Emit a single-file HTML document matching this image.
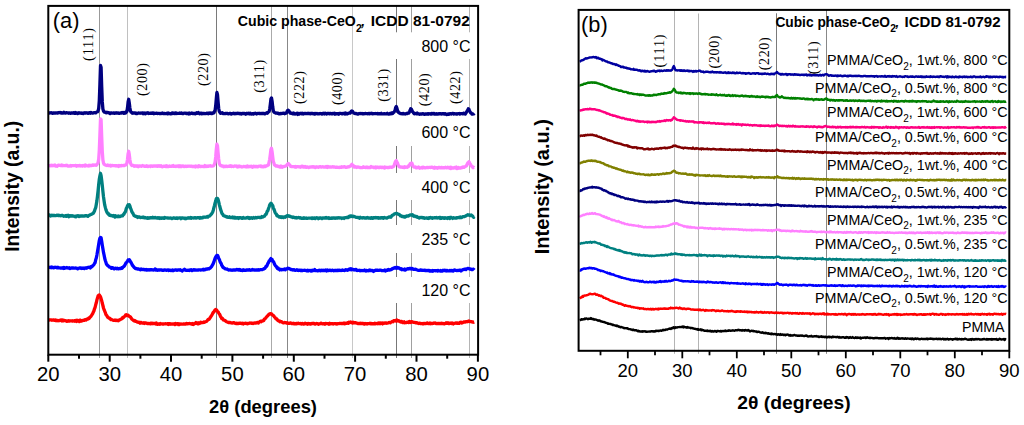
<!DOCTYPE html><html><head><meta charset="utf-8"><style>html,body{margin:0;padding:0;background:#fff;width:1024px;height:425px;overflow:hidden}svg{display:block}text{font-family:"Liberation Sans",sans-serif}.sr{font-family:"Liberation Serif",serif}</style></head><body>
<svg width="1024" height="425" viewBox="0 0 1024 425">
<rect width="1024" height="425" fill="#fff"/>
<line x1="99.5" y1="5.5" x2="99.5" y2="358" stroke="#999" stroke-width="1"/>
<line x1="127.5" y1="5.5" x2="127.5" y2="358" stroke="#c0c0c0" stroke-width="1"/>
<line x1="216.5" y1="5.5" x2="216.5" y2="358" stroke="#7a7a7a" stroke-width="1"/>
<line x1="271.5" y1="5.5" x2="271.5" y2="358" stroke="#aaa" stroke-width="1"/>
<line x1="287.5" y1="5.5" x2="287.5" y2="358" stroke="#888" stroke-width="1"/>
<line x1="352.5" y1="5.5" x2="352.5" y2="358" stroke="#c8c8c8" stroke-width="1"/>
<line x1="396.5" y1="6" x2="396.5" y2="32.3" stroke="#777" stroke-width="1"/>
<line x1="396.5" y1="59" x2="396.5" y2="113" stroke="#777" stroke-width="1"/>
<line x1="396.5" y1="146" x2="396.5" y2="173" stroke="#777" stroke-width="1"/>
<line x1="396.5" y1="200" x2="396.5" y2="225" stroke="#777" stroke-width="1"/>
<line x1="396.5" y1="253" x2="396.5" y2="277" stroke="#777" stroke-width="1"/>
<line x1="396.5" y1="303" x2="396.5" y2="358" stroke="#777" stroke-width="1"/>
<line x1="411.5" y1="6" x2="411.5" y2="32.3" stroke="#a0a0a0" stroke-width="1"/>
<line x1="411.5" y1="59" x2="411.5" y2="113" stroke="#a0a0a0" stroke-width="1"/>
<line x1="411.5" y1="146" x2="411.5" y2="173" stroke="#a0a0a0" stroke-width="1"/>
<line x1="411.5" y1="200" x2="411.5" y2="225" stroke="#a0a0a0" stroke-width="1"/>
<line x1="411.5" y1="253" x2="411.5" y2="277" stroke="#a0a0a0" stroke-width="1"/>
<line x1="411.5" y1="303" x2="411.5" y2="358" stroke="#a0a0a0" stroke-width="1"/>
<line x1="469.5" y1="6" x2="469.5" y2="32.3" stroke="#b4b4b4" stroke-width="1"/>
<line x1="469.5" y1="59" x2="469.5" y2="113" stroke="#b4b4b4" stroke-width="1"/>
<line x1="469.5" y1="146" x2="469.5" y2="173" stroke="#b4b4b4" stroke-width="1"/>
<line x1="469.5" y1="200" x2="469.5" y2="225" stroke="#b4b4b4" stroke-width="1"/>
<line x1="469.5" y1="253" x2="469.5" y2="277" stroke="#b4b4b4" stroke-width="1"/>
<line x1="469.5" y1="303" x2="469.5" y2="358" stroke="#b4b4b4" stroke-width="1"/>
<path d="M48.3 113.0L48.9 113.1L49.5 112.9L50.1 112.7L50.7 112.9L51.3 112.7L51.9 113.0L52.5 113.4L53.1 112.9L53.7 112.8L54.3 113.1L54.9 113.1L55.5 113.0L56.1 112.8L56.7 113.0L57.3 113.2L57.9 112.6L58.5 112.9L59.1 112.5L59.7 112.7L60.3 112.5L60.9 113.0L61.5 112.7L62.1 113.1L62.7 113.1L63.3 113.0L63.9 112.3L64.5 112.9L65.1 113.0L65.7 113.1L66.3 112.6L66.9 112.9L67.5 112.8L68.1 112.8L68.7 113.3L69.3 112.8L69.9 113.0L70.5 113.3L71.1 112.9L71.7 113.0L72.3 113.1L72.9 113.1L73.5 112.7L74.1 113.1L74.7 113.4L75.3 112.6L75.9 113.3L76.5 113.1L77.1 112.9L77.7 113.6L78.3 113.3L78.9 112.7L79.5 113.1L80.1 113.2L80.7 113.0L81.3 113.3L81.9 113.0L82.5 113.2L83.1 113.5L83.7 112.9L84.3 113.1L84.9 112.9L85.5 113.1L86.1 112.7L86.7 112.9L87.3 113.0L87.9 113.3L88.5 113.3L89.1 112.6L89.7 112.8L90.3 113.2L90.9 112.4L91.5 112.8L92.1 112.9L92.7 113.2L93.3 113.0L93.9 112.7L94.5 112.6L95.1 112.6L95.7 112.9L96.3 112.2L96.9 112.0L97.5 111.8L98.1 110.8L98.7 108.4L99.3 100.5L99.9 84.3L100.5 65.5L101.1 67.2L101.7 86.4L102.3 101.9L102.9 109.0L103.5 110.9L104.1 112.0L104.7 112.1L105.3 112.5L105.9 112.2L106.5 112.8L107.1 112.3L107.7 112.3L108.3 112.8L108.9 112.7L109.5 113.0L110.1 113.6L110.7 112.8L111.3 112.9L111.9 113.1L112.5 113.2L113.1 113.0L113.7 113.0L114.3 113.3L114.9 113.3L115.5 112.8L116.1 113.1L116.7 113.1L117.3 112.8L117.9 113.2L118.5 112.9L119.1 113.4L119.7 113.2L120.3 113.1L120.9 112.9L121.5 113.1L122.1 112.5L122.7 112.8L123.3 113.2L123.9 112.4L124.5 113.2L125.1 112.4L125.7 112.9L126.3 112.1L126.9 111.4L127.5 107.9L128.1 101.9L128.7 99.3L129.3 102.9L129.9 108.0L130.5 111.1L131.1 112.3L131.7 112.5L132.3 113.2L132.9 112.8L133.5 113.0L134.1 112.9L134.7 113.0L135.3 112.8L135.9 113.5L136.5 113.2L137.1 113.5L137.7 113.2L138.3 113.0L138.9 113.1L139.5 113.1L140.1 113.3L140.7 113.1L141.3 113.2L141.9 112.9L142.5 113.0L143.1 113.7L143.7 113.1L144.3 113.0L144.9 113.4L145.5 113.7L146.1 112.9L146.7 113.2L147.3 113.1L147.9 112.8L148.5 113.5L149.1 113.3L149.7 113.3L150.3 113.1L150.9 113.4L151.5 113.2L152.1 113.3L152.7 113.0L153.3 113.0L153.9 113.7L154.5 113.2L155.1 113.4L155.7 113.3L156.3 113.2L156.9 113.2L157.5 113.5L158.1 113.3L158.7 113.3L159.3 113.4L159.9 113.7L160.5 113.5L161.1 113.5L161.7 113.2L162.3 113.0L162.9 113.6L163.5 113.6L164.1 113.3L164.7 113.5L165.3 113.6L165.9 113.6L166.5 113.6L167.1 113.2L167.7 113.8L168.3 113.0L168.9 113.6L169.5 113.5L170.1 113.6L170.7 113.9L171.3 113.8L171.9 113.1L172.5 112.9L173.1 113.6L173.7 113.1L174.3 113.4L174.9 113.6L175.5 112.9L176.1 112.8L176.7 113.5L177.3 113.4L177.9 113.3L178.5 113.4L179.1 113.2L179.7 113.0L180.3 113.4L180.9 113.1L181.5 113.0L182.1 113.6L182.7 113.4L183.3 113.5L183.9 113.2L184.5 113.2L185.1 113.2L185.7 113.2L186.3 113.5L186.9 113.2L187.5 113.5L188.1 113.5L188.7 114.0L189.3 113.1L189.9 113.7L190.5 113.4L191.1 113.4L191.7 113.0L192.3 113.3L192.9 113.7L193.5 113.4L194.1 113.5L194.7 113.4L195.3 113.8L195.9 113.4L196.5 112.8L197.1 113.3L197.7 112.9L198.3 112.5L198.9 113.3L199.5 113.8L200.1 113.5L200.7 113.1L201.3 113.2L201.9 113.8L202.5 113.5L203.1 113.5L203.7 113.4L204.3 113.5L204.9 113.7L205.5 113.6L206.1 113.5L206.7 113.1L207.3 113.6L207.9 113.2L208.5 113.7L209.1 113.0L209.7 113.3L210.3 113.3L210.9 112.9L211.5 113.7L212.1 113.6L212.7 113.0L213.3 113.2L213.9 112.8L214.5 111.3L215.1 110.3L215.7 105.8L216.3 98.7L216.9 92.4L217.5 94.6L218.1 102.0L218.7 108.5L219.3 111.4L219.9 112.4L220.5 113.3L221.1 112.9L221.7 113.1L222.3 112.7L222.9 113.7L223.5 113.6L224.1 113.6L224.7 113.6L225.3 113.5L225.9 113.5L226.5 113.4L227.1 113.4L227.7 113.5L228.3 113.9L228.9 113.7L229.5 113.5L230.1 113.4L230.7 113.4L231.3 114.0L231.9 113.7L232.5 113.6L233.1 113.5L233.7 113.2L234.3 113.5L234.9 113.8L235.5 113.5L236.1 113.5L236.7 113.5L237.3 113.6L237.9 113.1L238.5 113.5L239.1 113.3L239.7 113.8L240.3 113.4L240.9 113.7L241.5 114.0L242.1 113.5L242.7 113.4L243.3 113.6L243.9 113.6L244.5 113.3L245.1 113.7L245.7 114.2L246.3 113.5L246.9 113.5L247.5 113.3L248.1 113.7L248.7 113.2L249.3 113.3L249.9 113.9L250.5 113.3L251.1 113.9L251.7 114.0L252.3 113.7L252.9 113.7L253.5 114.1L254.1 113.5L254.7 113.4L255.3 113.2L255.9 113.6L256.5 114.0L257.1 113.8L257.7 113.3L258.3 113.3L258.9 113.4L259.5 113.6L260.1 113.5L260.7 113.6L261.3 113.6L261.9 113.4L262.5 113.5L263.1 113.6L263.7 113.4L264.3 113.6L264.9 113.9L265.5 113.5L266.1 113.3L266.7 112.8L267.3 113.2L267.9 112.4L268.5 112.1L269.1 111.6L269.7 109.0L270.3 104.5L270.9 99.1L271.5 97.9L272.1 101.3L272.7 106.6L273.3 110.7L273.9 112.0L274.5 112.5L275.1 112.7L275.7 113.1L276.3 113.2L276.9 113.0L277.5 113.4L278.1 113.1L278.7 113.8L279.3 113.8L279.9 113.8L280.5 113.4L281.1 113.7L281.7 113.5L282.3 113.4L282.9 113.4L283.5 113.1L284.1 113.1L284.7 113.7L285.3 113.3L285.9 113.2L286.5 112.9L287.1 111.3L287.7 110.4L288.3 110.2L288.9 110.9L289.5 111.8L290.1 113.1L290.7 113.3L291.3 113.1L291.9 113.2L292.5 113.8L293.1 113.7L293.7 113.1L294.3 114.0L294.9 113.8L295.5 114.0L296.1 113.5L296.7 113.5L297.3 113.3L297.9 114.4L298.5 113.6L299.1 114.1L299.7 113.5L300.3 113.7L300.9 113.2L301.5 113.6L302.1 113.9L302.7 113.3L303.3 114.0L303.9 113.8L304.5 113.4L305.1 113.5L305.7 113.5L306.3 113.7L306.9 113.5L307.5 113.4L308.1 113.6L308.7 113.4L309.3 113.3L309.9 113.7L310.5 113.9L311.1 113.3L311.7 113.7L312.3 113.5L312.9 113.4L313.5 113.9L314.1 113.5L314.7 114.1L315.3 113.5L315.9 113.8L316.5 113.6L317.1 113.5L317.7 113.9L318.3 113.7L318.9 113.9L319.5 113.7L320.1 113.4L320.7 113.7L321.3 113.7L321.9 114.0L322.5 113.4L323.1 113.7L323.7 113.2L324.3 113.9L324.9 113.4L325.5 113.2L326.1 113.7L326.7 114.0L327.3 113.3L327.9 113.4L328.5 113.5L329.1 113.4L329.7 113.8L330.3 113.5L330.9 113.5L331.5 113.9L332.1 113.5L332.7 113.8L333.3 113.4L333.9 113.4L334.5 113.2L335.1 114.2L335.7 113.6L336.3 113.8L336.9 113.7L337.5 113.8L338.1 113.7L338.7 114.2L339.3 113.4L339.9 113.3L340.5 113.4L341.1 113.3L341.7 113.9L342.3 113.9L342.9 113.4L343.5 113.3L344.1 113.6L344.7 114.1L345.3 112.9L345.9 113.8L346.5 113.4L347.1 113.9L347.7 113.3L348.3 113.5L348.9 113.1L349.5 113.0L350.1 113.2L350.7 112.4L351.3 111.3L351.9 111.0L352.5 111.2L353.1 112.3L353.7 113.0L354.3 113.3L354.9 113.5L355.5 113.3L356.1 113.6L356.7 113.7L357.3 114.0L357.9 114.2L358.5 113.7L359.1 113.5L359.7 113.7L360.3 113.6L360.9 113.5L361.5 113.7L362.1 113.4L362.7 113.9L363.3 113.7L363.9 113.8L364.5 113.7L365.1 113.5L365.7 113.5L366.3 113.7L366.9 113.6L367.5 113.8L368.1 113.7L368.7 113.4L369.3 113.8L369.9 113.4L370.5 113.6L371.1 113.7L371.7 113.2L372.3 113.8L372.9 113.8L373.5 113.7L374.1 113.6L374.7 113.7L375.3 113.5L375.9 113.7L376.5 113.6L377.1 113.8L377.7 113.4L378.3 113.8L378.9 113.8L379.5 113.7L380.1 113.6L380.7 113.9L381.3 113.3L381.9 113.9L382.5 113.8L383.1 113.8L383.7 113.9L384.3 113.6L384.9 113.7L385.5 113.9L386.1 113.9L386.7 113.8L387.3 113.3L387.9 113.9L388.5 114.0L389.1 114.0L389.7 113.7L390.3 113.2L390.9 113.9L391.5 113.5L392.1 112.8L392.7 113.5L393.3 112.8L393.9 112.3L394.5 111.4L395.1 110.1L395.7 107.4L396.3 106.6L396.9 108.2L397.5 110.4L398.1 111.7L398.7 112.7L399.3 112.9L399.9 113.2L400.5 113.6L401.1 113.7L401.7 113.6L402.3 113.9L402.9 113.4L403.5 113.6L404.1 113.9L404.7 113.8L405.3 114.0L405.9 113.8L406.5 113.5L407.1 113.7L407.7 113.2L408.3 112.8L408.9 113.0L409.5 111.8L410.1 110.5L410.7 108.7L411.3 109.1L411.9 110.3L412.5 111.6L413.1 112.2L413.7 113.2L414.3 113.8L414.9 113.7L415.5 113.5L416.1 113.7L416.7 113.9L417.3 113.0L417.9 113.7L418.5 113.9L419.1 114.0L419.7 114.3L420.3 114.1L420.9 113.9L421.5 113.9L422.1 114.0L422.7 113.6L423.3 113.8L423.9 114.1L424.5 114.4L425.1 113.8L425.7 113.8L426.3 113.9L426.9 114.2L427.5 113.8L428.1 114.2L428.7 113.6L429.3 113.8L429.9 113.8L430.5 114.0L431.1 114.1L431.7 113.4L432.3 113.6L432.9 113.9L433.5 113.6L434.1 113.4L434.7 114.1L435.3 114.0L435.9 114.0L436.5 113.7L437.1 114.1L437.7 113.8L438.3 114.1L438.9 113.6L439.5 113.6L440.1 113.9L440.7 113.6L441.3 114.0L441.9 113.9L442.5 113.6L443.1 113.9L443.7 113.7L444.3 114.1L444.9 113.7L445.5 113.7L446.1 114.2L446.7 114.5L447.3 114.4L447.9 113.9L448.5 113.9L449.1 114.3L449.7 113.8L450.3 113.6L450.9 113.9L451.5 114.0L452.1 113.6L452.7 113.4L453.3 113.4L453.9 114.0L454.5 113.6L455.1 113.8L455.7 113.9L456.3 114.0L456.9 113.7L457.5 114.0L458.1 113.6L458.7 113.7L459.3 113.5L459.9 114.1L460.5 113.8L461.1 113.6L461.7 113.7L462.3 113.7L462.9 113.9L463.5 113.2L464.1 113.3L464.7 113.4L465.3 114.0L465.9 113.1L466.5 112.0L467.1 111.0L467.7 110.2L468.3 108.8L468.9 109.2L469.5 110.9L470.1 111.9L470.7 112.9L471.3 113.1L471.9 114.0L472.5 114.1L473.1 113.9L473.7 113.9L474.3 113.2" fill="none" stroke="#000080" stroke-width="3.3" stroke-linejoin="round"/>
<path d="M48.3 165.8L48.9 165.5L49.5 165.7L50.1 165.8L50.7 165.5L51.3 165.1L51.9 165.7L52.5 165.4L53.1 165.5L53.7 165.4L54.3 165.5L54.9 165.0L55.5 166.0L56.1 165.7L56.7 165.9L57.3 166.2L57.9 165.6L58.5 165.1L59.1 165.4L59.7 165.3L60.3 165.5L60.9 165.7L61.5 165.1L62.1 165.7L62.7 165.2L63.3 165.7L63.9 165.6L64.5 165.6L65.1 165.6L65.7 165.5L66.3 165.5L66.9 165.2L67.5 165.7L68.1 166.2L68.7 166.2L69.3 166.0L69.9 165.9L70.5 165.5L71.1 166.1L71.7 165.7L72.3 165.7L72.9 165.6L73.5 165.7L74.1 165.6L74.7 165.7L75.3 165.4L75.9 165.6L76.5 166.3L77.1 165.7L77.7 165.6L78.3 165.9L78.9 165.9L79.5 165.4L80.1 165.6L80.7 166.0L81.3 165.8L81.9 165.7L82.5 166.1L83.1 165.5L83.7 165.7L84.3 165.5L84.9 166.1L85.5 165.1L86.1 165.5L86.7 165.5L87.3 165.9L87.9 165.8L88.5 166.0L89.1 165.2L89.7 165.8L90.3 165.5L90.9 165.4L91.5 165.7L92.1 165.3L92.7 164.9L93.3 165.3L93.9 165.0L94.5 165.1L95.1 165.3L95.7 165.1L96.3 165.3L96.9 164.5L97.5 163.6L98.1 162.6L98.7 159.0L99.3 150.0L99.9 134.7L100.5 118.9L101.1 119.6L101.7 136.5L102.3 151.5L102.9 159.9L103.5 163.0L104.1 164.3L104.7 164.6L105.3 165.2L105.9 165.2L106.5 165.4L107.1 165.5L107.7 165.0L108.3 165.5L108.9 165.5L109.5 165.7L110.1 165.3L110.7 166.1L111.3 165.7L111.9 165.4L112.5 165.3L113.1 165.7L113.7 165.7L114.3 165.6L114.9 165.8L115.5 165.6L116.1 166.0L116.7 165.6L117.3 165.8L117.9 166.1L118.5 166.5L119.1 165.5L119.7 165.7L120.3 165.6L120.9 166.0L121.5 165.5L122.1 165.6L122.7 165.7L123.3 165.4L123.9 165.4L124.5 165.5L125.1 164.9L125.7 164.9L126.3 164.6L126.9 163.1L127.5 159.4L128.1 153.8L128.7 151.3L129.3 154.6L129.9 159.7L130.5 163.1L131.1 164.5L131.7 165.5L132.3 165.4L132.9 165.3L133.5 165.5L134.1 166.2L134.7 165.9L135.3 166.2L135.9 165.8L136.5 166.2L137.1 165.8L137.7 165.9L138.3 166.7L138.9 166.2L139.5 165.8L140.1 166.0L140.7 166.1L141.3 166.3L141.9 165.9L142.5 165.5L143.1 165.9L143.7 166.0L144.3 166.1L144.9 166.4L145.5 166.1L146.1 166.3L146.7 165.7L147.3 166.3L147.9 166.6L148.5 166.3L149.1 166.1L149.7 166.1L150.3 166.6L150.9 165.8L151.5 166.0L152.1 166.2L152.7 166.3L153.3 166.0L153.9 166.2L154.5 166.0L155.1 166.1L155.7 166.1L156.3 165.8L156.9 166.1L157.5 166.4L158.1 165.8L158.7 166.1L159.3 166.3L159.9 165.8L160.5 166.2L161.1 165.8L161.7 166.5L162.3 166.8L162.9 166.7L163.5 166.1L164.1 166.4L164.7 166.2L165.3 166.2L165.9 166.6L166.5 165.8L167.1 166.5L167.7 166.2L168.3 166.6L168.9 166.2L169.5 166.0L170.1 166.3L170.7 166.4L171.3 166.2L171.9 166.3L172.5 166.0L173.1 165.6L173.7 166.4L174.3 166.4L174.9 166.2L175.5 166.2L176.1 166.5L176.7 166.1L177.3 166.0L177.9 166.2L178.5 166.6L179.1 165.8L179.7 166.6L180.3 166.0L180.9 165.9L181.5 166.6L182.1 166.2L182.7 165.9L183.3 166.1L183.9 166.5L184.5 166.6L185.1 166.1L185.7 166.4L186.3 166.5L186.9 166.1L187.5 166.4L188.1 166.3L188.7 166.1L189.3 166.1L189.9 166.3L190.5 166.3L191.1 166.1L191.7 166.2L192.3 166.6L192.9 166.3L193.5 166.5L194.1 166.6L194.7 166.4L195.3 166.9L195.9 166.1L196.5 166.5L197.1 166.2L197.7 166.8L198.3 166.8L198.9 165.7L199.5 166.0L200.1 166.5L200.7 166.5L201.3 166.5L201.9 166.3L202.5 166.4L203.1 166.5L203.7 166.3L204.3 166.6L204.9 165.6L205.5 166.4L206.1 166.0L206.7 166.5L207.3 166.2L207.9 166.0L208.5 166.3L209.1 165.9L209.7 165.9L210.3 165.7L210.9 166.1L211.5 166.2L212.1 166.2L212.7 165.8L213.3 165.9L213.9 165.2L214.5 164.2L215.1 161.9L215.7 157.0L216.3 149.5L216.9 144.2L217.5 145.9L218.1 152.9L218.7 159.0L219.3 163.4L219.9 164.7L220.5 165.6L221.1 165.5L221.7 166.0L222.3 166.1L222.9 166.0L223.5 166.7L224.1 166.3L224.7 166.7L225.3 166.6L225.9 166.1L226.5 166.2L227.1 166.5L227.7 166.4L228.3 166.4L228.9 166.3L229.5 165.9L230.1 166.3L230.7 165.8L231.3 166.5L231.9 166.2L232.5 166.2L233.1 166.4L233.7 166.5L234.3 166.1L234.9 166.0L235.5 166.2L236.1 165.9L236.7 166.2L237.3 166.9L237.9 166.2L238.5 166.7L239.1 166.1L239.7 166.6L240.3 166.4L240.9 166.5L241.5 166.7L242.1 167.0L242.7 166.6L243.3 166.6L243.9 166.3L244.5 166.7L245.1 166.5L245.7 166.8L246.3 166.5L246.9 167.0L247.5 166.0L248.1 166.5L248.7 166.8L249.3 166.5L249.9 166.3L250.5 166.5L251.1 166.2L251.7 166.6L252.3 167.2L252.9 166.9L253.5 166.2L254.1 166.3L254.7 166.4L255.3 166.8L255.9 166.3L256.5 166.4L257.1 166.8L257.7 166.8L258.3 166.4L258.9 166.2L259.5 166.1L260.1 166.3L260.7 165.9L261.3 166.7L261.9 166.3L262.5 166.6L263.1 166.9L263.7 166.7L264.3 166.0L264.9 166.5L265.5 166.5L266.1 165.9L266.7 165.7L267.3 165.7L267.9 164.9L268.5 164.9L269.1 162.1L269.7 159.3L270.3 154.7L270.9 149.7L271.5 148.2L272.1 151.7L272.7 156.8L273.3 161.4L273.9 163.0L274.5 164.9L275.1 165.3L275.7 165.9L276.3 166.1L276.9 165.9L277.5 166.1L278.1 166.6L278.7 166.5L279.3 166.3L279.9 167.1L280.5 167.2L281.1 166.1L281.7 166.6L282.3 167.3L282.9 166.8L283.5 166.6L284.1 166.5L284.7 166.3L285.3 166.2L285.9 165.8L286.5 165.7L287.1 164.7L287.7 163.9L288.3 163.4L288.9 164.2L289.5 164.7L290.1 165.6L290.7 166.4L291.3 166.5L291.9 166.7L292.5 166.7L293.1 166.7L293.7 166.7L294.3 166.7L294.9 167.0L295.5 166.5L296.1 167.2L296.7 166.8L297.3 166.6L297.9 166.7L298.5 166.7L299.1 166.9L299.7 166.7L300.3 167.2L300.9 166.7L301.5 166.2L302.1 166.7L302.7 166.3L303.3 166.9L303.9 167.2L304.5 167.1L305.1 166.5L305.7 166.7L306.3 167.4L306.9 167.0L307.5 166.9L308.1 167.2L308.7 167.6L309.3 167.3L309.9 167.0L310.5 167.1L311.1 167.1L311.7 166.8L312.3 166.7L312.9 167.0L313.5 166.7L314.1 167.0L314.7 167.0L315.3 167.6L315.9 166.8L316.5 167.0L317.1 167.0L317.7 167.1L318.3 167.3L318.9 166.9L319.5 166.8L320.1 166.6L320.7 166.8L321.3 167.2L321.9 167.0L322.5 166.7L323.1 166.9L323.7 167.0L324.3 167.2L324.9 166.9L325.5 167.0L326.1 166.5L326.7 166.7L327.3 167.5L327.9 166.5L328.5 167.0L329.1 167.1L329.7 167.0L330.3 166.9L330.9 167.1L331.5 167.1L332.1 167.1L332.7 166.6L333.3 167.1L333.9 166.9L334.5 166.9L335.1 167.2L335.7 167.3L336.3 167.4L336.9 167.0L337.5 167.4L338.1 167.4L338.7 167.4L339.3 167.5L339.9 167.1L340.5 167.1L341.1 167.4L341.7 166.7L342.3 167.2L342.9 167.0L343.5 167.0L344.1 166.6L344.7 166.9L345.3 167.1L345.9 167.4L346.5 167.4L347.1 167.0L347.7 167.0L348.3 166.7L348.9 166.9L349.5 166.5L350.1 166.3L350.7 166.0L351.3 164.9L351.9 164.3L352.5 164.9L353.1 165.4L353.7 166.0L354.3 167.1L354.9 167.0L355.5 166.6L356.1 167.3L356.7 167.5L357.3 167.1L357.9 167.0L358.5 167.1L359.1 167.3L359.7 167.4L360.3 167.6L360.9 167.6L361.5 167.6L362.1 167.6L362.7 167.4L363.3 166.8L363.9 167.2L364.5 167.4L365.1 167.2L365.7 167.5L366.3 167.2L366.9 167.0L367.5 167.7L368.1 167.5L368.7 167.4L369.3 167.6L369.9 167.6L370.5 167.4L371.1 166.6L371.7 167.1L372.3 167.2L372.9 167.1L373.5 167.4L374.1 167.7L374.7 167.2L375.3 167.0L375.9 167.9L376.5 167.2L377.1 167.0L377.7 167.4L378.3 167.5L378.9 167.2L379.5 167.6L380.1 167.2L380.7 167.1L381.3 167.4L381.9 167.6L382.5 167.2L383.1 167.4L383.7 167.3L384.3 168.1L384.9 167.1L385.5 167.7L386.1 167.3L386.7 167.3L387.3 167.5L387.9 167.6L388.5 167.6L389.1 167.4L389.7 167.1L390.3 167.1L390.9 167.3L391.5 167.2L392.1 167.3L392.7 166.8L393.3 166.6L393.9 166.0L394.5 164.4L395.1 162.5L395.7 161.2L396.3 160.6L396.9 162.1L397.5 162.9L398.1 164.9L398.7 165.8L399.3 166.8L399.9 167.0L400.5 166.9L401.1 167.0L401.7 167.2L402.3 167.3L402.9 167.1L403.5 167.3L404.1 167.7L404.7 166.8L405.3 167.3L405.9 167.0L406.5 167.2L407.1 167.3L407.7 166.9L408.3 166.7L408.9 165.4L409.5 165.3L410.1 163.8L410.7 163.3L411.3 163.2L411.9 163.2L412.5 164.8L413.1 166.0L413.7 167.0L414.3 167.0L414.9 167.2L415.5 166.9L416.1 167.8L416.7 167.9L417.3 167.5L417.9 167.4L418.5 167.0L419.1 167.8L419.7 168.3L420.3 167.8L420.9 167.9L421.5 167.7L422.1 167.3L422.7 168.0L423.3 167.3L423.9 167.6L424.5 167.7L425.1 167.9L425.7 167.7L426.3 167.7L426.9 167.4L427.5 167.3L428.1 167.7L428.7 167.5L429.3 167.3L429.9 167.3L430.5 167.5L431.1 167.2L431.7 167.3L432.3 167.2L432.9 167.7L433.5 167.8L434.1 168.3L434.7 167.3L435.3 167.5L435.9 168.0L436.5 167.7L437.1 167.6L437.7 168.2L438.3 167.6L438.9 167.4L439.5 167.4L440.1 167.8L440.7 167.8L441.3 167.4L441.9 167.5L442.5 167.9L443.1 167.9L443.7 167.6L444.3 167.9L444.9 167.9L445.5 167.3L446.1 167.7L446.7 167.9L447.3 167.6L447.9 167.2L448.5 167.7L449.1 168.0L449.7 168.2L450.3 167.2L450.9 168.5L451.5 167.5L452.1 168.1L452.7 168.1L453.3 168.1L453.9 167.8L454.5 167.5L455.1 168.0L455.7 167.6L456.3 167.1L456.9 168.6L457.5 168.0L458.1 168.3L458.7 167.5L459.3 168.2L459.9 168.2L460.5 168.2L461.1 167.7L461.7 167.3L462.3 167.6L462.9 167.0L463.5 167.0L464.1 167.4L464.7 166.8L465.3 166.7L465.9 166.1L466.5 165.8L467.1 164.5L467.7 163.0L468.3 162.5L468.9 161.8L469.5 162.6L470.1 164.1L470.7 164.6L471.3 165.9L471.9 166.3L472.5 167.1L473.1 167.8L473.7 167.3L474.3 167.7" fill="none" stroke="#ff80ff" stroke-width="3.3" stroke-linejoin="round"/>
<path d="M48.3 214.9L48.9 214.9L49.5 214.9L50.1 215.7L50.7 216.0L51.3 215.5L51.9 215.1L52.5 215.6L53.1 215.3L53.7 215.6L54.3 215.5L54.9 215.6L55.5 215.7L56.1 215.4L56.7 215.4L57.3 215.1L57.9 215.5L58.5 215.2L59.1 215.6L59.7 215.4L60.3 215.7L60.9 215.8L61.5 215.3L62.1 215.5L62.7 215.5L63.3 216.0L63.9 216.3L64.5 216.1L65.1 215.8L65.7 216.3L66.3 215.5L66.9 216.3L67.5 215.8L68.1 215.2L68.7 216.7L69.3 216.4L69.9 215.7L70.5 216.1L71.1 216.0L71.7 216.1L72.3 215.7L72.9 215.9L73.5 216.2L74.1 216.2L74.7 216.5L75.3 216.2L75.9 216.8L76.5 216.0L77.1 216.2L77.7 215.6L78.3 215.8L78.9 216.6L79.5 215.9L80.1 216.3L80.7 216.1L81.3 215.8L81.9 216.0L82.5 215.9L83.1 215.9L83.7 216.2L84.3 216.1L84.9 215.8L85.5 215.6L86.1 215.9L86.7 215.7L87.3 215.9L87.9 216.3L88.5 215.7L89.1 215.3L89.7 215.1L90.3 214.7L90.9 214.5L91.5 214.2L92.1 214.0L92.7 213.5L93.3 213.2L93.9 212.1L94.5 211.0L95.1 209.1L95.7 207.7L96.3 204.4L96.9 200.9L97.5 196.0L98.1 190.7L98.7 184.4L99.3 179.2L99.9 175.8L100.5 173.3L101.1 175.7L101.7 180.2L102.3 185.4L102.9 191.3L103.5 196.8L104.1 200.9L104.7 204.9L105.3 207.4L105.9 209.6L106.5 211.2L107.1 212.5L107.7 213.4L108.3 214.1L108.9 214.0L109.5 215.4L110.1 215.4L110.7 215.5L111.3 215.4L111.9 215.7L112.5 216.0L113.1 216.1L113.7 215.6L114.3 216.4L114.9 217.0L115.5 215.7L116.1 216.6L116.7 216.5L117.3 216.3L117.9 216.8L118.5 216.0L119.1 216.4L119.7 216.7L120.3 216.2L120.9 216.0L121.5 216.0L122.1 215.6L122.7 215.8L123.3 214.6L123.9 214.4L124.5 212.9L125.1 212.3L125.7 210.8L126.3 208.5L126.9 207.6L127.5 205.8L128.1 204.8L128.7 205.0L129.3 204.7L129.9 205.9L130.5 208.1L131.1 209.4L131.7 211.4L132.3 212.5L132.9 213.3L133.5 214.5L134.1 215.6L134.7 216.0L135.3 216.1L135.9 216.4L136.5 216.6L137.1 216.7L137.7 217.5L138.3 217.1L138.9 216.8L139.5 217.1L140.1 217.5L140.7 217.5L141.3 217.4L141.9 217.3L142.5 217.5L143.1 217.0L143.7 217.2L144.3 217.8L144.9 217.5L145.5 217.8L146.1 218.0L146.7 217.9L147.3 217.7L147.9 218.3L148.5 217.9L149.1 217.7L149.7 218.0L150.3 217.9L150.9 217.6L151.5 217.9L152.1 217.8L152.7 217.3L153.3 217.8L153.9 217.8L154.5 217.8L155.1 217.4L155.7 217.8L156.3 217.9L156.9 218.0L157.5 217.6L158.1 218.2L158.7 217.6L159.3 217.9L159.9 218.4L160.5 217.8L161.1 217.9L161.7 218.3L162.3 217.9L162.9 218.0L163.5 218.1L164.1 218.4L164.7 217.4L165.3 217.8L165.9 217.8L166.5 217.8L167.1 217.9L167.7 217.9L168.3 218.2L168.9 217.9L169.5 218.2L170.1 218.2L170.7 217.9L171.3 218.2L171.9 218.6L172.5 218.2L173.1 218.0L173.7 218.1L174.3 217.9L174.9 218.2L175.5 218.4L176.1 217.9L176.7 218.1L177.3 218.5L177.9 218.0L178.5 218.2L179.1 217.8L179.7 217.9L180.3 218.0L180.9 218.7L181.5 218.0L182.1 218.0L182.7 218.0L183.3 218.1L183.9 218.3L184.5 218.2L185.1 218.7L185.7 218.1L186.3 218.5L186.9 218.2L187.5 218.2L188.1 217.7L188.7 218.0L189.3 218.0L189.9 218.0L190.5 217.4L191.1 218.3L191.7 217.9L192.3 217.9L192.9 217.9L193.5 217.9L194.1 218.1L194.7 217.6L195.3 217.7L195.9 218.0L196.5 218.0L197.1 217.8L197.7 217.7L198.3 217.6L198.9 217.8L199.5 218.2L200.1 217.5L200.7 218.2L201.3 218.0L201.9 217.6L202.5 217.9L203.1 217.2L203.7 217.1L204.3 217.1L204.9 217.3L205.5 217.2L206.1 217.1L206.7 217.2L207.3 216.4L207.9 217.0L208.5 216.3L209.1 216.2L209.7 215.9L210.3 215.3L210.9 214.6L211.5 213.9L212.1 213.1L212.7 211.9L213.3 210.2L213.9 207.7L214.5 205.5L215.1 203.0L215.7 201.1L216.3 198.6L216.9 198.6L217.5 198.4L218.1 199.6L218.7 202.0L219.3 204.6L219.9 206.8L220.5 209.2L221.1 210.8L221.7 212.7L222.3 213.9L222.9 214.5L223.5 215.7L224.1 215.8L224.7 216.2L225.3 216.2L225.9 216.6L226.5 217.1L227.1 216.7L227.7 217.3L228.3 217.3L228.9 217.4L229.5 216.8L230.1 217.4L230.7 217.7L231.3 217.4L231.9 217.6L232.5 217.0L233.1 217.9L233.7 217.5L234.3 218.0L234.9 217.2L235.5 218.0L236.1 217.7L236.7 218.0L237.3 217.6L237.9 217.7L238.5 218.5L239.1 217.6L239.7 217.7L240.3 217.8L240.9 217.6L241.5 218.2L242.1 218.4L242.7 217.7L243.3 217.4L243.9 218.2L244.5 218.2L245.1 218.1L245.7 218.2L246.3 217.7L246.9 217.8L247.5 217.5L248.1 217.5L248.7 218.2L249.3 217.7L249.9 218.5L250.5 217.9L251.1 217.7L251.7 218.1L252.3 218.3L252.9 217.9L253.5 217.4L254.1 217.9L254.7 218.1L255.3 217.6L255.9 217.5L256.5 217.9L257.1 217.7L257.7 217.3L258.3 217.4L258.9 217.3L259.5 217.5L260.1 217.4L260.7 217.6L261.3 217.4L261.9 216.6L262.5 217.0L263.1 216.9L263.7 216.5L264.3 216.3L264.9 215.4L265.5 214.6L266.1 214.3L266.7 212.8L267.3 211.2L267.9 210.6L268.5 208.5L269.1 207.0L269.7 205.1L270.3 203.9L270.9 203.3L271.5 203.7L272.1 204.8L272.7 205.5L273.3 208.0L273.9 209.1L274.5 210.7L275.1 212.5L275.7 213.5L276.3 214.0L276.9 215.7L277.5 215.5L278.1 216.2L278.7 216.5L279.3 217.1L279.9 216.7L280.5 217.2L281.1 216.8L281.7 217.4L282.3 216.9L282.9 217.0L283.5 217.6L284.1 217.0L284.7 216.8L285.3 217.3L285.9 216.5L286.5 216.0L287.1 216.2L287.7 215.5L288.3 216.1L288.9 216.3L289.5 216.0L290.1 216.2L290.7 216.7L291.3 216.9L291.9 216.8L292.5 217.5L293.1 216.9L293.7 217.4L294.3 217.5L294.9 217.6L295.5 217.9L296.1 217.5L296.7 218.0L297.3 217.8L297.9 217.7L298.5 217.5L299.1 217.6L299.7 218.0L300.3 217.7L300.9 218.0L301.5 218.3L302.1 218.3L302.7 218.4L303.3 217.9L303.9 217.7L304.5 218.3L305.1 218.1L305.7 218.3L306.3 218.0L306.9 218.4L307.5 218.3L308.1 218.2L308.7 218.2L309.3 218.1L309.9 218.1L310.5 218.1L311.1 218.3L311.7 217.9L312.3 218.5L312.9 218.0L313.5 218.3L314.1 218.0L314.7 218.0L315.3 218.6L315.9 218.0L316.5 217.7L317.1 217.9L317.7 218.0L318.3 218.7L318.9 218.1L319.5 218.3L320.1 217.8L320.7 218.2L321.3 218.2L321.9 218.6L322.5 217.9L323.1 218.2L323.7 218.1L324.3 217.8L324.9 218.0L325.5 218.0L326.1 217.4L326.7 218.2L327.3 218.2L327.9 217.9L328.5 217.7L329.1 218.5L329.7 218.1L330.3 218.3L330.9 218.4L331.5 217.9L332.1 218.3L332.7 218.0L333.3 218.0L333.9 218.0L334.5 218.0L335.1 218.3L335.7 218.0L336.3 218.0L336.9 217.9L337.5 218.1L338.1 217.7L338.7 217.8L339.3 218.0L339.9 217.8L340.5 217.9L341.1 217.8L341.7 218.5L342.3 218.3L342.9 218.0L343.5 217.8L344.1 218.4L344.7 217.8L345.3 217.6L345.9 217.6L346.5 217.5L347.1 217.7L347.7 217.1L348.3 217.5L348.9 216.4L349.5 216.7L350.1 216.0L350.7 216.6L351.3 216.0L351.9 216.1L352.5 216.4L353.1 216.7L353.7 216.2L354.3 216.7L354.9 216.6L355.5 217.2L356.1 217.3L356.7 217.4L357.3 217.4L357.9 217.5L358.5 217.5L359.1 217.9L359.7 218.2L360.3 217.3L360.9 217.8L361.5 217.8L362.1 218.0L362.7 217.7L363.3 217.9L363.9 217.6L364.5 218.1L365.1 218.0L365.7 217.9L366.3 218.1L366.9 217.9L367.5 217.5L368.1 218.1L368.7 218.0L369.3 217.9L369.9 218.2L370.5 218.3L371.1 217.6L371.7 217.7L372.3 218.4L372.9 218.3L373.5 217.7L374.1 217.6L374.7 217.8L375.3 217.8L375.9 217.5L376.5 217.9L377.1 217.6L377.7 217.6L378.3 218.2L378.9 217.7L379.5 217.9L380.1 218.0L380.7 218.1L381.3 217.7L381.9 217.8L382.5 217.6L383.1 218.3L383.7 217.9L384.3 217.4L384.9 217.7L385.5 217.9L386.1 217.8L386.7 218.1L387.3 217.9L387.9 217.3L388.5 217.3L389.1 216.8L389.7 217.1L390.3 216.8L390.9 217.3L391.5 216.2L392.1 215.3L392.7 215.2L393.3 215.0L393.9 214.2L394.5 213.9L395.1 213.7L395.7 213.6L396.3 213.4L396.9 213.3L397.5 214.0L398.1 214.0L398.7 214.4L399.3 214.6L399.9 215.1L400.5 215.9L401.1 215.6L401.7 216.3L402.3 216.7L402.9 216.5L403.5 216.8L404.1 216.4L404.7 217.1L405.3 217.0L405.9 216.6L406.5 215.9L407.1 215.9L407.7 216.2L408.3 216.1L408.9 215.5L409.5 215.5L410.1 214.8L410.7 214.8L411.3 214.9L411.9 215.1L412.5 214.8L413.1 215.8L413.7 216.2L414.3 215.8L414.9 216.0L415.5 216.7L416.1 216.7L416.7 216.4L417.3 217.4L417.9 217.4L418.5 217.3L419.1 218.1L419.7 217.6L420.3 217.4L420.9 217.7L421.5 217.4L422.1 217.5L422.7 217.9L423.3 217.6L423.9 217.7L424.5 218.3L425.1 218.1L425.7 218.1L426.3 218.0L426.9 218.0L427.5 218.3L428.1 217.9L428.7 218.4L429.3 217.6L429.9 217.8L430.5 217.5L431.1 217.8L431.7 218.1L432.3 218.3L432.9 217.7L433.5 217.9L434.1 217.8L434.7 217.7L435.3 217.6L435.9 217.9L436.5 217.4L437.1 218.0L437.7 217.9L438.3 217.7L438.9 217.6L439.5 217.5L440.1 218.4L440.7 217.5L441.3 218.4L441.9 218.1L442.5 217.8L443.1 217.6L443.7 218.2L444.3 218.4L444.9 217.7L445.5 217.8L446.1 218.2L446.7 218.0L447.3 218.5L447.9 217.7L448.5 218.0L449.1 217.5L449.7 218.5L450.3 217.7L450.9 217.3L451.5 217.8L452.1 217.8L452.7 218.4L453.3 217.7L453.9 217.8L454.5 218.0L455.1 218.2L455.7 217.8L456.3 218.1L456.9 217.9L457.5 217.6L458.1 217.7L458.7 217.6L459.3 217.3L459.9 217.8L460.5 217.0L461.1 217.6L461.7 217.5L462.3 217.0L462.9 216.7L463.5 216.6L464.1 216.6L464.7 216.5L465.3 216.1L465.9 216.0L466.5 215.3L467.1 215.3L467.7 214.7L468.3 215.2L468.9 215.0L469.5 214.9L470.1 215.5L470.7 215.6L471.3 214.9L471.9 215.9L472.5 215.8L473.1 216.7L473.7 217.3L474.3 216.7" fill="none" stroke="#008080" stroke-width="3.3" stroke-linejoin="round"/>
<path d="M48.3 267.2L48.9 267.2L49.5 267.4L50.1 267.5L50.7 267.7L51.3 267.1L51.9 267.8L52.5 267.1L53.1 267.5L53.7 267.8L54.3 267.7L54.9 267.2L55.5 267.3L56.1 267.4L56.7 267.6L57.3 267.9L57.9 267.3L58.5 267.8L59.1 267.9L59.7 267.9L60.3 267.9L60.9 268.2L61.5 267.9L62.1 268.1L62.7 268.0L63.3 268.4L63.9 267.4L64.5 268.3L65.1 267.9L65.7 267.9L66.3 267.7L66.9 267.5L67.5 267.9L68.1 267.9L68.7 268.2L69.3 267.7L69.9 268.5L70.5 268.2L71.1 268.1L71.7 268.0L72.3 268.0L72.9 267.9L73.5 268.1L74.1 268.2L74.7 268.2L75.3 267.9L75.9 268.2L76.5 268.1L77.1 268.4L77.7 268.8L78.3 268.5L78.9 268.3L79.5 267.9L80.1 267.9L80.7 267.8L81.3 268.5L81.9 268.1L82.5 268.3L83.1 268.0L83.7 268.2L84.3 268.5L84.9 267.9L85.5 268.0L86.1 267.8L86.7 268.2L87.3 267.6L87.9 267.5L88.5 267.3L89.1 267.2L89.7 267.5L90.3 268.0L90.9 266.8L91.5 267.0L92.1 266.5L92.7 265.7L93.3 265.3L93.9 264.6L94.5 263.4L95.1 262.7L95.7 259.7L96.3 258.0L96.9 255.1L97.5 251.5L98.1 247.9L98.7 244.2L99.3 240.6L99.9 238.2L100.5 237.4L101.1 237.7L101.7 241.3L102.3 245.2L102.9 248.7L103.5 252.4L104.1 255.1L104.7 258.3L105.3 260.5L105.9 262.3L106.5 264.2L107.1 264.7L107.7 265.7L108.3 265.8L108.9 266.7L109.5 267.1L110.1 267.2L110.7 267.4L111.3 268.3L111.9 267.6L112.5 267.7L113.1 267.9L113.7 268.6L114.3 268.9L114.9 268.5L115.5 268.2L116.1 268.3L116.7 268.8L117.3 268.3L117.9 268.9L118.5 268.9L119.1 268.5L119.7 268.6L120.3 268.6L120.9 268.7L121.5 267.8L122.1 268.2L122.7 267.4L123.3 266.8L123.9 266.5L124.5 265.7L125.1 264.6L125.7 263.4L126.3 262.5L126.9 262.0L127.5 261.1L128.1 260.0L128.7 259.9L129.3 259.7L129.9 260.6L130.5 261.8L131.1 262.6L131.7 263.7L132.3 265.1L132.9 265.9L133.5 266.5L134.1 267.5L134.7 267.8L135.3 268.5L135.9 268.5L136.5 268.6L137.1 268.9L137.7 269.0L138.3 268.9L138.9 269.1L139.5 269.5L140.1 269.5L140.7 269.8L141.3 269.0L141.9 269.4L142.5 269.4L143.1 269.6L143.7 269.5L144.3 269.5L144.9 269.9L145.5 269.7L146.1 269.4L146.7 270.1L147.3 270.0L147.9 269.6L148.5 270.0L149.1 269.6L149.7 270.1L150.3 269.8L150.9 269.6L151.5 269.8L152.1 269.7L152.7 269.9L153.3 270.0L153.9 269.9L154.5 269.8L155.1 268.9L155.7 270.0L156.3 269.4L156.9 270.0L157.5 270.3L158.1 270.1L158.7 269.9L159.3 270.0L159.9 270.0L160.5 269.9L161.1 269.9L161.7 269.8L162.3 270.4L162.9 270.1L163.5 270.3L164.1 270.0L164.7 270.1L165.3 270.0L165.9 270.2L166.5 270.3L167.1 270.2L167.7 269.9L168.3 269.9L168.9 270.6L169.5 270.1L170.1 270.1L170.7 270.6L171.3 270.5L171.9 270.3L172.5 270.0L173.1 270.8L173.7 270.3L174.3 270.3L174.9 270.1L175.5 269.8L176.1 269.8L176.7 270.3L177.3 270.3L177.9 270.1L178.5 269.8L179.1 269.8L179.7 270.1L180.3 269.8L180.9 270.4L181.5 270.5L182.1 271.0L182.7 270.4L183.3 270.0L183.9 269.9L184.5 269.2L185.1 270.0L185.7 270.1L186.3 270.4L186.9 270.3L187.5 270.3L188.1 270.2L188.7 270.3L189.3 270.5L189.9 269.8L190.5 270.0L191.1 269.7L191.7 270.6L192.3 270.5L192.9 270.3L193.5 269.7L194.1 270.1L194.7 270.0L195.3 270.1L195.9 270.0L196.5 270.2L197.1 269.9L197.7 270.2L198.3 270.0L198.9 269.9L199.5 269.9L200.1 269.8L200.7 270.1L201.3 269.8L201.9 269.9L202.5 269.7L203.1 269.3L203.7 270.0L204.3 269.4L204.9 269.8L205.5 269.6L206.1 269.0L206.7 269.1L207.3 269.1L207.9 268.9L208.5 268.6L209.1 268.9L209.7 268.3L210.3 268.0L210.9 267.2L211.5 266.7L212.1 265.6L212.7 264.7L213.3 263.5L213.9 261.9L214.5 260.1L215.1 258.3L215.7 257.1L216.3 256.0L216.9 255.3L217.5 255.3L218.1 256.5L218.7 258.4L219.3 259.3L219.9 261.1L220.5 262.7L221.1 263.3L221.7 265.2L222.3 266.0L222.9 267.4L223.5 267.6L224.1 267.9L224.7 268.4L225.3 268.8L225.9 268.8L226.5 269.2L227.1 268.9L227.7 269.4L228.3 269.7L228.9 270.1L229.5 269.8L230.1 269.8L230.7 270.1L231.3 270.1L231.9 270.3L232.5 270.2L233.1 269.9L233.7 270.0L234.3 270.0L234.9 270.1L235.5 270.0L236.1 269.8L236.7 269.4L237.3 269.9L237.9 269.5L238.5 270.1L239.1 270.1L239.7 269.6L240.3 270.3L240.9 270.3L241.5 270.1L242.1 270.6L242.7 270.6L243.3 269.8L243.9 270.4L244.5 270.2L245.1 270.2L245.7 270.4L246.3 269.9L246.9 270.0L247.5 269.9L248.1 269.9L248.7 270.1L249.3 269.7L249.9 269.8L250.5 270.3L251.1 270.1L251.7 270.2L252.3 269.5L252.9 269.8L253.5 269.9L254.1 270.0L254.7 269.8L255.3 270.2L255.9 269.9L256.5 269.9L257.1 269.9L257.7 270.1L258.3 269.7L258.9 270.1L259.5 269.9L260.1 269.7L260.7 269.6L261.3 269.6L261.9 269.6L262.5 269.5L263.1 269.1L263.7 269.0L264.3 268.4L264.9 268.3L265.5 267.4L266.1 266.1L266.7 266.2L267.3 264.9L267.9 263.4L268.5 262.5L269.1 261.1L269.7 260.8L270.3 259.5L270.9 258.6L271.5 259.3L272.1 259.6L272.7 261.2L273.3 261.5L273.9 262.4L274.5 264.2L275.1 265.2L275.7 266.1L276.3 266.4L276.9 267.7L277.5 268.6L278.1 268.0L278.7 269.1L279.3 268.9L279.9 269.9L280.5 269.5L281.1 269.4L281.7 269.8L282.3 269.7L282.9 269.4L283.5 269.7L284.1 269.3L284.7 268.9L285.3 269.8L285.9 269.0L286.5 268.8L287.1 268.9L287.7 268.2L288.3 268.3L288.9 268.6L289.5 268.7L290.1 269.1L290.7 269.6L291.3 269.3L291.9 269.8L292.5 270.0L293.1 269.6L293.7 270.1L294.3 269.8L294.9 270.4L295.5 270.3L296.1 270.2L296.7 269.8L297.3 270.3L297.9 270.0L298.5 270.5L299.1 270.3L299.7 270.1L300.3 270.6L300.9 270.5L301.5 270.2L302.1 270.7L302.7 270.3L303.3 270.3L303.9 270.4L304.5 270.2L305.1 270.3L305.7 270.3L306.3 270.8L306.9 270.8L307.5 270.3L308.1 270.9L308.7 270.4L309.3 270.5L309.9 270.7L310.5 270.5L311.1 271.1L311.7 270.5L312.3 270.1L312.9 270.8L313.5 270.3L314.1 270.3L314.7 269.6L315.3 270.7L315.9 270.7L316.5 270.7L317.1 270.7L317.7 270.9L318.3 270.4L318.9 270.7L319.5 270.2L320.1 270.4L320.7 270.8L321.3 270.6L321.9 270.1L322.5 270.6L323.1 270.4L323.7 270.2L324.3 270.6L324.9 270.4L325.5 270.0L326.1 270.2L326.7 271.0L327.3 270.0L327.9 270.5L328.5 270.6L329.1 270.6L329.7 270.1L330.3 270.4L330.9 270.5L331.5 270.7L332.1 270.3L332.7 270.1L333.3 270.7L333.9 270.8L334.5 270.6L335.1 270.3L335.7 270.6L336.3 270.5L336.9 270.7L337.5 270.1L338.1 270.5L338.7 270.4L339.3 270.1L339.9 270.5L340.5 270.4L341.1 270.3L341.7 270.5L342.3 270.0L342.9 270.3L343.5 270.4L344.1 270.4L344.7 270.5L345.3 269.8L345.9 269.7L346.5 270.0L347.1 270.0L347.7 270.3L348.3 269.8L348.9 269.2L349.5 269.5L350.1 268.9L350.7 268.7L351.3 269.8L351.9 269.1L352.5 269.3L353.1 269.4L353.7 269.9L354.3 269.6L354.9 270.0L355.5 269.5L356.1 269.5L356.7 270.4L357.3 270.5L357.9 270.3L358.5 270.3L359.1 270.4L359.7 270.2L360.3 270.8L360.9 270.6L361.5 270.6L362.1 270.5L362.7 270.7L363.3 270.6L363.9 270.7L364.5 270.1L365.1 270.6L365.7 271.1L366.3 270.3L366.9 270.5L367.5 270.7L368.1 270.8L368.7 270.7L369.3 270.0L369.9 270.6L370.5 270.2L371.1 270.3L371.7 270.7L372.3 270.4L372.9 270.7L373.5 271.4L374.1 270.7L374.7 270.7L375.3 270.2L375.9 270.3L376.5 270.2L377.1 270.3L377.7 270.2L378.3 270.3L378.9 270.4L379.5 270.2L380.1 270.1L380.7 270.1L381.3 270.6L381.9 270.5L382.5 270.7L383.1 270.7L383.7 270.3L384.3 270.6L384.9 269.9L385.5 271.0L386.1 270.6L386.7 270.2L387.3 269.9L387.9 270.2L388.5 269.5L389.1 269.7L389.7 270.0L390.3 269.7L390.9 269.3L391.5 269.5L392.1 268.7L392.7 268.8L393.3 268.3L393.9 268.0L394.5 268.1L395.1 267.5L395.7 268.1L396.3 267.4L396.9 268.2L397.5 267.4L398.1 268.1L398.7 267.9L399.3 268.1L399.9 268.7L400.5 269.1L401.1 268.8L401.7 269.7L402.3 269.2L402.9 269.6L403.5 269.7L404.1 269.8L404.7 269.1L405.3 270.1L405.9 269.7L406.5 269.3L407.1 269.0L407.7 268.7L408.3 268.6L408.9 269.0L409.5 268.6L410.1 268.3L410.7 268.4L411.3 269.0L411.9 268.5L412.5 268.6L413.1 269.3L413.7 269.2L414.3 269.3L414.9 269.3L415.5 269.2L416.1 269.5L416.7 269.8L417.3 270.0L417.9 270.2L418.5 270.4L419.1 270.3L419.7 270.4L420.3 270.1L420.9 269.8L421.5 270.3L422.1 270.2L422.7 270.3L423.3 270.4L423.9 270.2L424.5 270.2L425.1 270.5L425.7 270.6L426.3 270.4L426.9 270.7L427.5 270.5L428.1 270.3L428.7 270.6L429.3 271.1L429.9 270.4L430.5 270.9L431.1 271.0L431.7 271.0L432.3 270.4L432.9 271.2L433.5 270.7L434.1 270.6L434.7 270.6L435.3 270.8L435.9 270.7L436.5 270.6L437.1 271.0L437.7 270.4L438.3 270.4L438.9 270.9L439.5 270.8L440.1 271.0L440.7 270.4L441.3 271.0L441.9 270.8L442.5 271.1L443.1 270.3L443.7 270.7L444.3 270.6L444.9 270.2L445.5 270.5L446.1 271.0L446.7 270.5L447.3 270.4L447.9 270.9L448.5 270.9L449.1 270.9L449.7 270.4L450.3 270.6L450.9 270.9L451.5 270.4L452.1 270.4L452.7 270.9L453.3 271.1L453.9 270.3L454.5 269.9L455.1 270.2L455.7 270.3L456.3 270.5L456.9 270.7L457.5 270.5L458.1 270.3L458.7 270.5L459.3 270.2L459.9 270.4L460.5 270.1L461.1 271.0L461.7 270.4L462.3 269.8L462.9 269.7L463.5 269.7L464.1 269.2L464.7 269.3L465.3 269.2L465.9 269.5L466.5 268.9L467.1 268.7L467.7 268.5L468.3 268.4L468.9 268.7L469.5 268.8L470.1 269.2L470.7 268.9L471.3 269.5L471.9 269.4L472.5 269.5L473.1 269.1L473.7 269.4L474.3 270.1" fill="none" stroke="#0000ff" stroke-width="3.3" stroke-linejoin="round"/>
<path d="M48.3 320.1L48.9 319.9L49.5 320.0L50.1 319.8L50.7 319.8L51.3 319.8L51.9 320.3L52.5 320.1L53.1 320.0L53.7 320.0L54.3 320.3L54.9 320.3L55.5 320.0L56.1 320.7L56.7 320.3L57.3 320.3L57.9 320.8L58.5 320.7L59.1 320.4L59.7 320.6L60.3 320.2L60.9 320.3L61.5 319.9L62.1 320.9L62.7 320.1L63.3 320.8L63.9 320.4L64.5 320.4L65.1 320.7L65.7 320.8L66.3 320.9L66.9 321.3L67.5 320.9L68.1 321.1L68.7 320.7L69.3 321.1L69.9 320.9L70.5 320.8L71.1 320.9L71.7 320.9L72.3 321.0L72.9 321.1L73.5 320.8L74.1 320.8L74.7 321.2L75.3 320.5L75.9 320.8L76.5 321.4L77.1 320.2L77.7 320.8L78.3 321.1L78.9 320.5L79.5 321.6L80.1 320.1L80.7 321.2L81.3 321.1L81.9 320.9L82.5 320.5L83.1 320.5L83.7 320.1L84.3 320.4L84.9 319.7L85.5 319.8L86.1 320.0L86.7 319.2L87.3 319.1L87.9 319.0L88.5 318.2L89.1 318.5L89.7 317.8L90.3 316.7L90.9 316.5L91.5 315.5L92.1 314.5L92.7 313.6L93.3 312.1L93.9 311.0L94.5 308.8L95.1 307.3L95.7 304.8L96.3 302.8L96.9 300.0L97.5 297.9L98.1 295.9L98.7 295.2L99.3 294.9L99.9 295.8L100.5 296.9L101.1 298.6L101.7 300.7L102.3 303.3L102.9 305.5L103.5 308.0L104.1 309.8L104.7 311.1L105.3 312.6L105.9 314.5L106.5 315.3L107.1 316.1L107.7 317.2L108.3 317.5L108.9 318.1L109.5 318.5L110.1 318.4L110.7 319.6L111.3 319.3L111.9 319.7L112.5 319.8L113.1 320.4L113.7 320.3L114.3 320.4L114.9 320.0L115.5 320.5L116.1 320.1L116.7 320.6L117.3 320.5L117.9 320.3L118.5 320.7L119.1 320.1L119.7 319.9L120.3 319.5L120.9 319.1L121.5 319.0L122.1 318.6L122.7 317.5L123.3 317.6L123.9 316.9L124.5 316.4L125.1 315.8L125.7 314.9L126.3 314.7L126.9 315.5L127.5 315.2L128.1 315.1L128.7 316.0L129.3 316.4L129.9 316.6L130.5 317.1L131.1 317.9L131.7 319.0L132.3 319.5L132.9 319.9L133.5 320.5L134.1 320.9L134.7 320.5L135.3 321.3L135.9 321.4L136.5 321.5L137.1 321.9L137.7 322.2L138.3 322.3L138.9 322.1L139.5 322.5L140.1 323.3L140.7 322.5L141.3 322.4L141.9 323.0L142.5 323.2L143.1 323.2L143.7 322.8L144.3 323.5L144.9 323.0L145.5 322.9L146.1 323.1L146.7 323.3L147.3 323.6L147.9 323.6L148.5 323.4L149.1 323.7L149.7 323.5L150.3 323.8L150.9 323.2L151.5 323.1L152.1 323.8L152.7 323.2L153.3 323.6L153.9 323.6L154.5 323.5L155.1 323.6L155.7 324.1L156.3 323.0L156.9 324.0L157.5 324.4L158.1 323.8L158.7 323.8L159.3 324.0L159.9 324.3L160.5 323.5L161.1 323.9L161.7 323.8L162.3 324.0L162.9 323.9L163.5 324.1L164.1 323.8L164.7 323.9L165.3 323.7L165.9 323.8L166.5 323.9L167.1 323.9L167.7 323.6L168.3 324.4L168.9 323.9L169.5 323.6L170.1 324.3L170.7 323.8L171.3 324.2L171.9 324.0L172.5 324.1L173.1 324.1L173.7 323.8L174.3 324.0L174.9 324.6L175.5 323.4L176.1 324.0L176.7 324.1L177.3 323.7L177.9 323.6L178.5 324.6L179.1 323.8L179.7 324.5L180.3 324.1L180.9 324.0L181.5 324.1L182.1 324.1L182.7 324.2L183.3 324.0L183.9 323.9L184.5 323.9L185.1 324.2L185.7 324.1L186.3 323.5L186.9 323.6L187.5 323.9L188.1 323.6L188.7 323.7L189.3 323.5L189.9 323.6L190.5 323.8L191.1 324.0L191.7 323.6L192.3 324.2L192.9 323.6L193.5 324.5L194.1 323.8L194.7 323.6L195.3 323.3L195.9 322.6L196.5 323.3L197.1 323.4L197.7 323.8L198.3 322.8L198.9 323.7L199.5 323.0L200.1 323.2L200.7 322.2L201.3 322.8L201.9 322.6L202.5 322.7L203.1 322.4L203.7 321.9L204.3 322.3L204.9 322.0L205.5 321.7L206.1 321.5L206.7 321.2L207.3 320.5L207.9 319.7L208.5 319.1L209.1 319.3L209.7 318.4L210.3 317.5L210.9 316.5L211.5 315.6L212.1 314.6L212.7 313.4L213.3 312.3L213.9 312.1L214.5 310.7L215.1 309.9L215.7 309.5L216.3 309.7L216.9 310.6L217.5 311.3L218.1 311.9L218.7 313.0L219.3 314.0L219.9 314.8L220.5 316.5L221.1 317.1L221.7 318.5L222.3 318.3L222.9 319.1L223.5 320.0L224.1 320.2L224.7 320.3L225.3 320.7L225.9 321.3L226.5 321.7L227.1 321.8L227.7 322.3L228.3 322.5L228.9 322.4L229.5 322.5L230.1 322.5L230.7 322.8L231.3 323.0L231.9 322.8L232.5 323.0L233.1 322.9L233.7 322.6L234.3 322.8L234.9 323.3L235.5 323.3L236.1 323.6L236.7 323.2L237.3 323.5L237.9 323.6L238.5 323.6L239.1 323.1L239.7 323.3L240.3 323.4L240.9 323.1L241.5 323.5L242.1 323.6L242.7 323.2L243.3 323.9L243.9 323.3L244.5 323.3L245.1 323.3L245.7 323.2L246.3 323.5L246.9 323.3L247.5 323.8L248.1 323.5L248.7 323.4L249.3 323.2L249.9 322.9L250.5 323.2L251.1 323.0L251.7 323.4L252.3 323.1L252.9 323.5L253.5 323.2L254.1 323.2L254.7 323.0L255.3 322.9L255.9 323.0L256.5 322.9L257.1 322.4L257.7 322.6L258.3 323.1L258.9 322.2L259.5 321.9L260.1 321.6L260.7 321.2L261.3 321.7L261.9 321.0L262.5 320.8L263.1 320.8L263.7 320.5L264.3 319.1L264.9 319.0L265.5 318.3L266.1 317.5L266.7 316.8L267.3 316.0L267.9 315.7L268.5 314.8L269.1 314.1L269.7 314.0L270.3 313.7L270.9 313.7L271.5 313.9L272.1 314.8L272.7 315.0L273.3 315.6L273.9 316.1L274.5 317.0L275.1 317.5L275.7 318.5L276.3 319.1L276.9 319.0L277.5 320.1L278.1 320.7L278.7 320.9L279.3 320.9L279.9 321.8L280.5 321.5L281.1 321.6L281.7 321.8L282.3 322.3L282.9 322.7L283.5 322.9L284.1 322.7L284.7 322.4L285.3 322.7L285.9 322.7L286.5 323.0L287.1 322.6L287.7 323.2L288.3 323.4L288.9 323.2L289.5 323.4L290.1 323.0L290.7 322.9L291.3 323.2L291.9 323.7L292.5 323.7L293.1 323.3L293.7 323.8L294.3 323.4L294.9 323.9L295.5 323.7L296.1 323.4L296.7 323.8L297.3 323.4L297.9 323.3L298.5 323.2L299.1 323.7L299.7 323.6L300.3 323.6L300.9 323.5L301.5 324.1L302.1 323.6L302.7 323.5L303.3 324.0L303.9 324.1L304.5 323.8L305.1 323.2L305.7 323.5L306.3 323.9L306.9 323.7L307.5 324.2L308.1 323.4L308.7 323.9L309.3 323.6L309.9 324.1L310.5 323.7L311.1 324.0L311.7 323.6L312.3 323.4L312.9 323.4L313.5 323.6L314.1 323.5L314.7 324.1L315.3 324.1L315.9 323.8L316.5 323.5L317.1 323.7L317.7 323.6L318.3 324.2L318.9 323.9L319.5 323.9L320.1 323.7L320.7 323.2L321.3 323.6L321.9 323.5L322.5 323.9L323.1 323.8L323.7 323.6L324.3 323.7L324.9 324.2L325.5 323.5L326.1 323.5L326.7 323.7L327.3 323.6L327.9 323.6L328.5 323.9L329.1 324.2L329.7 323.3L330.3 323.8L330.9 323.8L331.5 323.7L332.1 323.7L332.7 323.7L333.3 324.0L333.9 323.6L334.5 323.7L335.1 323.7L335.7 323.8L336.3 323.7L336.9 324.0L337.5 323.7L338.1 323.7L338.7 323.7L339.3 323.4L339.9 323.4L340.5 323.3L341.1 323.7L341.7 323.4L342.3 323.3L342.9 323.6L343.5 323.6L344.1 322.9L344.7 323.8L345.3 323.3L345.9 323.2L346.5 323.4L347.1 323.0L347.7 322.7L348.3 323.3L348.9 322.3L349.5 322.5L350.1 322.6L350.7 322.0L351.3 322.2L351.9 322.4L352.5 323.0L353.1 322.2L353.7 322.5L354.3 322.8L354.9 322.8L355.5 322.6L356.1 323.1L356.7 323.1L357.3 323.3L357.9 323.6L358.5 323.6L359.1 323.5L359.7 323.5L360.3 323.2L360.9 323.5L361.5 323.6L362.1 323.5L362.7 323.6L363.3 323.4L363.9 324.0L364.5 324.2L365.1 323.5L365.7 323.7L366.3 323.6L366.9 324.0L367.5 323.7L368.1 323.6L368.7 323.6L369.3 323.7L369.9 323.3L370.5 323.8L371.1 323.4L371.7 323.8L372.3 323.6L372.9 323.9L373.5 323.6L374.1 323.9L374.7 323.3L375.3 323.8L375.9 323.5L376.5 323.6L377.1 323.6L377.7 323.8L378.3 323.0L378.9 323.6L379.5 323.1L380.1 323.8L380.7 322.9L381.3 323.2L381.9 323.0L382.5 323.9L383.1 323.0L383.7 323.4L384.3 323.2L384.9 322.8L385.5 323.1L386.1 323.3L386.7 323.0L387.3 323.2L387.9 322.8L388.5 322.8L389.1 322.5L389.7 322.6L390.3 322.8L390.9 322.2L391.5 322.0L392.1 321.5L392.7 321.3L393.3 321.7L393.9 320.7L394.5 320.6L395.1 320.7L395.7 320.5L396.3 321.2L396.9 320.0L397.5 320.8L398.1 321.0L398.7 320.7L399.3 321.0L399.9 321.5L400.5 322.0L401.1 321.5L401.7 321.5L402.3 322.4L402.9 322.6L403.5 322.2L404.1 321.7L404.7 322.8L405.3 322.4L405.9 322.7L406.5 322.4L407.1 322.2L407.7 322.1L408.3 322.6L408.9 322.5L409.5 321.4L410.1 321.7L410.7 322.4L411.3 321.8L411.9 321.6L412.5 322.1L413.1 322.2L413.7 322.3L414.3 322.3L414.9 322.5L415.5 322.6L416.1 322.9L416.7 322.7L417.3 323.0L417.9 323.1L418.5 323.5L419.1 323.3L419.7 323.2L420.3 323.5L420.9 323.5L421.5 323.7L422.1 323.5L422.7 323.9L423.3 323.8L423.9 323.4L424.5 323.3L425.1 323.7L425.7 323.6L426.3 323.4L426.9 323.1L427.5 323.0L428.1 323.6L428.7 323.7L429.3 323.7L429.9 323.1L430.5 323.8L431.1 323.3L431.7 323.6L432.3 323.6L432.9 323.3L433.5 323.3L434.1 322.9L434.7 323.2L435.3 323.0L435.9 323.6L436.5 323.5L437.1 323.7L437.7 323.6L438.3 323.3L438.9 323.6L439.5 323.4L440.1 323.7L440.7 323.6L441.3 323.2L441.9 323.5L442.5 323.5L443.1 323.4L443.7 323.7L444.3 323.9L444.9 323.4L445.5 323.4L446.1 322.8L446.7 323.4L447.3 323.3L447.9 322.8L448.5 323.5L449.1 323.6L449.7 323.2L450.3 323.3L450.9 323.1L451.5 323.6L452.1 323.0L452.7 323.3L453.3 323.9L453.9 323.3L454.5 323.4L455.1 323.2L455.7 322.9L456.3 323.2L456.9 323.3L457.5 322.9L458.1 323.2L458.7 323.4L459.3 323.3L459.9 322.5L460.5 322.6L461.1 322.3L461.7 323.0L462.3 322.7L462.9 322.6L463.5 322.1L464.1 321.9L464.7 322.1L465.3 322.0L465.9 321.6L466.5 321.7L467.1 321.8L467.7 321.6L468.3 321.2L468.9 320.9L469.5 321.4L470.1 321.6L470.7 321.6L471.3 321.6L471.9 321.7L472.5 322.2L473.1 322.1L473.7 322.3L474.3 322.1" fill="none" stroke="#ff0000" stroke-width="3.3" stroke-linejoin="round"/>
<rect x="48.3" y="5.9" width="429.8" height="348.8" fill="none" stroke="#000" stroke-width="2"/>
<line x1="48.3" y1="354.7" x2="48.3" y2="361.7" stroke="#000" stroke-width="2"/>
<line x1="79.0" y1="354.7" x2="79.0" y2="358.7" stroke="#000" stroke-width="2"/>
<line x1="109.7" y1="354.7" x2="109.7" y2="361.7" stroke="#000" stroke-width="2"/>
<line x1="140.4" y1="354.7" x2="140.4" y2="358.7" stroke="#000" stroke-width="2"/>
<line x1="171.0" y1="354.7" x2="171.0" y2="361.7" stroke="#000" stroke-width="2"/>
<line x1="201.7" y1="354.7" x2="201.7" y2="358.7" stroke="#000" stroke-width="2"/>
<line x1="232.4" y1="354.7" x2="232.4" y2="361.7" stroke="#000" stroke-width="2"/>
<line x1="263.1" y1="354.7" x2="263.1" y2="358.7" stroke="#000" stroke-width="2"/>
<line x1="293.8" y1="354.7" x2="293.8" y2="361.7" stroke="#000" stroke-width="2"/>
<line x1="324.5" y1="354.7" x2="324.5" y2="358.7" stroke="#000" stroke-width="2"/>
<line x1="355.1" y1="354.7" x2="355.1" y2="361.7" stroke="#000" stroke-width="2"/>
<line x1="385.8" y1="354.7" x2="385.8" y2="358.7" stroke="#000" stroke-width="2"/>
<line x1="416.5" y1="354.7" x2="416.5" y2="361.7" stroke="#000" stroke-width="2"/>
<line x1="447.2" y1="354.7" x2="447.2" y2="358.7" stroke="#000" stroke-width="2"/>
<line x1="477.9" y1="354.7" x2="477.9" y2="361.7" stroke="#000" stroke-width="2"/>
<text x="48.3" y="381.2" font-size="20.3" text-anchor="middle">20</text>
<text x="109.7" y="381.2" font-size="20.3" text-anchor="middle">30</text>
<text x="171.0" y="381.2" font-size="20.3" text-anchor="middle">40</text>
<text x="232.4" y="381.2" font-size="20.3" text-anchor="middle">50</text>
<text x="293.8" y="381.2" font-size="20.3" text-anchor="middle">60</text>
<text x="355.1" y="381.2" font-size="20.3" text-anchor="middle">70</text>
<text x="416.5" y="381.2" font-size="20.3" text-anchor="middle">80</text>
<text x="477.9" y="381.2" font-size="20.3" text-anchor="middle">90</text>
<text x="52.8" y="27.8" font-size="21.8">(a)</text>
<text x="237.8" y="26.2" font-size="15.00" font-weight="bold" textLength="118.0" lengthAdjust="spacingAndGlyphs">Cubic phase-CeO</text>
<text x="356.1" y="31.5" font-size="10.50" font-weight="bold">2</text>
<text x="361.6" y="26.5" font-size="14.00" font-weight="bold" transform="skewX(-12)" style="transform-box:fill-box;transform-origin:center">,</text>
<text x="370.8" y="26.2" font-size="15.00" font-weight="bold" textLength="99.0" lengthAdjust="spacingAndGlyphs">ICDD 81-0792</text>
<text x="470.5" y="51.8" font-size="16" text-anchor="end">800 °C</text>
<text x="470.5" y="138.2" font-size="16" text-anchor="end">600 °C</text>
<text x="470.5" y="192.5" font-size="16" text-anchor="end">400 °C</text>
<text x="470.5" y="245.4" font-size="16" text-anchor="end">235 °C</text>
<text x="470.5" y="296.4" font-size="16" text-anchor="end">120 °C</text>
<text class="sr" transform="translate(93.1,60.9) rotate(-90)" font-size="14.2" textLength="33" lengthAdjust="spacing">(111)</text>
<text class="sr" transform="translate(146.7,96.0) rotate(-90)" font-size="14.2" textLength="33" lengthAdjust="spacing">(200)</text>
<text class="sr" transform="translate(208.0,86.0) rotate(-90)" font-size="14.2" textLength="33" lengthAdjust="spacing">(220)</text>
<text class="sr" transform="translate(263.7,92.8) rotate(-90)" font-size="14.2" textLength="33" lengthAdjust="spacing">(311)</text>
<text class="sr" transform="translate(304.2,104.0) rotate(-90)" font-size="14.2" textLength="33" lengthAdjust="spacing">(222)</text>
<text class="sr" transform="translate(342.3,105.1) rotate(-90)" font-size="14.2" textLength="33" lengthAdjust="spacing">(400)</text>
<text class="sr" transform="translate(388.4,101.8) rotate(-90)" font-size="14.2" textLength="33" lengthAdjust="spacing">(331)</text>
<text class="sr" transform="translate(428.8,106.2) rotate(-90)" font-size="14.2" textLength="33" lengthAdjust="spacing">(420)</text>
<text class="sr" transform="translate(460.3,104.0) rotate(-90)" font-size="14.2" textLength="33" lengthAdjust="spacing">(422)</text>
<text transform="translate(19.2,251.8) rotate(-90)" font-size="19.6" font-weight="bold" textLength="131" lengthAdjust="spacingAndGlyphs">Intensity (a.u.)</text>
<text x="209" y="413.4" font-size="17.5" font-weight="bold" textLength="108" lengthAdjust="spacingAndGlyphs">2θ (degrees)</text>
<line x1="674.5" y1="9.9" x2="674.5" y2="353.8" stroke="#b4b4b4" stroke-width="1"/>
<line x1="698.5" y1="13.5" x2="698.5" y2="353.8" stroke="#b4b4b4" stroke-width="1"/>
<line x1="776.5" y1="13.3" x2="776.5" y2="353.8" stroke="#7a7a7a" stroke-width="1"/>
<line x1="826.5" y1="9.9" x2="826.5" y2="353.8" stroke="#888" stroke-width="1"/>
<path d="M579.6 61.6L580.2 61.4L580.8 60.8L581.4 60.4L582.0 60.3L582.6 60.3L583.2 59.8L583.8 59.8L584.4 59.1L585.0 58.8L585.6 58.3L586.2 58.3L586.8 58.6L587.4 58.1L588.0 58.1L588.6 57.9L589.2 57.6L589.8 57.4L590.4 57.4L591.0 57.5L591.6 57.4L592.2 57.3L592.8 57.2L593.4 57.0L594.0 57.2L594.6 57.1L595.2 57.6L595.8 57.0L596.4 57.5L597.0 58.3L597.6 57.8L598.2 57.8L598.8 58.2L599.4 58.8L600.0 58.6L600.6 59.0L601.2 59.2L601.8 59.3L602.4 60.4L603.0 59.9L603.6 60.0L604.2 60.3L604.8 60.8L605.4 61.1L606.0 61.4L606.6 61.5L607.2 61.4L607.8 62.2L608.4 62.2L609.0 62.5L609.6 62.4L610.2 62.9L610.8 63.1L611.4 63.4L612.0 63.3L612.6 63.9L613.2 64.1L613.8 63.9L614.4 64.2L615.0 64.4L615.6 65.0L616.2 64.3L616.8 65.1L617.4 64.9L618.0 65.4L618.6 65.9L619.2 65.8L619.8 66.1L620.4 66.1L621.0 67.0L621.6 66.9L622.2 67.1L622.8 66.7L623.4 66.9L624.0 67.6L624.6 67.5L625.2 67.6L625.8 67.9L626.4 67.7L627.0 68.3L627.6 68.3L628.2 68.6L628.8 68.4L629.4 68.8L630.0 68.6L630.6 69.2L631.2 69.3L631.8 69.4L632.4 69.4L633.0 69.5L633.6 68.8L634.2 69.8L634.8 69.6L635.4 69.8L636.0 69.8L636.6 69.6L637.2 69.9L637.8 70.3L638.4 70.6L639.0 70.2L639.6 70.2L640.2 70.9L640.8 70.4L641.4 71.2L642.0 70.8L642.6 70.6L643.2 71.2L643.8 71.4L644.4 70.7L645.0 71.5L645.6 71.1L646.2 71.6L646.8 71.1L647.4 70.9L648.0 71.4L648.6 71.5L649.2 71.8L649.8 71.7L650.4 71.5L651.0 71.2L651.6 71.1L652.2 71.2L652.8 71.0L653.4 71.2L654.0 70.6L654.6 71.2L655.2 71.2L655.8 71.8L656.4 71.3L657.0 71.0L657.6 71.2L658.2 70.7L658.8 70.8L659.4 70.5L660.0 71.3L660.6 71.0L661.2 70.5L661.8 70.8L662.4 71.0L663.0 70.9L663.6 70.8L664.2 70.5L664.8 70.5L665.4 70.6L666.0 70.8L666.6 70.3L667.2 70.2L667.8 70.7L668.4 70.2L669.0 70.7L669.6 70.4L670.2 70.5L670.8 70.7L671.4 70.3L672.0 70.0L672.6 68.7L673.2 67.1L673.8 66.1L674.4 67.3L675.0 69.0L675.6 70.3L676.2 70.2L676.8 70.3L677.4 70.6L678.0 70.4L678.6 70.4L679.2 70.2L679.8 70.7L680.4 70.3L681.0 70.7L681.6 70.2L682.2 70.9L682.8 70.4L683.4 70.9L684.0 70.3L684.6 70.7L685.2 71.1L685.8 70.7L686.4 70.9L687.0 70.8L687.6 70.4L688.2 71.1L688.8 71.2L689.4 70.8L690.0 71.3L690.6 71.0L691.2 70.9L691.8 71.2L692.4 71.1L693.0 71.9L693.6 71.0L694.2 71.6L694.8 71.6L695.4 70.9L696.0 71.0L696.6 71.5L697.2 71.1L697.8 71.1L698.4 71.0L699.0 70.6L699.6 70.8L700.2 70.7L700.8 71.6L701.4 71.4L702.0 71.8L702.6 71.8L703.2 71.4L703.8 72.3L704.4 72.1L705.0 72.1L705.6 71.6L706.2 71.8L706.8 71.8L707.4 71.9L708.0 71.7L708.6 72.1L709.2 72.1L709.8 72.2L710.4 72.0L711.0 72.4L711.6 72.2L712.2 71.5L712.8 72.0L713.4 72.2L714.0 72.5L714.6 72.2L715.2 72.2L715.8 72.1L716.4 72.5L717.0 72.2L717.6 72.2L718.2 72.2L718.8 72.5L719.4 72.3L720.0 72.0L720.6 72.6L721.2 72.3L721.8 72.6L722.4 72.6L723.0 72.8L723.6 72.8L724.2 72.4L724.8 72.5L725.4 72.3L726.0 73.0L726.6 72.8L727.2 73.0L727.8 72.6L728.4 72.2L729.0 73.1L729.6 72.8L730.2 72.8L730.8 72.8L731.4 73.0L732.0 72.9L732.6 72.4L733.2 73.1L733.8 72.7L734.4 72.8L735.0 73.3L735.6 73.2L736.2 72.9L736.8 72.5L737.4 73.0L738.0 73.1L738.6 73.0L739.2 72.7L739.8 72.9L740.4 72.8L741.0 73.1L741.6 73.3L742.2 73.4L742.8 73.0L743.4 73.2L744.0 73.3L744.6 73.1L745.2 73.2L745.8 73.8L746.4 73.3L747.0 73.5L747.6 73.2L748.2 73.3L748.8 72.9L749.4 73.3L750.0 73.6L750.6 73.9L751.2 73.7L751.8 73.6L752.4 73.4L753.0 73.3L753.6 73.4L754.2 73.6L754.8 73.3L755.4 73.7L756.0 73.3L756.6 73.1L757.2 73.3L757.8 73.1L758.4 73.2L759.0 73.9L759.6 73.6L760.2 73.7L760.8 73.9L761.4 74.0L762.0 73.6L762.6 74.0L763.2 73.8L763.8 73.7L764.4 73.9L765.0 73.4L765.6 73.6L766.2 73.8L766.8 74.0L767.4 73.7L768.0 73.8L768.6 74.1L769.2 74.2L769.8 74.1L770.4 74.2L771.0 73.8L771.6 73.8L772.2 74.0L772.8 73.8L773.4 73.8L774.0 74.3L774.6 73.7L775.2 73.3L775.8 73.0L776.4 72.6L777.0 71.9L777.6 72.9L778.2 73.2L778.8 73.6L779.4 73.8L780.0 74.0L780.6 74.6L781.2 73.9L781.8 74.6L782.4 74.0L783.0 74.2L783.6 74.5L784.2 74.4L784.8 74.4L785.4 73.9L786.0 74.4L786.6 74.1L787.2 75.0L787.8 74.3L788.4 74.5L789.0 74.1L789.6 74.3L790.2 74.1L790.8 74.7L791.4 74.4L792.0 74.7L792.6 74.4L793.2 74.4L793.8 74.9L794.4 74.3L795.0 74.2L795.6 74.7L796.2 74.4L796.8 74.5L797.4 74.9L798.0 74.5L798.6 74.9L799.2 74.6L799.8 75.1L800.4 75.1L801.0 74.7L801.6 74.7L802.2 74.6L802.8 74.9L803.4 75.1L804.0 74.5L804.6 75.1L805.2 74.6L805.8 74.7L806.4 74.5L807.0 75.5L807.6 75.0L808.2 75.0L808.8 74.8L809.4 75.3L810.0 74.5L810.6 75.1L811.2 75.6L811.8 75.0L812.4 75.1L813.0 75.3L813.6 74.9L814.2 75.2L814.8 75.4L815.4 75.2L816.0 75.3L816.6 75.1L817.2 75.3L817.8 75.2L818.4 75.6L819.0 75.4L819.6 75.2L820.2 74.7L820.8 75.5L821.4 75.5L822.0 75.1L822.6 74.8L823.2 75.0L823.8 75.4L824.4 74.7L825.0 74.5L825.6 74.2L826.2 74.3L826.8 74.2L827.4 74.6L828.0 74.9L828.6 75.7L829.2 75.7L829.8 75.4L830.4 75.2L831.0 75.3L831.6 75.7L832.2 75.4L832.8 75.8L833.4 75.7L834.0 75.7L834.6 75.8L835.2 75.8L835.8 75.5L836.4 75.6L837.0 76.3L837.6 75.4L838.2 75.6L838.8 76.0L839.4 75.7L840.0 75.6L840.6 75.5L841.2 75.9L841.8 76.1L842.4 76.2L843.0 75.9L843.6 76.1L844.2 75.6L844.8 75.9L845.4 75.7L846.0 75.9L846.6 76.1L847.2 76.2L847.8 75.7L848.4 76.3L849.0 75.8L849.6 75.7L850.2 75.9L850.8 75.6L851.4 76.0L852.0 76.1L852.6 76.0L853.2 76.1L853.8 75.9L854.4 76.0L855.0 75.7L855.6 76.1L856.2 75.8L856.8 76.0L857.4 76.0L858.0 76.1L858.6 75.7L859.2 75.7L859.8 76.0L860.4 76.2L861.0 76.2L861.6 76.3L862.2 76.4L862.8 76.3L863.4 76.1L864.0 75.9L864.6 75.9L865.2 76.0L865.8 76.2L866.4 76.2L867.0 76.2L867.6 76.1L868.2 76.3L868.8 76.2L869.4 76.3L870.0 76.3L870.6 76.1L871.2 76.0L871.8 76.3L872.4 76.3L873.0 76.2L873.6 76.1L874.2 76.8L874.8 76.1L875.4 76.2L876.0 76.3L876.6 76.0L877.2 76.3L877.8 76.7L878.4 76.5L879.0 76.4L879.6 76.4L880.2 76.3L880.8 76.5L881.4 76.3L882.0 76.2L882.6 76.4L883.2 76.6L883.8 76.4L884.4 76.5L885.0 75.8L885.6 76.7L886.2 76.9L886.8 76.7L887.4 76.3L888.0 76.2L888.6 76.5L889.2 76.1L889.8 76.6L890.4 76.3L891.0 76.6L891.6 76.7L892.2 75.9L892.8 76.5L893.4 76.3L894.0 76.1L894.6 76.3L895.2 76.4L895.8 76.7L896.4 76.1L897.0 76.7L897.6 77.0L898.2 76.6L898.8 76.6L899.4 76.5L900.0 76.2L900.6 76.6L901.2 76.6L901.8 76.7L902.4 77.1L903.0 76.7L903.6 76.6L904.2 76.9L904.8 76.2L905.4 76.2L906.0 76.4L906.6 76.4L907.2 76.7L907.8 76.5L908.4 77.0L909.0 76.9L909.6 76.8L910.2 76.5L910.8 76.7L911.4 76.8L912.0 76.3L912.6 76.7L913.2 76.8L913.8 76.7L914.4 77.0L915.0 76.9L915.6 76.4L916.2 76.6L916.8 76.4L917.4 76.8L918.0 76.4L918.6 76.9L919.2 76.7L919.8 76.9L920.4 76.6L921.0 76.3L921.6 77.1L922.2 76.6L922.8 77.0L923.4 76.8L924.0 76.8L924.6 77.1L925.2 76.8L925.8 77.0L926.4 76.3L927.0 76.9L927.6 76.6L928.2 76.7L928.8 76.7L929.4 76.8L930.0 77.1L930.6 76.3L931.2 76.7L931.8 76.6L932.4 77.0L933.0 76.6L933.6 76.9L934.2 76.6L934.8 76.9L935.4 77.0L936.0 76.7L936.6 76.8L937.2 76.4L937.8 76.8L938.4 77.0L939.0 76.6L939.6 77.1L940.2 76.3L940.8 76.3L941.4 76.4L942.0 76.7L942.6 76.8L943.2 76.8L943.8 76.8L944.4 77.0L945.0 76.7L945.6 76.5L946.2 76.5L946.8 77.4L947.4 76.2L948.0 76.8L948.6 77.2L949.2 77.0L949.8 76.6L950.4 76.8L951.0 77.1L951.6 77.2L952.2 76.6L952.8 77.0L953.4 76.9L954.0 77.1L954.6 77.2L955.2 76.8L955.8 76.5L956.4 77.0L957.0 77.3L957.6 77.0L958.2 76.9L958.8 77.5L959.4 76.6L960.0 77.1L960.6 76.7L961.2 76.9L961.8 76.9L962.4 77.3L963.0 76.7L963.6 76.8L964.2 76.5L964.8 77.0L965.4 76.8L966.0 77.0L966.6 76.6L967.2 76.8L967.8 77.2L968.4 76.9L969.0 77.1L969.6 77.1L970.2 76.8L970.8 76.5L971.4 77.2L972.0 77.0L972.6 77.2L973.2 76.4L973.8 76.5L974.4 76.4L975.0 76.7L975.6 77.2L976.2 77.1L976.8 76.9L977.4 77.0L978.0 77.1L978.6 76.9L979.2 77.1L979.8 77.0L980.4 76.4L981.0 76.9L981.6 77.3L982.2 76.9L982.8 76.9L983.4 76.8L984.0 76.9L984.6 77.3L985.2 76.9L985.8 76.7L986.4 76.2L987.0 76.8L987.6 76.5L988.2 76.5L988.8 77.2L989.4 77.2L990.0 76.5L990.6 77.2L991.2 77.1L991.8 76.8L992.4 77.2L993.0 76.6L993.6 76.7L994.2 76.6L994.8 76.7L995.4 77.2L996.0 76.7L996.6 76.7L997.2 76.8L997.8 77.0L998.4 76.9L999.0 77.2L999.6 76.8L1000.2 76.7L1000.8 76.9L1001.4 77.0L1002.0 76.8L1002.6 77.1L1003.2 77.5L1003.8 76.9L1004.4 77.0L1005.0 77.3L1005.6 76.8L1006.2 76.8" fill="none" stroke="#0000a0" stroke-width="2.4" stroke-linejoin="round"/>
<path d="M579.6 85.3L580.2 85.4L580.8 85.2L581.4 84.8L582.0 84.6L582.6 84.7L583.2 84.4L583.8 83.7L584.4 83.8L585.0 83.7L585.6 83.7L586.2 83.3L586.8 83.1L587.4 83.0L588.0 82.6L588.6 82.9L589.2 82.7L589.8 82.9L590.4 82.4L591.0 82.5L591.6 82.4L592.2 82.3L592.8 82.8L593.4 82.5L594.0 82.7L594.6 82.4L595.2 82.8L595.8 82.4L596.4 82.8L597.0 83.0L597.6 83.4L598.2 83.4L598.8 83.5L599.4 83.9L600.0 84.0L600.6 84.3L601.2 84.5L601.8 84.5L602.4 84.7L603.0 85.1L603.6 85.2L604.2 85.6L604.8 86.0L605.4 86.2L606.0 86.1L606.6 86.2L607.2 86.7L607.8 86.9L608.4 87.5L609.0 87.3L609.6 87.6L610.2 88.0L610.8 88.0L611.4 88.2L612.0 88.9L612.6 89.0L613.2 88.9L613.8 89.0L614.4 88.9L615.0 89.4L615.6 89.5L616.2 89.7L616.8 89.7L617.4 90.0L618.0 90.1L618.6 90.4L619.2 90.9L619.8 90.8L620.4 90.4L621.0 90.8L621.6 90.8L622.2 91.1L622.8 91.6L623.4 91.7L624.0 91.7L624.6 92.0L625.2 91.9L625.8 91.9L626.4 92.0L627.0 92.3L627.6 93.0L628.2 92.4L628.8 93.2L629.4 93.4L630.0 93.1L630.6 93.2L631.2 93.2L631.8 93.4L632.4 93.7L633.0 93.6L633.6 94.0L634.2 94.1L634.8 94.0L635.4 94.1L636.0 94.1L636.6 94.3L637.2 94.0L637.8 94.5L638.4 94.5L639.0 94.3L639.6 95.1L640.2 94.4L640.8 94.5L641.4 94.9L642.0 94.4L642.6 94.8L643.2 94.7L643.8 94.9L644.4 95.1L645.0 95.3L645.6 95.5L646.2 95.5L646.8 95.6L647.4 95.5L648.0 95.2L648.6 95.7L649.2 95.3L649.8 95.2L650.4 95.8L651.0 95.5L651.6 95.4L652.2 95.5L652.8 95.5L653.4 94.8L654.0 95.1L654.6 94.8L655.2 95.0L655.8 94.7L656.4 95.1L657.0 94.8L657.6 94.4L658.2 94.5L658.8 94.1L659.4 94.3L660.0 94.3L660.6 94.2L661.2 93.5L661.8 93.8L662.4 93.9L663.0 93.7L663.6 93.8L664.2 93.1L664.8 93.5L665.4 93.1L666.0 93.2L666.6 93.2L667.2 93.1L667.8 92.7L668.4 92.8L669.0 92.4L669.6 92.3L670.2 92.7L670.8 92.4L671.4 91.8L672.0 91.6L672.6 90.8L673.2 89.8L673.8 88.7L674.4 89.4L675.0 90.2L675.6 91.6L676.2 92.3L676.8 92.5L677.4 92.6L678.0 92.5L678.6 93.0L679.2 93.0L679.8 92.7L680.4 92.5L681.0 93.3L681.6 92.7L682.2 93.1L682.8 93.4L683.4 92.7L684.0 93.0L684.6 92.9L685.2 93.2L685.8 93.2L686.4 93.6L687.0 93.3L687.6 93.2L688.2 93.6L688.8 93.2L689.4 93.3L690.0 94.0L690.6 93.2L691.2 93.4L691.8 93.5L692.4 93.3L693.0 93.1L693.6 93.9L694.2 93.5L694.8 93.6L695.4 93.7L696.0 93.5L696.6 93.5L697.2 93.7L697.8 94.0L698.4 93.4L699.0 93.5L699.6 93.2L700.2 93.9L700.8 93.7L701.4 94.3L702.0 94.1L702.6 94.2L703.2 94.2L703.8 94.1L704.4 93.9L705.0 94.5L705.6 94.0L706.2 94.1L706.8 94.3L707.4 94.3L708.0 94.5L708.6 94.8L709.2 94.6L709.8 94.6L710.4 94.6L711.0 94.8L711.6 94.2L712.2 94.8L712.8 94.5L713.4 94.4L714.0 94.8L714.6 94.7L715.2 95.0L715.8 95.1L716.4 94.3L717.0 94.9L717.6 95.4L718.2 95.2L718.8 95.3L719.4 95.0L720.0 94.7L720.6 94.8L721.2 95.3L721.8 95.4L722.4 95.0L723.0 95.1L723.6 95.3L724.2 94.8L724.8 95.2L725.4 95.7L726.0 95.9L726.6 95.3L727.2 95.8L727.8 95.3L728.4 95.2L729.0 94.9L729.6 95.7L730.2 95.4L730.8 96.1L731.4 95.6L732.0 95.6L732.6 95.1L733.2 96.0L733.8 95.6L734.4 95.6L735.0 95.2L735.6 96.0L736.2 96.0L736.8 95.6L737.4 95.8L738.0 95.9L738.6 96.1L739.2 95.9L739.8 96.3L740.4 95.9L741.0 95.8L741.6 95.9L742.2 95.4L742.8 95.8L743.4 96.3L744.0 96.2L744.6 95.9L745.2 96.2L745.8 95.7L746.4 96.1L747.0 96.3L747.6 96.4L748.2 96.1L748.8 96.5L749.4 96.8L750.0 96.2L750.6 96.6L751.2 96.0L751.8 95.9L752.4 96.6L753.0 96.5L753.6 96.5L754.2 96.4L754.8 96.5L755.4 96.8L756.0 97.0L756.6 96.6L757.2 96.2L757.8 97.0L758.4 96.8L759.0 96.9L759.6 96.8L760.2 97.3L760.8 96.8L761.4 96.9L762.0 96.4L762.6 96.7L763.2 96.7L763.8 96.9L764.4 97.0L765.0 96.8L765.6 97.4L766.2 96.7L766.8 96.9L767.4 97.1L768.0 96.8L768.6 97.2L769.2 97.3L769.8 97.1L770.4 97.6L771.0 97.2L771.6 97.3L772.2 97.0L772.8 96.8L773.4 97.1L774.0 97.1L774.6 97.0L775.2 97.1L775.8 95.8L776.4 95.4L777.0 95.0L777.6 96.4L778.2 96.6L778.8 97.0L779.4 97.0L780.0 97.6L780.6 97.1L781.2 97.0L781.8 96.2L782.4 97.1L783.0 97.2L783.6 97.6L784.2 98.0L784.8 97.7L785.4 97.8L786.0 98.0L786.6 98.0L787.2 97.9L787.8 98.0L788.4 97.9L789.0 98.2L789.6 98.3L790.2 98.1L790.8 98.6L791.4 97.8L792.0 98.1L792.6 98.6L793.2 98.1L793.8 97.9L794.4 98.6L795.0 98.5L795.6 98.1L796.2 98.6L796.8 98.2L797.4 98.1L798.0 98.4L798.6 98.4L799.2 98.3L799.8 98.5L800.4 98.4L801.0 98.7L801.6 98.7L802.2 98.9L802.8 98.6L803.4 98.4L804.0 98.5L804.6 98.8L805.2 99.2L805.8 99.1L806.4 98.8L807.0 99.2L807.6 98.7L808.2 99.3L808.8 98.9L809.4 99.3L810.0 99.3L810.6 99.1L811.2 99.2L811.8 98.9L812.4 99.2L813.0 99.5L813.6 100.3L814.2 99.5L814.8 99.4L815.4 99.1L816.0 99.7L816.6 99.0L817.2 99.3L817.8 99.6L818.4 99.2L819.0 99.9L819.6 99.8L820.2 99.4L820.8 99.5L821.4 99.3L822.0 99.3L822.6 99.8L823.2 99.8L823.8 99.6L824.4 99.5L825.0 99.0L825.6 98.9L826.2 98.3L826.8 98.9L827.4 99.6L828.0 99.9L828.6 99.7L829.2 99.8L829.8 100.3L830.4 100.5L831.0 99.7L831.6 100.0L832.2 100.2L832.8 100.5L833.4 100.0L834.0 100.4L834.6 100.2L835.2 100.8L835.8 100.4L836.4 100.3L837.0 100.2L837.6 100.6L838.2 100.5L838.8 100.1L839.4 100.5L840.0 100.1L840.6 100.3L841.2 100.1L841.8 100.2L842.4 100.3L843.0 100.3L843.6 100.7L844.2 100.8L844.8 100.5L845.4 100.3L846.0 100.8L846.6 100.1L847.2 100.2L847.8 100.9L848.4 100.9L849.0 100.9L849.6 100.7L850.2 100.4L850.8 100.6L851.4 100.9L852.0 100.6L852.6 100.6L853.2 100.4L853.8 100.5L854.4 101.0L855.0 100.9L855.6 100.5L856.2 100.6L856.8 100.7L857.4 101.0L858.0 100.6L858.6 100.8L859.2 100.3L859.8 100.6L860.4 101.0L861.0 101.1L861.6 100.6L862.2 100.7L862.8 101.1L863.4 100.8L864.0 100.8L864.6 101.1L865.2 101.0L865.8 101.2L866.4 101.1L867.0 100.8L867.6 100.9L868.2 100.9L868.8 100.6L869.4 100.7L870.0 101.2L870.6 100.6L871.2 101.2L871.8 101.1L872.4 101.0L873.0 101.1L873.6 101.1L874.2 101.3L874.8 100.9L875.4 101.0L876.0 101.0L876.6 101.5L877.2 101.3L877.8 100.8L878.4 101.0L879.0 100.9L879.6 101.1L880.2 101.1L880.8 101.6L881.4 100.6L882.0 101.3L882.6 101.2L883.2 100.9L883.8 101.1L884.4 101.0L885.0 101.1L885.6 101.4L886.2 100.7L886.8 101.4L887.4 101.0L888.0 101.5L888.6 101.2L889.2 101.4L889.8 101.3L890.4 101.4L891.0 101.2L891.6 100.9L892.2 101.3L892.8 101.3L893.4 101.7L894.0 100.7L894.6 101.1L895.2 101.4L895.8 100.9L896.4 101.1L897.0 101.7L897.6 101.6L898.2 101.0L898.8 101.6L899.4 101.5L900.0 101.4L900.6 101.3L901.2 101.3L901.8 101.0L902.4 101.1L903.0 101.4L903.6 101.3L904.2 101.7L904.8 101.2L905.4 100.7L906.0 101.2L906.6 101.3L907.2 101.4L907.8 101.3L908.4 101.1L909.0 101.6L909.6 101.1L910.2 101.5L910.8 101.2L911.4 101.0L912.0 101.6L912.6 100.7L913.2 101.1L913.8 101.4L914.4 101.2L915.0 101.5L915.6 101.3L916.2 101.2L916.8 101.9L917.4 101.3L918.0 101.3L918.6 101.1L919.2 101.2L919.8 101.5L920.4 101.5L921.0 101.3L921.6 101.2L922.2 101.5L922.8 100.9L923.4 101.3L924.0 101.3L924.6 101.2L925.2 101.4L925.8 101.2L926.4 101.2L927.0 101.8L927.6 101.6L928.2 101.7L928.8 101.4L929.4 101.6L930.0 101.6L930.6 101.7L931.2 102.0L931.8 101.4L932.4 101.5L933.0 101.4L933.6 100.5L934.2 101.1L934.8 101.4L935.4 101.6L936.0 101.3L936.6 101.7L937.2 101.8L937.8 101.3L938.4 101.8L939.0 101.9L939.6 101.6L940.2 101.2L940.8 101.8L941.4 101.4L942.0 101.4L942.6 101.5L943.2 101.3L943.8 101.7L944.4 101.7L945.0 101.8L945.6 101.6L946.2 101.3L946.8 101.4L947.4 101.7L948.0 101.4L948.6 102.2L949.2 101.4L949.8 101.3L950.4 101.8L951.0 101.7L951.6 101.5L952.2 101.4L952.8 101.6L953.4 101.7L954.0 101.7L954.6 101.4L955.2 101.6L955.8 101.7L956.4 101.7L957.0 100.7L957.6 101.3L958.2 101.3L958.8 101.5L959.4 101.6L960.0 101.8L960.6 101.7L961.2 101.5L961.8 101.5L962.4 102.0L963.0 101.4L963.6 101.6L964.2 101.9L964.8 101.6L965.4 101.0L966.0 101.6L966.6 101.4L967.2 101.5L967.8 101.8L968.4 101.7L969.0 101.5L969.6 101.8L970.2 101.7L970.8 101.6L971.4 101.6L972.0 101.6L972.6 101.5L973.2 101.4L973.8 101.6L974.4 101.3L975.0 101.3L975.6 101.9L976.2 101.5L976.8 101.6L977.4 101.5L978.0 101.6L978.6 101.6L979.2 101.6L979.8 101.4L980.4 101.8L981.0 101.4L981.6 101.8L982.2 101.1L982.8 101.3L983.4 101.8L984.0 101.5L984.6 101.4L985.2 101.7L985.8 101.3L986.4 101.6L987.0 101.0L987.6 101.5L988.2 101.4L988.8 101.7L989.4 101.8L990.0 101.4L990.6 102.0L991.2 101.4L991.8 101.1L992.4 101.0L993.0 102.0L993.6 101.6L994.2 101.4L994.8 101.4L995.4 101.3L996.0 101.9L996.6 101.6L997.2 102.0L997.8 101.5L998.4 101.0L999.0 101.8L999.6 101.5L1000.2 101.5L1000.8 102.0L1001.4 101.5L1002.0 101.9L1002.6 101.6L1003.2 101.4L1003.8 101.7L1004.4 101.4L1005.0 101.9L1005.6 101.8L1006.2 101.6" fill="none" stroke="#008000" stroke-width="2.4" stroke-linejoin="round"/>
<path d="M579.6 110.8L580.2 110.6L580.8 110.2L581.4 110.4L582.0 110.0L582.6 110.0L583.2 109.5L583.8 109.7L584.4 109.6L585.0 109.2L585.6 109.2L586.2 109.1L586.8 109.4L587.4 109.0L588.0 109.2L588.6 109.4L589.2 109.1L589.8 108.6L590.4 109.0L591.0 109.3L591.6 108.9L592.2 109.3L592.8 109.3L593.4 109.3L594.0 109.2L594.6 109.2L595.2 109.4L595.8 109.6L596.4 109.9L597.0 110.0L597.6 110.0L598.2 110.2L598.8 110.5L599.4 110.2L600.0 110.6L600.6 110.8L601.2 111.1L601.8 111.3L602.4 111.6L603.0 111.6L603.6 112.2L604.2 112.4L604.8 112.1L605.4 112.7L606.0 112.7L606.6 113.6L607.2 113.3L607.8 113.5L608.4 113.9L609.0 114.0L609.6 114.2L610.2 114.8L610.8 114.7L611.4 115.0L612.0 115.3L612.6 114.9L613.2 115.8L613.8 115.7L614.4 115.9L615.0 115.6L615.6 116.2L616.2 116.3L616.8 116.2L617.4 117.1L618.0 116.9L618.6 116.8L619.2 117.1L619.8 117.5L620.4 117.7L621.0 117.7L621.6 118.1L622.2 118.3L622.8 117.8L623.4 118.1L624.0 118.2L624.6 118.6L625.2 119.1L625.8 119.0L626.4 118.8L627.0 119.1L627.6 119.6L628.2 119.3L628.8 119.5L629.4 119.8L630.0 119.3L630.6 120.1L631.2 120.1L631.8 120.2L632.4 120.0L633.0 120.1L633.6 120.2L634.2 120.5L634.8 120.6L635.4 120.7L636.0 121.2L636.6 121.2L637.2 120.8L637.8 120.9L638.4 121.6L639.0 121.1L639.6 121.6L640.2 121.8L640.8 121.3L641.4 121.5L642.0 121.6L642.6 121.5L643.2 121.5L643.8 121.7L644.4 122.1L645.0 121.8L645.6 121.9L646.2 121.9L646.8 121.7L647.4 122.4L648.0 121.5L648.6 121.9L649.2 122.2L649.8 121.8L650.4 122.2L651.0 122.4L651.6 121.8L652.2 122.1L652.8 121.7L653.4 122.1L654.0 122.0L654.6 121.9L655.2 122.2L655.8 121.9L656.4 122.1L657.0 121.8L657.6 121.3L658.2 121.6L658.8 121.6L659.4 121.0L660.0 121.7L660.6 121.3L661.2 121.3L661.8 120.9L662.4 121.1L663.0 121.1L663.6 120.8L664.2 120.9L664.8 120.3L665.4 121.1L666.0 120.4L666.6 120.0L667.2 120.3L667.8 120.3L668.4 120.5L669.0 120.1L669.6 120.4L670.2 120.0L670.8 120.7L671.4 120.1L672.0 120.1L672.6 118.8L673.2 118.4L673.8 117.2L674.4 117.6L675.0 118.3L675.6 118.6L676.2 119.3L676.8 119.7L677.4 119.8L678.0 120.1L678.6 120.1L679.2 120.1L679.8 120.5L680.4 120.7L681.0 120.3L681.6 120.5L682.2 120.7L682.8 120.7L683.4 120.6L684.0 121.1L684.6 121.1L685.2 121.2L685.8 121.0L686.4 121.6L687.0 121.6L687.6 121.1L688.2 121.3L688.8 121.7L689.4 121.2L690.0 121.6L690.6 121.6L691.2 121.4L691.8 121.6L692.4 121.4L693.0 121.7L693.6 121.4L694.2 122.5L694.8 122.4L695.4 122.3L696.0 122.2L696.6 122.4L697.2 122.5L697.8 122.5L698.4 122.5L699.0 122.1L699.6 122.5L700.2 122.3L700.8 122.2L701.4 122.2L702.0 122.6L702.6 122.8L703.2 122.2L703.8 123.1L704.4 123.0L705.0 122.6L705.6 122.6L706.2 122.8L706.8 123.1L707.4 122.7L708.0 122.6L708.6 123.0L709.2 122.4L709.8 123.0L710.4 123.3L711.0 123.1L711.6 123.3L712.2 123.2L712.8 123.3L713.4 123.2L714.0 123.0L714.6 123.2L715.2 123.3L715.8 123.7L716.4 123.8L717.0 123.5L717.6 123.3L718.2 123.3L718.8 123.5L719.4 123.9L720.0 123.7L720.6 123.6L721.2 123.5L721.8 123.9L722.4 123.8L723.0 123.7L723.6 123.8L724.2 124.2L724.8 123.8L725.4 124.3L726.0 124.2L726.6 124.0L727.2 124.2L727.8 124.0L728.4 123.8L729.0 124.0L729.6 123.9L730.2 124.3L730.8 124.2L731.4 124.3L732.0 124.4L732.6 123.5L733.2 124.4L733.8 123.9L734.4 124.4L735.0 124.2L735.6 124.4L736.2 124.8L736.8 124.0L737.4 124.5L738.0 124.5L738.6 124.1L739.2 124.7L739.8 124.6L740.4 124.5L741.0 124.5L741.6 125.5L742.2 124.6L742.8 124.3L743.4 124.6L744.0 124.7L744.6 124.7L745.2 124.9L745.8 124.6L746.4 125.1L747.0 124.8L747.6 124.6L748.2 124.8L748.8 124.9L749.4 125.3L750.0 125.2L750.6 125.0L751.2 125.1L751.8 125.2L752.4 125.7L753.0 125.1L753.6 125.3L754.2 125.4L754.8 125.0L755.4 125.4L756.0 125.4L756.6 125.2L757.2 125.5L757.8 125.7L758.4 125.7L759.0 125.4L759.6 125.5L760.2 126.1L760.8 125.2L761.4 125.6L762.0 125.8L762.6 125.6L763.2 125.8L763.8 125.7L764.4 125.8L765.0 126.0L765.6 125.6L766.2 125.7L766.8 125.7L767.4 125.6L768.0 125.7L768.6 125.5L769.2 126.0L769.8 126.2L770.4 126.2L771.0 126.1L771.6 125.6L772.2 126.2L772.8 125.7L773.4 125.8L774.0 126.3L774.6 125.5L775.2 125.8L775.8 125.4L776.4 125.0L777.0 124.6L777.6 125.0L778.2 125.1L778.8 125.8L779.4 126.1L780.0 125.6L780.6 125.9L781.2 126.0L781.8 125.8L782.4 125.8L783.0 126.1L783.6 126.1L784.2 125.7L784.8 126.0L785.4 126.3L786.0 125.9L786.6 126.0L787.2 126.6L787.8 126.6L788.4 125.8L789.0 125.9L789.6 126.4L790.2 126.0L790.8 126.2L791.4 126.2L792.0 126.5L792.6 125.7L793.2 125.8L793.8 126.1L794.4 126.6L795.0 126.4L795.6 126.0L796.2 126.6L796.8 126.6L797.4 126.4L798.0 126.4L798.6 126.6L799.2 126.8L799.8 126.5L800.4 126.7L801.0 126.5L801.6 126.4L802.2 126.3L802.8 126.6L803.4 126.5L804.0 126.5L804.6 126.8L805.2 126.7L805.8 126.8L806.4 126.2L807.0 126.8L807.6 126.5L808.2 126.5L808.8 126.5L809.4 127.0L810.0 126.9L810.6 126.5L811.2 126.4L811.8 126.7L812.4 126.6L813.0 127.2L813.6 126.4L814.2 126.3L814.8 126.7L815.4 126.8L816.0 126.8L816.6 127.0L817.2 127.4L817.8 126.8L818.4 126.7L819.0 126.4L819.6 126.9L820.2 127.1L820.8 126.8L821.4 127.2L822.0 126.9L822.6 127.3L823.2 126.9L823.8 126.5L824.4 126.5L825.0 126.1L825.6 125.9L826.2 126.3L826.8 126.5L827.4 127.0L828.0 126.7L828.6 126.8L829.2 126.7L829.8 127.2L830.4 127.1L831.0 126.9L831.6 127.2L832.2 127.2L832.8 126.6L833.4 127.3L834.0 127.1L834.6 127.0L835.2 127.0L835.8 127.5L836.4 127.5L837.0 127.6L837.6 126.8L838.2 127.0L838.8 127.4L839.4 126.9L840.0 127.0L840.6 126.7L841.2 127.6L841.8 127.4L842.4 127.3L843.0 127.2L843.6 127.1L844.2 127.1L844.8 127.4L845.4 127.0L846.0 127.5L846.6 127.1L847.2 127.0L847.8 127.6L848.4 127.2L849.0 127.4L849.6 127.1L850.2 126.7L850.8 127.4L851.4 126.9L852.0 127.5L852.6 126.9L853.2 126.8L853.8 127.4L854.4 127.4L855.0 127.3L855.6 127.0L856.2 127.5L856.8 126.9L857.4 127.2L858.0 127.1L858.6 127.2L859.2 127.5L859.8 127.1L860.4 127.4L861.0 127.5L861.6 126.9L862.2 127.0L862.8 127.2L863.4 127.2L864.0 127.4L864.6 126.8L865.2 127.5L865.8 127.5L866.4 127.3L867.0 127.0L867.6 127.3L868.2 127.2L868.8 127.5L869.4 127.3L870.0 127.5L870.6 127.2L871.2 127.7L871.8 126.8L872.4 127.1L873.0 127.5L873.6 127.0L874.2 127.5L874.8 127.0L875.4 127.4L876.0 127.1L876.6 127.2L877.2 127.4L877.8 127.3L878.4 127.3L879.0 127.9L879.6 127.4L880.2 127.1L880.8 127.6L881.4 127.6L882.0 127.7L882.6 127.8L883.2 127.1L883.8 127.6L884.4 127.6L885.0 127.4L885.6 127.4L886.2 126.6L886.8 127.2L887.4 127.8L888.0 126.9L888.6 127.2L889.2 127.4L889.8 127.5L890.4 127.8L891.0 126.9L891.6 127.4L892.2 127.6L892.8 127.1L893.4 127.4L894.0 127.9L894.6 127.7L895.2 127.5L895.8 126.7L896.4 127.4L897.0 127.5L897.6 127.3L898.2 127.4L898.8 128.2L899.4 127.3L900.0 127.2L900.6 127.5L901.2 127.3L901.8 127.3L902.4 127.4L903.0 127.6L903.6 127.5L904.2 127.1L904.8 127.4L905.4 127.5L906.0 127.3L906.6 127.7L907.2 127.6L907.8 127.2L908.4 127.5L909.0 127.9L909.6 127.8L910.2 127.4L910.8 127.6L911.4 127.2L912.0 127.1L912.6 127.6L913.2 127.5L913.8 127.5L914.4 127.4L915.0 127.5L915.6 127.3L916.2 127.5L916.8 127.6L917.4 127.4L918.0 127.6L918.6 127.0L919.2 127.2L919.8 127.8L920.4 127.9L921.0 127.5L921.6 127.4L922.2 127.1L922.8 127.5L923.4 127.6L924.0 127.1L924.6 127.6L925.2 127.6L925.8 127.5L926.4 127.2L927.0 127.6L927.6 127.1L928.2 127.8L928.8 127.5L929.4 127.2L930.0 127.8L930.6 127.7L931.2 127.3L931.8 128.0L932.4 127.2L933.0 127.5L933.6 127.7L934.2 126.9L934.8 127.7L935.4 127.4L936.0 127.4L936.6 127.2L937.2 127.5L937.8 127.2L938.4 127.2L939.0 127.3L939.6 127.2L940.2 127.9L940.8 127.1L941.4 127.3L942.0 127.4L942.6 127.5L943.2 127.7L943.8 127.7L944.4 127.4L945.0 127.4L945.6 127.5L946.2 127.7L946.8 127.6L947.4 127.3L948.0 127.0L948.6 128.0L949.2 127.7L949.8 127.5L950.4 127.6L951.0 127.3L951.6 127.2L952.2 127.4L952.8 127.4L953.4 127.3L954.0 127.1L954.6 127.4L955.2 127.6L955.8 127.4L956.4 127.5L957.0 127.0L957.6 127.4L958.2 127.4L958.8 127.2L959.4 127.0L960.0 127.6L960.6 127.3L961.2 127.6L961.8 127.4L962.4 127.6L963.0 127.4L963.6 127.1L964.2 127.5L964.8 127.4L965.4 127.6L966.0 127.4L966.6 127.4L967.2 127.7L967.8 127.8L968.4 127.7L969.0 127.7L969.6 127.6L970.2 127.7L970.8 127.7L971.4 127.6L972.0 127.5L972.6 127.5L973.2 128.1L973.8 127.5L974.4 127.4L975.0 127.4L975.6 127.5L976.2 127.6L976.8 127.2L977.4 127.0L978.0 127.6L978.6 127.1L979.2 127.6L979.8 127.5L980.4 127.8L981.0 127.9L981.6 127.6L982.2 127.4L982.8 127.2L983.4 127.3L984.0 127.5L984.6 127.0L985.2 127.5L985.8 127.5L986.4 127.7L987.0 127.4L987.6 127.5L988.2 127.3L988.8 127.4L989.4 127.1L990.0 127.5L990.6 127.9L991.2 127.5L991.8 127.6L992.4 127.3L993.0 127.9L993.6 127.3L994.2 127.7L994.8 127.5L995.4 127.3L996.0 127.8L996.6 127.5L997.2 127.5L997.8 127.6L998.4 127.5L999.0 127.4L999.6 127.6L1000.2 127.4L1000.8 127.5L1001.4 127.3L1002.0 127.1L1002.6 127.3L1003.2 127.4L1003.8 127.5L1004.4 127.8L1005.0 127.1L1005.6 127.5L1006.2 126.9" fill="none" stroke="#ff0080" stroke-width="2.4" stroke-linejoin="round"/>
<path d="M579.6 136.2L580.2 136.1L580.8 135.5L581.4 135.5L582.0 135.8L582.6 135.7L583.2 135.5L583.8 135.2L584.4 135.8L585.0 135.1L585.6 134.9L586.2 135.4L586.8 135.1L587.4 134.8L588.0 135.1L588.6 134.9L589.2 135.0L589.8 134.9L590.4 134.6L591.0 135.1L591.6 134.9L592.2 134.7L592.8 134.8L593.4 135.4L594.0 135.2L594.6 135.4L595.2 135.7L595.8 135.7L596.4 135.4L597.0 136.1L597.6 136.4L598.2 136.6L598.8 136.9L599.4 136.8L600.0 137.1L600.6 137.6L601.2 137.3L601.8 138.0L602.4 138.3L603.0 138.3L603.6 138.8L604.2 138.7L604.8 138.5L605.4 139.3L606.0 139.3L606.6 139.6L607.2 139.7L607.8 140.3L608.4 140.3L609.0 140.2L609.6 140.7L610.2 141.0L610.8 140.8L611.4 141.1L612.0 141.3L612.6 141.4L613.2 141.8L613.8 142.1L614.4 142.5L615.0 142.6L615.6 142.7L616.2 142.9L616.8 143.1L617.4 142.9L618.0 143.4L618.6 143.5L619.2 143.5L619.8 143.7L620.4 143.8L621.0 144.1L621.6 144.0L622.2 144.6L622.8 144.7L623.4 144.9L624.0 145.1L624.6 145.4L625.2 145.2L625.8 145.5L626.4 145.3L627.0 145.3L627.6 145.5L628.2 146.6L628.8 145.9L629.4 146.6L630.0 146.9L630.6 146.6L631.2 147.2L631.8 147.4L632.4 147.3L633.0 147.7L633.6 147.4L634.2 147.1L634.8 147.6L635.4 147.4L636.0 147.3L636.6 147.4L637.2 148.4L637.8 147.8L638.4 148.0L639.0 148.0L639.6 148.3L640.2 148.3L640.8 148.3L641.4 148.2L642.0 148.2L642.6 148.4L643.2 148.8L643.8 149.3L644.4 149.1L645.0 149.3L645.6 149.1L646.2 149.0L646.8 148.7L647.4 149.0L648.0 148.5L648.6 149.0L649.2 149.5L649.8 149.2L650.4 149.4L651.0 149.0L651.6 148.7L652.2 148.9L652.8 148.9L653.4 149.3L654.0 149.4L654.6 148.7L655.2 148.8L655.8 148.8L656.4 148.7L657.0 148.4L657.6 148.7L658.2 148.7L658.8 148.7L659.4 148.2L660.0 148.4L660.6 148.0L661.2 148.6L661.8 148.0L662.4 148.1L663.0 148.0L663.6 147.9L664.2 147.8L664.8 147.5L665.4 148.3L666.0 147.9L666.6 147.9L667.2 148.3L667.8 147.6L668.4 147.7L669.0 147.5L669.6 147.7L670.2 147.4L670.8 147.2L671.4 146.9L672.0 146.8L672.6 146.7L673.2 145.7L673.8 145.9L674.4 145.7L675.0 145.8L675.6 145.5L676.2 146.4L676.8 146.3L677.4 146.7L678.0 146.9L678.6 146.8L679.2 147.2L679.8 147.0L680.4 147.3L681.0 147.6L681.6 147.7L682.2 147.8L682.8 147.7L683.4 148.4L684.0 148.0L684.6 147.6L685.2 147.8L685.8 147.8L686.4 148.0L687.0 147.9L687.6 147.9L688.2 148.5L688.8 148.2L689.4 148.1L690.0 148.2L690.6 148.2L691.2 148.7L691.8 148.5L692.4 148.7L693.0 147.6L693.6 148.5L694.2 148.7L694.8 149.0L695.4 148.6L696.0 148.1L696.6 148.8L697.2 148.5L697.8 148.2L698.4 148.5L699.0 149.0L699.6 149.0L700.2 148.9L700.8 148.5L701.4 149.4L702.0 148.5L702.6 148.8L703.2 148.5L703.8 149.2L704.4 149.0L705.0 149.1L705.6 149.0L706.2 148.9L706.8 149.0L707.4 148.5L708.0 149.3L708.6 149.3L709.2 149.0L709.8 149.1L710.4 149.2L711.0 149.5L711.6 149.2L712.2 149.2L712.8 149.0L713.4 148.8L714.0 149.0L714.6 149.2L715.2 149.2L715.8 149.3L716.4 149.5L717.0 149.4L717.6 149.4L718.2 149.5L718.8 149.4L719.4 149.3L720.0 149.5L720.6 149.0L721.2 149.7L721.8 149.1L722.4 149.6L723.0 149.5L723.6 149.7L724.2 149.5L724.8 149.3L725.4 149.8L726.0 149.6L726.6 149.6L727.2 149.6L727.8 149.8L728.4 149.8L729.0 149.7L729.6 149.2L730.2 149.5L730.8 149.7L731.4 150.1L732.0 149.8L732.6 149.7L733.2 150.0L733.8 149.7L734.4 149.7L735.0 149.8L735.6 149.4L736.2 150.0L736.8 149.9L737.4 149.8L738.0 149.6L738.6 149.9L739.2 150.2L739.8 149.7L740.4 149.6L741.0 150.0L741.6 149.5L742.2 149.4L742.8 149.8L743.4 149.8L744.0 149.9L744.6 149.9L745.2 150.1L745.8 150.0L746.4 149.9L747.0 149.9L747.6 150.2L748.2 150.3L748.8 150.3L749.4 150.3L750.0 149.3L750.6 149.9L751.2 150.1L751.8 150.2L752.4 149.8L753.0 150.6L753.6 150.3L754.2 150.1L754.8 150.3L755.4 150.2L756.0 150.1L756.6 150.4L757.2 150.2L757.8 150.0L758.4 150.2L759.0 150.3L759.6 150.1L760.2 150.7L760.8 150.1L761.4 150.8L762.0 150.6L762.6 150.2L763.2 150.5L763.8 150.8L764.4 150.4L765.0 150.2L765.6 150.5L766.2 151.0L766.8 150.2L767.4 150.7L768.0 150.6L768.6 150.5L769.2 150.5L769.8 150.5L770.4 150.9L771.0 150.8L771.6 150.4L772.2 151.0L772.8 150.3L773.4 150.8L774.0 150.7L774.6 150.9L775.2 150.5L775.8 150.4L776.4 149.8L777.0 149.9L777.6 149.8L778.2 150.6L778.8 150.2L779.4 150.9L780.0 150.9L780.6 150.9L781.2 150.7L781.8 151.0L782.4 150.6L783.0 150.6L783.6 151.2L784.2 150.6L784.8 151.4L785.4 151.0L786.0 151.1L786.6 151.1L787.2 151.2L787.8 151.1L788.4 151.1L789.0 151.1L789.6 151.4L790.2 151.5L790.8 151.5L791.4 151.3L792.0 151.2L792.6 150.9L793.2 151.5L793.8 151.5L794.4 151.3L795.0 151.6L795.6 151.7L796.2 151.4L796.8 151.7L797.4 151.5L798.0 151.0L798.6 151.4L799.2 151.4L799.8 151.7L800.4 151.3L801.0 151.5L801.6 151.4L802.2 151.6L802.8 151.7L803.4 151.9L804.0 151.9L804.6 151.7L805.2 151.8L805.8 151.8L806.4 151.8L807.0 152.2L807.6 151.2L808.2 151.8L808.8 151.9L809.4 152.2L810.0 151.6L810.6 152.0L811.2 152.2L811.8 151.9L812.4 151.5L813.0 151.9L813.6 151.7L814.2 152.2L814.8 151.9L815.4 152.5L816.0 152.1L816.6 151.9L817.2 152.0L817.8 151.9L818.4 152.3L819.0 152.6L819.6 152.2L820.2 152.5L820.8 152.0L821.4 152.4L822.0 152.9L822.6 152.0L823.2 152.7L823.8 152.7L824.4 151.9L825.0 152.0L825.6 152.2L826.2 152.7L826.8 152.4L827.4 152.4L828.0 152.7L828.6 152.5L829.2 152.6L829.8 152.5L830.4 152.8L831.0 152.4L831.6 153.0L832.2 152.5L832.8 152.4L833.4 152.8L834.0 152.8L834.6 152.2L835.2 152.8L835.8 152.4L836.4 152.5L837.0 152.9L837.6 152.5L838.2 152.9L838.8 152.7L839.4 153.3L840.0 152.8L840.6 152.5L841.2 152.6L841.8 152.6L842.4 152.9L843.0 152.9L843.6 153.1L844.2 153.0L844.8 153.0L845.4 153.0L846.0 152.9L846.6 153.0L847.2 153.2L847.8 153.2L848.4 152.8L849.0 152.6L849.6 152.8L850.2 153.1L850.8 152.4L851.4 152.9L852.0 153.2L852.6 152.9L853.2 152.8L853.8 153.5L854.4 153.4L855.0 153.0L855.6 153.4L856.2 153.4L856.8 152.8L857.4 153.8L858.0 152.9L858.6 153.0L859.2 152.8L859.8 153.1L860.4 152.8L861.0 153.1L861.6 153.4L862.2 153.2L862.8 153.1L863.4 153.5L864.0 152.9L864.6 153.4L865.2 153.1L865.8 153.2L866.4 153.2L867.0 153.2L867.6 153.1L868.2 153.0L868.8 153.0L869.4 153.3L870.0 153.1L870.6 152.9L871.2 153.0L871.8 153.0L872.4 153.2L873.0 153.2L873.6 153.2L874.2 153.0L874.8 153.2L875.4 152.8L876.0 152.5L876.6 153.2L877.2 152.8L877.8 153.0L878.4 152.9L879.0 153.4L879.6 152.9L880.2 153.3L880.8 153.1L881.4 152.9L882.0 152.8L882.6 153.3L883.2 153.3L883.8 153.4L884.4 153.7L885.0 153.3L885.6 153.3L886.2 153.2L886.8 153.3L887.4 153.2L888.0 153.0L888.6 153.7L889.2 152.8L889.8 153.3L890.4 153.4L891.0 153.3L891.6 153.0L892.2 153.2L892.8 153.1L893.4 153.0L894.0 153.3L894.6 153.2L895.2 153.1L895.8 153.4L896.4 153.0L897.0 153.4L897.6 153.1L898.2 153.4L898.8 153.3L899.4 153.3L900.0 153.0L900.6 153.1L901.2 153.1L901.8 153.3L902.4 153.5L903.0 153.6L903.6 153.2L904.2 153.3L904.8 152.9L905.4 152.8L906.0 153.1L906.6 153.1L907.2 152.9L907.8 152.9L908.4 153.4L909.0 153.1L909.6 152.9L910.2 153.9L910.8 153.4L911.4 153.2L912.0 153.5L912.6 153.1L913.2 153.7L913.8 152.9L914.4 153.0L915.0 153.3L915.6 153.1L916.2 153.7L916.8 152.9L917.4 153.2L918.0 153.4L918.6 153.5L919.2 153.6L919.8 153.4L920.4 153.9L921.0 153.2L921.6 153.4L922.2 153.6L922.8 153.3L923.4 153.3L924.0 153.2L924.6 153.2L925.2 153.1L925.8 153.2L926.4 153.0L927.0 153.5L927.6 153.0L928.2 153.9L928.8 153.8L929.4 153.7L930.0 153.3L930.6 153.2L931.2 153.7L931.8 153.4L932.4 153.5L933.0 153.2L933.6 153.7L934.2 153.2L934.8 153.4L935.4 153.0L936.0 153.2L936.6 153.5L937.2 153.3L937.8 153.3L938.4 153.6L939.0 153.4L939.6 153.7L940.2 152.8L940.8 153.5L941.4 153.5L942.0 153.0L942.6 153.1L943.2 153.6L943.8 153.1L944.4 153.3L945.0 153.6L945.6 153.3L946.2 153.5L946.8 153.2L947.4 153.5L948.0 153.7L948.6 153.5L949.2 152.9L949.8 153.6L950.4 153.4L951.0 153.2L951.6 153.8L952.2 153.0L952.8 153.9L953.4 153.3L954.0 153.8L954.6 153.4L955.2 153.1L955.8 153.5L956.4 153.5L957.0 153.6L957.6 153.7L958.2 153.2L958.8 153.6L959.4 153.6L960.0 153.4L960.6 153.2L961.2 153.2L961.8 153.6L962.4 153.6L963.0 153.2L963.6 153.1L964.2 153.8L964.8 153.1L965.4 153.5L966.0 153.3L966.6 153.0L967.2 153.5L967.8 153.4L968.4 153.8L969.0 154.0L969.6 153.4L970.2 153.7L970.8 153.7L971.4 153.3L972.0 153.2L972.6 153.9L973.2 153.4L973.8 153.5L974.4 153.4L975.0 153.4L975.6 153.3L976.2 153.7L976.8 153.8L977.4 153.4L978.0 153.1L978.6 153.5L979.2 153.1L979.8 153.3L980.4 153.8L981.0 154.1L981.6 153.6L982.2 153.2L982.8 153.7L983.4 152.9L984.0 153.3L984.6 153.9L985.2 153.7L985.8 153.1L986.4 153.1L987.0 153.7L987.6 153.5L988.2 153.3L988.8 153.6L989.4 153.3L990.0 153.0L990.6 153.7L991.2 153.3L991.8 153.2L992.4 153.2L993.0 153.5L993.6 153.3L994.2 153.6L994.8 153.4L995.4 153.8L996.0 153.4L996.6 153.3L997.2 153.0L997.8 153.2L998.4 153.7L999.0 154.2L999.6 153.2L1000.2 153.2L1000.8 153.6L1001.4 153.6L1002.0 153.3L1002.6 153.5L1003.2 153.1L1003.8 153.4L1004.4 153.7L1005.0 153.9L1005.6 153.4L1006.2 153.4" fill="none" stroke="#800000" stroke-width="2.4" stroke-linejoin="round"/>
<path d="M579.6 163.3L580.2 163.3L580.8 162.9L581.4 162.4L582.0 162.5L582.6 162.4L583.2 161.8L583.8 161.5L584.4 161.8L585.0 161.6L585.6 161.7L586.2 161.3L586.8 161.0L587.4 161.0L588.0 160.8L588.6 160.7L589.2 160.7L589.8 160.7L590.4 161.0L591.0 160.4L591.6 160.7L592.2 160.5L592.8 161.1L593.4 160.8L594.0 160.6L594.6 161.0L595.2 160.9L595.8 160.8L596.4 161.5L597.0 161.4L597.6 161.8L598.2 161.8L598.8 161.9L599.4 162.0L600.0 161.9L600.6 162.6L601.2 162.6L601.8 163.0L602.4 163.1L603.0 163.2L603.6 163.4L604.2 164.1L604.8 164.5L605.4 164.4L606.0 164.9L606.6 165.4L607.2 165.1L607.8 165.5L608.4 165.5L609.0 166.4L609.6 166.4L610.2 166.4L610.8 166.4L611.4 166.9L612.0 167.4L612.6 167.3L613.2 167.5L613.8 167.9L614.4 167.6L615.0 168.1L615.6 168.5L616.2 168.3L616.8 168.5L617.4 169.0L618.0 169.1L618.6 169.2L619.2 169.5L619.8 169.7L620.4 169.6L621.0 169.9L621.6 170.3L622.2 170.7L622.8 170.9L623.4 170.5L624.0 171.2L624.6 171.3L625.2 171.2L625.8 171.5L626.4 171.8L627.0 172.2L627.6 171.6L628.2 172.2L628.8 172.1L629.4 172.2L630.0 172.7L630.6 172.7L631.2 172.4L631.8 172.6L632.4 172.9L633.0 172.6L633.6 173.2L634.2 173.1L634.8 173.3L635.4 173.4L636.0 173.9L636.6 173.6L637.2 173.6L637.8 174.2L638.4 173.7L639.0 173.8L639.6 173.7L640.2 174.4L640.8 174.3L641.4 174.4L642.0 174.4L642.6 174.4L643.2 174.3L643.8 174.4L644.4 174.7L645.0 174.7L645.6 175.1L646.2 174.6L646.8 174.7L647.4 174.6L648.0 175.2L648.6 174.6L649.2 175.1L649.8 175.2L650.4 174.8L651.0 175.0L651.6 174.3L652.2 174.7L652.8 174.4L653.4 174.8L654.0 174.7L654.6 174.5L655.2 174.9L655.8 174.7L656.4 174.4L657.0 174.4L657.6 174.1L658.2 174.3L658.8 174.8L659.4 174.1L660.0 174.3L660.6 174.0L661.2 174.2L661.8 174.1L662.4 173.8L663.0 173.4L663.6 173.6L664.2 174.0L664.8 173.6L665.4 173.7L666.0 173.4L666.6 173.0L667.2 173.5L667.8 173.4L668.4 173.1L669.0 173.1L669.6 173.2L670.2 172.9L670.8 173.0L671.4 172.7L672.0 171.8L672.6 171.8L673.2 171.1L673.8 170.6L674.4 170.9L675.0 171.1L675.6 172.0L676.2 172.6L676.8 172.8L677.4 172.6L678.0 172.9L678.6 173.5L679.2 173.2L679.8 173.2L680.4 173.4L681.0 173.6L681.6 173.6L682.2 173.8L682.8 173.5L683.4 173.7L684.0 173.7L684.6 173.8L685.2 173.4L685.8 173.9L686.4 173.7L687.0 174.5L687.6 174.6L688.2 174.7L688.8 174.5L689.4 174.3L690.0 174.7L690.6 174.4L691.2 174.7L691.8 174.4L692.4 174.5L693.0 174.9L693.6 175.2L694.2 174.9L694.8 175.5L695.4 175.7L696.0 174.7L696.6 175.1L697.2 174.9L697.8 175.1L698.4 175.1L699.0 175.2L699.6 175.5L700.2 175.5L700.8 175.4L701.4 175.4L702.0 175.4L702.6 175.4L703.2 175.6L703.8 175.5L704.4 175.6L705.0 175.2L705.6 175.8L706.2 176.0L706.8 175.7L707.4 175.3L708.0 176.0L708.6 175.6L709.2 175.0L709.8 175.7L710.4 175.9L711.0 175.9L711.6 176.1L712.2 176.0L712.8 175.9L713.4 175.4L714.0 175.6L714.6 176.0L715.2 176.1L715.8 175.7L716.4 175.9L717.0 176.1L717.6 175.6L718.2 175.6L718.8 176.0L719.4 176.2L720.0 176.0L720.6 175.6L721.2 176.2L721.8 175.9L722.4 176.4L723.0 176.2L723.6 176.3L724.2 176.4L724.8 176.2L725.4 176.5L726.0 176.7L726.6 176.5L727.2 176.7L727.8 176.3L728.4 176.7L729.0 176.5L729.6 176.2L730.2 176.5L730.8 176.4L731.4 176.4L732.0 176.6L732.6 176.8L733.2 176.5L733.8 176.6L734.4 176.2L735.0 176.7L735.6 176.9L736.2 176.9L736.8 176.8L737.4 176.6L738.0 176.5L738.6 176.7L739.2 176.4L739.8 176.5L740.4 177.0L741.0 176.6L741.6 177.3L742.2 176.5L742.8 177.0L743.4 176.6L744.0 176.9L744.6 176.6L745.2 176.9L745.8 176.9L746.4 176.8L747.0 177.1L747.6 177.4L748.2 176.9L748.8 177.2L749.4 177.1L750.0 177.0L750.6 177.6L751.2 176.5L751.8 176.9L752.4 176.7L753.0 177.1L753.6 177.1L754.2 178.1L754.8 177.3L755.4 177.6L756.0 177.5L756.6 177.1L757.2 177.4L757.8 177.7L758.4 177.3L759.0 177.3L759.6 177.4L760.2 177.0L760.8 177.1L761.4 177.4L762.0 177.5L762.6 177.2L763.2 177.3L763.8 177.4L764.4 177.4L765.0 177.6L765.6 177.5L766.2 177.5L766.8 177.1L767.4 177.3L768.0 177.6L768.6 177.1L769.2 177.6L769.8 177.4L770.4 177.4L771.0 177.8L771.6 177.4L772.2 177.4L772.8 177.5L773.4 177.6L774.0 178.3L774.6 177.0L775.2 177.4L775.8 177.2L776.4 177.2L777.0 176.7L777.6 176.3L778.2 177.5L778.8 177.2L779.4 177.6L780.0 177.4L780.6 177.6L781.2 177.7L781.8 178.1L782.4 178.1L783.0 177.8L783.6 178.1L784.2 177.9L784.8 178.0L785.4 178.1L786.0 178.2L786.6 177.9L787.2 178.1L787.8 178.2L788.4 178.2L789.0 178.0L789.6 178.6L790.2 178.1L790.8 178.4L791.4 178.3L792.0 178.6L792.6 177.7L793.2 178.8L793.8 178.3L794.4 178.0L795.0 178.4L795.6 179.0L796.2 178.5L796.8 178.1L797.4 178.3L798.0 178.8L798.6 178.1L799.2 178.5L799.8 178.5L800.4 179.1L801.0 178.5L801.6 178.9L802.2 178.5L802.8 178.4L803.4 178.9L804.0 178.8L804.6 178.3L805.2 178.9L805.8 178.9L806.4 178.6L807.0 178.8L807.6 178.9L808.2 178.7L808.8 178.7L809.4 178.7L810.0 178.8L810.6 178.6L811.2 178.9L811.8 178.6L812.4 179.0L813.0 179.0L813.6 178.8L814.2 179.2L814.8 179.5L815.4 179.4L816.0 178.8L816.6 179.4L817.2 179.2L817.8 179.1L818.4 179.0L819.0 179.2L819.6 179.6L820.2 179.4L820.8 179.1L821.4 179.1L822.0 179.2L822.6 179.5L823.2 179.8L823.8 179.1L824.4 179.4L825.0 179.3L825.6 179.2L826.2 179.5L826.8 179.6L827.4 179.1L828.0 179.2L828.6 179.8L829.2 179.6L829.8 179.6L830.4 179.4L831.0 179.5L831.6 179.7L832.2 179.5L832.8 179.3L833.4 179.6L834.0 179.8L834.6 179.4L835.2 179.9L835.8 179.8L836.4 179.5L837.0 179.7L837.6 179.7L838.2 179.9L838.8 179.9L839.4 179.4L840.0 179.4L840.6 180.0L841.2 179.8L841.8 179.9L842.4 179.9L843.0 180.2L843.6 179.5L844.2 180.1L844.8 179.6L845.4 180.0L846.0 180.2L846.6 179.5L847.2 180.0L847.8 179.8L848.4 179.8L849.0 179.9L849.6 179.7L850.2 179.7L850.8 180.1L851.4 180.1L852.0 179.8L852.6 179.6L853.2 180.5L853.8 180.2L854.4 180.1L855.0 179.7L855.6 179.8L856.2 180.0L856.8 179.7L857.4 180.4L858.0 180.0L858.6 180.1L859.2 179.7L859.8 179.8L860.4 179.8L861.0 180.1L861.6 179.9L862.2 179.9L862.8 180.1L863.4 180.1L864.0 180.4L864.6 179.9L865.2 179.7L865.8 180.0L866.4 180.4L867.0 179.9L867.6 180.0L868.2 179.9L868.8 180.1L869.4 180.1L870.0 179.8L870.6 180.0L871.2 180.2L871.8 180.3L872.4 180.2L873.0 180.2L873.6 179.9L874.2 179.9L874.8 180.2L875.4 179.7L876.0 180.0L876.6 179.6L877.2 179.9L877.8 179.8L878.4 179.7L879.0 180.2L879.6 179.8L880.2 179.9L880.8 180.0L881.4 179.8L882.0 180.4L882.6 179.9L883.2 180.1L883.8 179.7L884.4 179.9L885.0 179.9L885.6 179.9L886.2 179.9L886.8 180.1L887.4 180.4L888.0 180.0L888.6 180.0L889.2 179.9L889.8 180.7L890.4 180.4L891.0 180.2L891.6 180.2L892.2 179.9L892.8 180.0L893.4 180.1L894.0 180.1L894.6 179.8L895.2 179.8L895.8 180.2L896.4 180.1L897.0 179.5L897.6 180.1L898.2 180.4L898.8 179.9L899.4 180.1L900.0 179.7L900.6 180.2L901.2 179.8L901.8 179.7L902.4 180.0L903.0 180.6L903.6 179.9L904.2 179.7L904.8 180.2L905.4 180.1L906.0 180.5L906.6 179.7L907.2 179.7L907.8 180.0L908.4 180.1L909.0 180.1L909.6 180.3L910.2 179.7L910.8 179.8L911.4 180.0L912.0 180.3L912.6 180.2L913.2 180.0L913.8 179.8L914.4 180.3L915.0 180.3L915.6 180.7L916.2 180.0L916.8 180.5L917.4 179.8L918.0 179.9L918.6 179.9L919.2 179.9L919.8 179.8L920.4 179.9L921.0 180.0L921.6 180.0L922.2 180.2L922.8 180.0L923.4 180.1L924.0 180.4L924.6 180.1L925.2 180.1L925.8 180.1L926.4 180.1L927.0 180.2L927.6 179.9L928.2 180.3L928.8 180.5L929.4 180.3L930.0 179.9L930.6 179.7L931.2 180.0L931.8 180.1L932.4 180.3L933.0 180.0L933.6 180.0L934.2 180.4L934.8 179.9L935.4 180.3L936.0 180.3L936.6 179.7L937.2 180.1L937.8 179.9L938.4 179.8L939.0 179.6L939.6 179.7L940.2 180.2L940.8 180.0L941.4 180.1L942.0 179.8L942.6 180.0L943.2 180.0L943.8 179.7L944.4 179.7L945.0 180.2L945.6 180.1L946.2 179.8L946.8 180.1L947.4 180.2L948.0 180.5L948.6 179.9L949.2 180.2L949.8 180.6L950.4 180.1L951.0 180.4L951.6 179.4L952.2 180.4L952.8 180.1L953.4 179.6L954.0 180.3L954.6 180.3L955.2 180.4L955.8 180.4L956.4 180.1L957.0 179.9L957.6 180.0L958.2 180.1L958.8 180.2L959.4 180.0L960.0 180.1L960.6 180.3L961.2 180.2L961.8 180.6L962.4 180.6L963.0 179.8L963.6 179.9L964.2 179.8L964.8 179.8L965.4 180.2L966.0 179.8L966.6 179.8L967.2 180.0L967.8 180.3L968.4 180.0L969.0 180.0L969.6 180.3L970.2 180.2L970.8 180.2L971.4 180.3L972.0 179.8L972.6 180.1L973.2 179.9L973.8 180.3L974.4 180.3L975.0 179.8L975.6 180.4L976.2 179.8L976.8 180.4L977.4 180.1L978.0 179.9L978.6 179.8L979.2 180.0L979.8 180.1L980.4 179.9L981.0 180.2L981.6 179.7L982.2 180.1L982.8 180.1L983.4 179.6L984.0 180.2L984.6 179.8L985.2 179.5L985.8 179.9L986.4 180.0L987.0 180.3L987.6 180.0L988.2 180.5L988.8 180.4L989.4 180.4L990.0 180.4L990.6 180.2L991.2 180.0L991.8 180.3L992.4 180.3L993.0 180.2L993.6 180.0L994.2 179.7L994.8 180.3L995.4 180.2L996.0 179.8L996.6 180.1L997.2 180.3L997.8 180.1L998.4 180.3L999.0 180.3L999.6 179.7L1000.2 180.0L1000.8 180.2L1001.4 180.3L1002.0 180.4L1002.6 179.6L1003.2 180.1L1003.8 180.3L1004.4 180.4L1005.0 180.5L1005.6 179.9L1006.2 180.0" fill="none" stroke="#808000" stroke-width="2.4" stroke-linejoin="round"/>
<path d="M579.6 191.0L580.2 191.1L580.8 190.3L581.4 190.6L582.0 190.2L582.6 189.8L583.2 188.9L583.8 189.0L584.4 189.1L585.0 188.4L585.6 188.5L586.2 188.3L586.8 188.4L587.4 188.0L588.0 187.9L588.6 187.6L589.2 187.6L589.8 187.4L590.4 187.5L591.0 187.2L591.6 187.5L592.2 186.7L592.8 187.4L593.4 187.1L594.0 187.4L594.6 187.1L595.2 187.4L595.8 187.6L596.4 187.2L597.0 187.5L597.6 187.6L598.2 187.8L598.8 187.6L599.4 188.1L600.0 188.3L600.6 188.4L601.2 188.8L601.8 188.8L602.4 189.8L603.0 189.8L603.6 190.5L604.2 190.1L604.8 190.3L605.4 191.0L606.0 190.8L606.6 191.6L607.2 191.6L607.8 192.0L608.4 192.5L609.0 192.7L609.6 193.4L610.2 193.4L610.8 193.2L611.4 194.0L612.0 193.6L612.6 194.2L613.2 194.1L613.8 194.4L614.4 195.1L615.0 194.8L615.6 195.0L616.2 195.2L616.8 195.5L617.4 196.1L618.0 195.7L618.6 195.9L619.2 196.5L619.8 196.2L620.4 196.7L621.0 197.3L621.6 197.2L622.2 197.2L622.8 197.4L623.4 197.5L624.0 197.8L624.6 198.1L625.2 198.6L625.8 198.7L626.4 198.4L627.0 198.6L627.6 199.1L628.2 198.6L628.8 199.1L629.4 199.2L630.0 199.2L630.6 199.3L631.2 199.8L631.8 199.4L632.4 199.7L633.0 199.8L633.6 200.1L634.2 199.9L634.8 200.6L635.4 200.4L636.0 200.5L636.6 200.6L637.2 200.6L637.8 200.6L638.4 201.3L639.0 201.1L639.6 201.1L640.2 201.5L640.8 201.2L641.4 201.6L642.0 201.5L642.6 201.4L643.2 201.9L643.8 201.4L644.4 202.0L645.0 201.6L645.6 202.0L646.2 202.3L646.8 202.1L647.4 201.9L648.0 202.0L648.6 202.0L649.2 201.8L649.8 201.8L650.4 202.1L651.0 202.2L651.6 201.6L652.2 202.0L652.8 202.2L653.4 202.1L654.0 201.8L654.6 202.3L655.2 201.7L655.8 202.1L656.4 202.3L657.0 201.4L657.6 202.0L658.2 202.0L658.8 201.9L659.4 201.7L660.0 201.8L660.6 201.5L661.2 201.8L661.8 201.9L662.4 201.6L663.0 201.5L663.6 201.6L664.2 201.7L664.8 201.7L665.4 201.6L666.0 201.6L666.6 201.2L667.2 200.9L667.8 201.6L668.4 201.8L669.0 201.0L669.6 201.2L670.2 201.3L670.8 201.3L671.4 201.1L672.0 201.1L672.6 200.6L673.2 200.6L673.8 200.4L674.4 200.1L675.0 200.4L675.6 200.3L676.2 200.5L676.8 200.3L677.4 200.9L678.0 200.6L678.6 201.1L679.2 200.5L679.8 201.1L680.4 201.7L681.0 201.5L681.6 201.7L682.2 201.4L682.8 202.2L683.4 202.1L684.0 202.0L684.6 202.2L685.2 202.2L685.8 202.5L686.4 202.3L687.0 201.9L687.6 202.3L688.2 202.7L688.8 202.6L689.4 202.4L690.0 202.7L690.6 202.6L691.2 202.8L691.8 202.3L692.4 202.5L693.0 203.0L693.6 202.8L694.2 203.0L694.8 203.4L695.4 202.9L696.0 203.1L696.6 202.9L697.2 203.0L697.8 203.1L698.4 202.8L699.0 202.7L699.6 203.6L700.2 203.2L700.8 203.6L701.4 203.3L702.0 203.4L702.6 203.5L703.2 203.6L703.8 203.1L704.4 203.7L705.0 203.2L705.6 203.5L706.2 204.1L706.8 203.5L707.4 203.9L708.0 203.5L708.6 203.7L709.2 203.6L709.8 203.7L710.4 203.4L711.0 203.4L711.6 203.8L712.2 203.3L712.8 203.5L713.4 203.9L714.0 203.6L714.6 203.6L715.2 203.5L715.8 203.9L716.4 203.8L717.0 203.9L717.6 203.8L718.2 204.3L718.8 203.8L719.4 203.5L720.0 204.0L720.6 204.0L721.2 204.0L721.8 203.6L722.4 204.3L723.0 204.0L723.6 204.0L724.2 203.7L724.8 204.2L725.4 204.1L726.0 204.5L726.6 204.0L727.2 203.9L727.8 204.2L728.4 204.0L729.0 204.3L729.6 204.0L730.2 204.2L730.8 204.2L731.4 204.3L732.0 204.2L732.6 204.1L733.2 204.3L733.8 204.2L734.4 204.4L735.0 204.3L735.6 203.8L736.2 204.4L736.8 204.7L737.4 204.5L738.0 204.6L738.6 204.5L739.2 204.3L739.8 204.1L740.4 204.7L741.0 204.8L741.6 204.6L742.2 204.6L742.8 204.6L743.4 204.5L744.0 204.6L744.6 204.6L745.2 204.7L745.8 204.4L746.4 204.5L747.0 204.8L747.6 204.6L748.2 204.1L748.8 204.7L749.4 204.1L750.0 205.2L750.6 204.9L751.2 204.9L751.8 204.6L752.4 204.5L753.0 204.7L753.6 204.8L754.2 204.6L754.8 204.8L755.4 205.0L756.0 205.0L756.6 204.6L757.2 204.3L757.8 204.9L758.4 204.7L759.0 205.0L759.6 205.3L760.2 205.3L760.8 205.0L761.4 205.2L762.0 205.3L762.6 205.0L763.2 205.0L763.8 205.2L764.4 205.0L765.0 204.9L765.6 204.8L766.2 205.0L766.8 204.9L767.4 205.2L768.0 205.0L768.6 205.4L769.2 205.4L769.8 204.8L770.4 205.4L771.0 205.0L771.6 205.5L772.2 205.3L772.8 205.1L773.4 205.3L774.0 205.0L774.6 205.1L775.2 205.0L775.8 204.7L776.4 204.7L777.0 204.2L777.6 204.7L778.2 204.4L778.8 205.1L779.4 205.2L780.0 205.4L780.6 205.1L781.2 206.0L781.8 205.3L782.4 205.4L783.0 205.2L783.6 205.7L784.2 205.3L784.8 205.7L785.4 205.2L786.0 205.5L786.6 205.4L787.2 205.7L787.8 205.5L788.4 205.3L789.0 205.7L789.6 205.3L790.2 205.4L790.8 205.8L791.4 205.2L792.0 205.8L792.6 205.6L793.2 205.4L793.8 205.7L794.4 205.8L795.0 205.6L795.6 205.7L796.2 205.9L796.8 205.9L797.4 205.8L798.0 205.6L798.6 205.6L799.2 205.7L799.8 206.0L800.4 206.0L801.0 205.9L801.6 206.2L802.2 205.8L802.8 205.8L803.4 205.8L804.0 206.4L804.6 205.5L805.2 206.0L805.8 206.1L806.4 206.0L807.0 206.6L807.6 206.3L808.2 206.2L808.8 205.8L809.4 206.2L810.0 206.0L810.6 206.1L811.2 206.2L811.8 206.0L812.4 206.3L813.0 206.5L813.6 206.4L814.2 206.2L814.8 205.7L815.4 206.5L816.0 206.5L816.6 206.2L817.2 206.1L817.8 206.4L818.4 206.1L819.0 206.5L819.6 206.1L820.2 206.1L820.8 206.3L821.4 206.0L822.0 206.4L822.6 206.5L823.2 206.1L823.8 206.6L824.4 206.3L825.0 206.6L825.6 206.5L826.2 206.3L826.8 206.3L827.4 206.1L828.0 206.3L828.6 206.3L829.2 206.9L829.8 206.8L830.4 206.2L831.0 206.7L831.6 206.6L832.2 206.5L832.8 206.7L833.4 206.8L834.0 206.5L834.6 206.5L835.2 206.7L835.8 206.4L836.4 206.7L837.0 206.6L837.6 206.5L838.2 206.5L838.8 206.8L839.4 206.9L840.0 206.8L840.6 206.5L841.2 206.9L841.8 206.8L842.4 206.9L843.0 207.0L843.6 206.5L844.2 206.7L844.8 206.6L845.4 206.6L846.0 207.3L846.6 207.0L847.2 206.4L847.8 206.9L848.4 206.7L849.0 207.1L849.6 206.8L850.2 206.8L850.8 206.9L851.4 206.9L852.0 206.9L852.6 206.8L853.2 206.8L853.8 207.0L854.4 206.6L855.0 206.9L855.6 206.8L856.2 206.8L856.8 207.1L857.4 206.6L858.0 206.8L858.6 206.7L859.2 207.0L859.8 206.8L860.4 206.9L861.0 207.0L861.6 206.5L862.2 207.0L862.8 206.7L863.4 206.9L864.0 206.9L864.6 207.1L865.2 207.1L865.8 207.3L866.4 207.0L867.0 206.8L867.6 206.8L868.2 207.1L868.8 207.3L869.4 207.0L870.0 206.8L870.6 207.0L871.2 207.0L871.8 207.0L872.4 206.8L873.0 206.4L873.6 206.8L874.2 207.2L874.8 207.0L875.4 206.4L876.0 207.0L876.6 206.5L877.2 207.4L877.8 207.0L878.4 206.7L879.0 207.2L879.6 206.8L880.2 207.1L880.8 207.0L881.4 206.7L882.0 207.1L882.6 206.7L883.2 207.3L883.8 207.0L884.4 206.7L885.0 206.6L885.6 207.4L886.2 207.3L886.8 206.7L887.4 207.4L888.0 207.0L888.6 207.0L889.2 207.0L889.8 206.9L890.4 207.3L891.0 207.0L891.6 206.6L892.2 207.5L892.8 207.2L893.4 206.8L894.0 206.9L894.6 206.8L895.2 207.0L895.8 207.1L896.4 207.1L897.0 206.9L897.6 206.8L898.2 207.2L898.8 207.0L899.4 207.6L900.0 206.9L900.6 207.2L901.2 207.1L901.8 206.9L902.4 207.4L903.0 207.1L903.6 206.8L904.2 207.0L904.8 207.3L905.4 206.8L906.0 207.4L906.6 207.2L907.2 207.0L907.8 207.4L908.4 207.5L909.0 207.2L909.6 207.1L910.2 207.5L910.8 207.4L911.4 206.9L912.0 207.0L912.6 207.0L913.2 207.0L913.8 206.7L914.4 207.3L915.0 207.1L915.6 207.1L916.2 207.4L916.8 207.0L917.4 207.1L918.0 207.2L918.6 207.0L919.2 207.1L919.8 207.3L920.4 207.1L921.0 207.4L921.6 206.9L922.2 207.1L922.8 206.8L923.4 207.1L924.0 206.9L924.6 207.4L925.2 207.3L925.8 207.2L926.4 207.5L927.0 207.4L927.6 207.3L928.2 207.0L928.8 206.8L929.4 207.1L930.0 207.0L930.6 207.0L931.2 207.1L931.8 206.7L932.4 207.5L933.0 206.9L933.6 207.0L934.2 207.3L934.8 206.7L935.4 207.3L936.0 207.3L936.6 207.1L937.2 206.9L937.8 207.0L938.4 206.7L939.0 207.5L939.6 207.1L940.2 207.0L940.8 206.9L941.4 207.3L942.0 207.5L942.6 206.8L943.2 207.0L943.8 206.7L944.4 207.3L945.0 207.2L945.6 207.7L946.2 207.1L946.8 207.0L947.4 207.0L948.0 207.4L948.6 206.8L949.2 207.3L949.8 207.2L950.4 207.0L951.0 206.9L951.6 207.4L952.2 207.6L952.8 207.1L953.4 207.3L954.0 207.6L954.6 207.0L955.2 207.1L955.8 206.9L956.4 207.1L957.0 207.1L957.6 207.1L958.2 207.0L958.8 206.8L959.4 206.8L960.0 206.9L960.6 207.3L961.2 207.0L961.8 207.0L962.4 207.3L963.0 207.3L963.6 207.0L964.2 207.0L964.8 207.3L965.4 207.3L966.0 207.0L966.6 207.2L967.2 207.2L967.8 207.4L968.4 207.0L969.0 207.4L969.6 207.3L970.2 206.9L970.8 207.4L971.4 207.4L972.0 206.9L972.6 207.7L973.2 206.9L973.8 207.0L974.4 207.1L975.0 207.4L975.6 207.3L976.2 207.2L976.8 207.5L977.4 207.3L978.0 207.5L978.6 207.9L979.2 207.2L979.8 206.6L980.4 207.1L981.0 206.9L981.6 207.2L982.2 207.2L982.8 206.9L983.4 206.9L984.0 207.1L984.6 207.1L985.2 206.6L985.8 207.4L986.4 207.2L987.0 207.2L987.6 207.3L988.2 206.9L988.8 207.2L989.4 207.4L990.0 207.5L990.6 207.3L991.2 207.1L991.8 207.0L992.4 207.5L993.0 207.3L993.6 207.1L994.2 206.7L994.8 207.0L995.4 206.7L996.0 207.5L996.6 207.2L997.2 207.0L997.8 207.1L998.4 207.8L999.0 207.5L999.6 206.9L1000.2 207.2L1000.8 206.9L1001.4 206.8L1002.0 207.2L1002.6 207.8L1003.2 207.6L1003.8 207.2L1004.4 207.1L1005.0 207.2L1005.6 207.5L1006.2 206.8" fill="none" stroke="#000080" stroke-width="2.4" stroke-linejoin="round"/>
<path d="M579.6 215.9L580.2 216.5L580.8 215.9L581.4 216.0L582.0 215.4L582.6 215.5L583.2 214.8L583.8 214.9L584.4 215.0L585.0 214.7L585.6 214.2L586.2 214.4L586.8 213.9L587.4 213.6L588.0 214.0L588.6 214.1L589.2 213.9L589.8 213.3L590.4 213.8L591.0 213.7L591.6 213.4L592.2 212.9L592.8 213.7L593.4 213.7L594.0 213.7L594.6 213.2L595.2 213.3L595.8 214.0L596.4 214.1L597.0 214.1L597.6 214.1L598.2 214.4L598.8 214.4L599.4 214.6L600.0 214.7L600.6 215.2L601.2 215.3L601.8 215.8L602.4 216.0L603.0 215.9L603.6 216.8L604.2 216.3L604.8 217.0L605.4 217.4L606.0 217.7L606.6 217.1L607.2 218.2L607.8 218.5L608.4 218.8L609.0 218.1L609.6 218.7L610.2 219.1L610.8 219.2L611.4 219.9L612.0 219.6L612.6 220.3L613.2 220.3L613.8 219.9L614.4 220.2L615.0 220.5L615.6 220.9L616.2 221.3L616.8 221.2L617.4 221.6L618.0 221.2L618.6 221.0L619.2 221.9L619.8 222.2L620.4 222.2L621.0 222.2L621.6 222.8L622.2 223.3L622.8 223.0L623.4 223.0L624.0 223.1L624.6 224.0L625.2 223.7L625.8 224.0L626.4 224.3L627.0 224.4L627.6 224.0L628.2 224.6L628.8 224.7L629.4 224.8L630.0 225.0L630.6 224.7L631.2 225.0L631.8 225.0L632.4 225.4L633.0 225.1L633.6 225.5L634.2 225.2L634.8 225.5L635.4 225.6L636.0 225.7L636.6 225.9L637.2 225.9L637.8 226.0L638.4 225.6L639.0 226.5L639.6 226.2L640.2 226.4L640.8 226.3L641.4 226.8L642.0 226.4L642.6 226.8L643.2 227.1L643.8 227.3L644.4 227.2L645.0 227.1L645.6 226.7L646.2 227.4L646.8 227.4L647.4 227.3L648.0 227.3L648.6 227.1L649.2 227.0L649.8 227.4L650.4 227.4L651.0 226.9L651.6 227.3L652.2 227.2L652.8 227.3L653.4 227.1L654.0 227.3L654.6 227.3L655.2 227.2L655.8 226.6L656.4 227.1L657.0 226.9L657.6 226.6L658.2 227.0L658.8 226.5L659.4 227.0L660.0 227.1L660.6 226.6L661.2 226.9L661.8 226.7L662.4 226.7L663.0 226.1L663.6 226.5L664.2 226.4L664.8 226.4L665.4 226.1L666.0 226.3L666.6 226.0L667.2 225.9L667.8 225.9L668.4 225.5L669.0 225.5L669.6 225.1L670.2 224.9L670.8 224.4L671.4 224.5L672.0 224.4L672.6 223.8L673.2 223.8L673.8 223.6L674.4 223.1L675.0 223.4L675.6 223.7L676.2 223.3L676.8 223.1L677.4 223.8L678.0 223.8L678.6 224.7L679.2 224.5L679.8 224.8L680.4 224.9L681.0 225.3L681.6 225.4L682.2 225.5L682.8 225.9L683.4 225.9L684.0 226.6L684.6 226.1L685.2 226.5L685.8 226.4L686.4 226.4L687.0 227.2L687.6 226.4L688.2 227.3L688.8 226.7L689.4 227.1L690.0 227.7L690.6 226.7L691.2 227.0L691.8 227.7L692.4 227.4L693.0 227.3L693.6 227.5L694.2 227.3L694.8 227.6L695.4 228.0L696.0 227.6L696.6 227.8L697.2 228.1L697.8 228.3L698.4 227.7L699.0 228.0L699.6 227.8L700.2 227.8L700.8 227.9L701.4 227.8L702.0 227.6L702.6 227.6L703.2 227.9L703.8 228.1L704.4 228.4L705.0 228.0L705.6 228.2L706.2 228.4L706.8 228.4L707.4 228.2L708.0 228.3L708.6 228.8L709.2 228.3L709.8 228.3L710.4 228.0L711.0 228.5L711.6 228.4L712.2 228.9L712.8 228.4L713.4 228.7L714.0 228.8L714.6 229.0L715.2 228.3L715.8 229.0L716.4 228.7L717.0 228.7L717.6 228.6L718.2 228.6L718.8 228.7L719.4 228.2L720.0 228.9L720.6 228.8L721.2 228.6L721.8 228.8L722.4 229.4L723.0 229.0L723.6 228.8L724.2 229.4L724.8 228.8L725.4 229.0L726.0 228.9L726.6 229.0L727.2 229.2L727.8 229.2L728.4 228.9L729.0 229.1L729.6 229.2L730.2 229.1L730.8 229.2L731.4 229.0L732.0 229.1L732.6 229.3L733.2 229.0L733.8 229.4L734.4 229.3L735.0 229.1L735.6 229.2L736.2 229.3L736.8 229.4L737.4 229.4L738.0 229.4L738.6 229.2L739.2 229.8L739.8 229.7L740.4 229.5L741.0 229.8L741.6 229.6L742.2 229.5L742.8 229.6L743.4 230.3L744.0 229.9L744.6 229.9L745.2 229.6L745.8 229.8L746.4 230.3L747.0 229.8L747.6 230.0L748.2 230.1L748.8 229.9L749.4 230.2L750.0 229.9L750.6 230.0L751.2 229.7L751.8 230.5L752.4 230.0L753.0 229.9L753.6 230.3L754.2 229.8L754.8 230.0L755.4 229.8L756.0 230.0L756.6 229.9L757.2 230.2L757.8 230.0L758.4 229.9L759.0 230.0L759.6 230.1L760.2 230.0L760.8 230.4L761.4 230.3L762.0 230.2L762.6 229.9L763.2 230.3L763.8 229.9L764.4 230.3L765.0 230.3L765.6 230.1L766.2 230.1L766.8 230.1L767.4 230.8L768.0 230.3L768.6 230.3L769.2 230.6L769.8 230.5L770.4 230.6L771.0 230.1L771.6 230.1L772.2 231.2L772.8 230.4L773.4 230.3L774.0 230.4L774.6 230.5L775.2 229.9L775.8 230.0L776.4 229.7L777.0 229.8L777.6 229.7L778.2 229.8L778.8 230.0L779.4 229.8L780.0 230.7L780.6 230.2L781.2 230.5L781.8 231.1L782.4 230.6L783.0 230.9L783.6 230.7L784.2 230.9L784.8 230.8L785.4 230.7L786.0 231.2L786.6 230.8L787.2 230.6L787.8 230.8L788.4 231.0L789.0 230.7L789.6 231.1L790.2 231.2L790.8 231.5L791.4 230.8L792.0 231.2L792.6 230.6L793.2 231.0L793.8 231.1L794.4 231.2L795.0 231.1L795.6 231.1L796.2 231.0L796.8 231.1L797.4 231.3L798.0 231.3L798.6 231.4L799.2 231.5L799.8 231.5L800.4 230.8L801.0 231.2L801.6 231.3L802.2 231.2L802.8 231.6L803.4 231.5L804.0 231.4L804.6 231.4L805.2 231.7L805.8 231.3L806.4 231.4L807.0 231.7L807.6 231.6L808.2 231.8L808.8 231.6L809.4 231.7L810.0 231.4L810.6 231.3L811.2 231.6L811.8 231.0L812.4 231.7L813.0 231.9L813.6 231.7L814.2 231.6L814.8 231.9L815.4 231.7L816.0 231.9L816.6 232.3L817.2 231.9L817.8 232.0L818.4 231.9L819.0 231.9L819.6 231.9L820.2 231.8L820.8 232.1L821.4 231.5L822.0 231.8L822.6 232.0L823.2 231.7L823.8 231.9L824.4 231.8L825.0 232.1L825.6 232.2L826.2 232.3L826.8 232.1L827.4 231.8L828.0 232.1L828.6 232.2L829.2 232.4L829.8 231.5L830.4 232.2L831.0 231.6L831.6 232.3L832.2 232.2L832.8 232.2L833.4 232.3L834.0 232.2L834.6 232.0L835.2 232.3L835.8 232.5L836.4 232.2L837.0 232.2L837.6 231.9L838.2 232.5L838.8 232.1L839.4 232.1L840.0 232.2L840.6 232.1L841.2 232.2L841.8 232.6L842.4 232.5L843.0 232.7L843.6 232.7L844.2 232.1L844.8 232.5L845.4 232.7L846.0 232.9L846.6 232.0L847.2 232.0L847.8 232.5L848.4 232.3L849.0 232.2L849.6 232.5L850.2 232.2L850.8 231.9L851.4 232.4L852.0 232.5L852.6 232.6L853.2 232.7L853.8 232.5L854.4 232.4L855.0 232.3L855.6 232.1L856.2 232.4L856.8 232.7L857.4 232.6L858.0 233.0L858.6 232.5L859.2 232.1L859.8 232.7L860.4 232.8L861.0 232.2L861.6 232.1L862.2 232.6L862.8 232.7L863.4 232.3L864.0 232.4L864.6 232.3L865.2 232.2L865.8 232.2L866.4 232.6L867.0 232.5L867.6 232.4L868.2 231.9L868.8 233.0L869.4 232.3L870.0 232.5L870.6 232.3L871.2 232.7L871.8 232.2L872.4 232.6L873.0 232.5L873.6 232.8L874.2 232.3L874.8 232.4L875.4 232.5L876.0 233.1L876.6 232.2L877.2 232.7L877.8 232.4L878.4 232.7L879.0 232.8L879.6 232.6L880.2 232.7L880.8 232.7L881.4 232.5L882.0 232.6L882.6 232.2L883.2 232.5L883.8 232.4L884.4 232.6L885.0 232.8L885.6 232.7L886.2 232.7L886.8 232.9L887.4 232.1L888.0 232.7L888.6 232.6L889.2 232.6L889.8 232.3L890.4 232.8L891.0 232.9L891.6 232.9L892.2 232.6L892.8 232.8L893.4 232.9L894.0 233.1L894.6 233.0L895.2 232.7L895.8 232.7L896.4 232.7L897.0 232.7L897.6 232.6L898.2 232.9L898.8 232.5L899.4 232.5L900.0 232.8L900.6 232.6L901.2 232.6L901.8 232.2L902.4 232.9L903.0 232.7L903.6 232.7L904.2 232.8L904.8 232.8L905.4 232.5L906.0 233.2L906.6 232.6L907.2 232.9L907.8 233.2L908.4 232.6L909.0 232.7L909.6 232.5L910.2 233.0L910.8 232.6L911.4 232.5L912.0 233.0L912.6 233.0L913.2 232.5L913.8 233.0L914.4 232.8L915.0 233.4L915.6 233.2L916.2 232.6L916.8 232.7L917.4 232.5L918.0 232.8L918.6 232.8L919.2 232.9L919.8 232.8L920.4 232.4L921.0 232.6L921.6 233.1L922.2 233.0L922.8 232.7L923.4 232.7L924.0 232.7L924.6 232.8L925.2 232.4L925.8 233.0L926.4 232.6L927.0 232.8L927.6 232.2L928.2 232.8L928.8 233.1L929.4 232.3L930.0 233.1L930.6 232.9L931.2 232.6L931.8 232.4L932.4 233.1L933.0 232.9L933.6 232.9L934.2 232.7L934.8 232.6L935.4 233.0L936.0 232.6L936.6 233.0L937.2 232.4L937.8 232.6L938.4 232.5L939.0 233.1L939.6 232.4L940.2 232.5L940.8 233.0L941.4 232.9L942.0 233.3L942.6 233.3L943.2 233.0L943.8 233.0L944.4 232.4L945.0 232.6L945.6 232.7L946.2 232.8L946.8 232.5L947.4 232.6L948.0 232.6L948.6 233.1L949.2 232.9L949.8 232.8L950.4 232.8L951.0 232.9L951.6 232.7L952.2 232.8L952.8 232.4L953.4 233.0L954.0 233.1L954.6 232.9L955.2 233.0L955.8 232.9L956.4 233.3L957.0 232.9L957.6 232.5L958.2 232.6L958.8 233.0L959.4 233.1L960.0 233.0L960.6 233.1L961.2 232.9L961.8 232.5L962.4 232.7L963.0 232.4L963.6 232.8L964.2 232.5L964.8 232.9L965.4 232.8L966.0 232.4L966.6 233.0L967.2 233.1L967.8 232.5L968.4 232.9L969.0 233.0L969.6 232.8L970.2 233.1L970.8 232.9L971.4 233.1L972.0 232.9L972.6 232.8L973.2 233.0L973.8 233.1L974.4 232.9L975.0 232.8L975.6 232.7L976.2 232.8L976.8 232.7L977.4 232.9L978.0 232.9L978.6 232.9L979.2 232.9L979.8 232.9L980.4 233.3L981.0 233.2L981.6 232.7L982.2 233.0L982.8 232.8L983.4 232.9L984.0 232.8L984.6 232.7L985.2 232.6L985.8 232.3L986.4 232.9L987.0 233.2L987.6 232.7L988.2 233.0L988.8 232.8L989.4 233.0L990.0 232.7L990.6 232.8L991.2 232.9L991.8 232.3L992.4 232.9L993.0 232.9L993.6 232.3L994.2 233.0L994.8 232.9L995.4 232.9L996.0 233.0L996.6 232.8L997.2 232.6L997.8 232.8L998.4 232.8L999.0 233.4L999.6 233.3L1000.2 232.8L1000.8 232.8L1001.4 233.0L1002.0 233.0L1002.6 232.7L1003.2 232.7L1003.8 233.4L1004.4 233.1L1005.0 232.5L1005.6 232.5L1006.2 232.7" fill="none" stroke="#ff80ff" stroke-width="2.4" stroke-linejoin="round"/>
<path d="M579.6 243.9L580.2 243.8L580.8 243.4L581.4 243.0L582.0 243.3L582.6 243.3L583.2 243.0L583.8 242.8L584.4 243.0L585.0 242.7L585.6 242.4L586.2 242.6L586.8 242.2L587.4 242.7L588.0 242.6L588.6 242.2L589.2 242.4L589.8 242.6L590.4 241.8L591.0 242.3L591.6 242.7L592.2 241.9L592.8 242.3L593.4 242.0L594.0 242.3L594.6 241.8L595.2 242.1L595.8 242.4L596.4 242.7L597.0 242.9L597.6 243.1L598.2 243.4L598.8 243.5L599.4 243.7L600.0 243.5L600.6 243.9L601.2 244.9L601.8 244.9L602.4 244.8L603.0 245.0L603.6 245.4L604.2 245.3L604.8 246.1L605.4 245.8L606.0 246.1L606.6 246.9L607.2 246.1L607.8 247.0L608.4 246.7L609.0 247.2L609.6 247.6L610.2 247.8L610.8 248.1L611.4 248.1L612.0 248.4L612.6 248.4L613.2 248.7L613.8 248.7L614.4 249.3L615.0 249.0L615.6 249.7L616.2 249.6L616.8 249.8L617.4 250.4L618.0 250.3L618.6 250.0L619.2 250.8L619.8 250.1L620.4 251.1L621.0 251.1L621.6 251.0L622.2 251.5L622.8 251.6L623.4 252.3L624.0 251.9L624.6 252.6L625.2 252.7L625.8 252.3L626.4 252.4L627.0 253.1L627.6 252.9L628.2 253.1L628.8 253.1L629.4 253.0L630.0 253.3L630.6 253.3L631.2 253.2L631.8 253.7L632.4 254.3L633.0 254.3L633.6 254.0L634.2 254.2L634.8 254.3L635.4 254.7L636.0 254.5L636.6 254.4L637.2 254.5L637.8 255.0L638.4 255.4L639.0 254.7L639.6 254.5L640.2 255.2L640.8 255.1L641.4 255.2L642.0 255.6L642.6 255.4L643.2 255.1L643.8 255.0L644.4 255.5L645.0 255.3L645.6 255.7L646.2 255.4L646.8 255.6L647.4 255.4L648.0 255.7L648.6 255.7L649.2 255.9L649.8 256.1L650.4 255.7L651.0 255.6L651.6 256.2L652.2 255.8L652.8 255.9L653.4 255.9L654.0 256.1L654.6 255.9L655.2 255.8L655.8 255.8L656.4 255.4L657.0 255.4L657.6 255.5L658.2 255.5L658.8 255.5L659.4 255.5L660.0 255.4L660.6 255.3L661.2 254.9L661.8 255.5L662.4 255.4L663.0 255.0L663.6 255.3L664.2 255.3L664.8 255.2L665.4 254.6L666.0 254.7L666.6 254.9L667.2 255.4L667.8 254.7L668.4 254.7L669.0 254.5L669.6 254.5L670.2 254.7L670.8 254.0L671.4 253.6L672.0 254.4L672.6 254.1L673.2 253.9L673.8 254.1L674.4 254.1L675.0 253.3L675.6 253.8L676.2 254.1L676.8 253.8L677.4 254.0L678.0 254.4L678.6 254.2L679.2 254.1L679.8 254.3L680.4 254.3L681.0 254.8L681.6 254.3L682.2 255.1L682.8 254.4L683.4 254.9L684.0 254.6L684.6 254.9L685.2 255.2L685.8 255.3L686.4 255.3L687.0 255.0L687.6 255.1L688.2 255.1L688.8 255.2L689.4 255.0L690.0 255.4L690.6 255.2L691.2 255.4L691.8 255.3L692.4 255.3L693.0 255.0L693.6 255.1L694.2 254.9L694.8 255.1L695.4 255.2L696.0 255.4L696.6 254.9L697.2 256.0L697.8 255.2L698.4 255.6L699.0 255.5L699.6 254.6L700.2 255.2L700.8 255.7L701.4 254.7L702.0 255.5L702.6 255.1L703.2 255.2L703.8 255.4L704.4 254.9L705.0 255.4L705.6 255.2L706.2 255.2L706.8 255.6L707.4 256.3L708.0 255.5L708.6 255.6L709.2 255.4L709.8 255.3L710.4 255.6L711.0 255.9L711.6 255.6L712.2 255.8L712.8 255.5L713.4 256.2L714.0 255.2L714.6 255.7L715.2 255.7L715.8 255.7L716.4 255.4L717.0 255.4L717.6 255.6L718.2 255.7L718.8 255.4L719.4 255.5L720.0 255.9L720.6 256.0L721.2 255.6L721.8 255.6L722.4 255.6L723.0 256.5L723.6 256.0L724.2 255.9L724.8 256.1L725.4 256.5L726.0 256.2L726.6 255.6L727.2 256.0L727.8 255.9L728.4 255.9L729.0 255.7L729.6 256.0L730.2 255.8L730.8 256.2L731.4 256.1L732.0 255.8L732.6 255.7L733.2 256.1L733.8 256.4L734.4 256.3L735.0 256.2L735.6 255.4L736.2 256.2L736.8 256.1L737.4 256.2L738.0 256.0L738.6 256.3L739.2 256.2L739.8 257.1L740.4 256.6L741.0 256.4L741.6 256.5L742.2 256.5L742.8 256.6L743.4 256.4L744.0 256.6L744.6 256.8L745.2 256.8L745.8 256.7L746.4 257.0L747.0 256.7L747.6 256.5L748.2 256.3L748.8 256.6L749.4 256.8L750.0 256.9L750.6 257.1L751.2 256.7L751.8 256.7L752.4 257.1L753.0 257.2L753.6 256.8L754.2 257.0L754.8 257.3L755.4 257.1L756.0 257.0L756.6 256.5L757.2 257.4L757.8 257.2L758.4 257.1L759.0 257.0L759.6 256.8L760.2 257.1L760.8 257.1L761.4 257.5L762.0 256.9L762.6 257.6L763.2 257.3L763.8 257.6L764.4 257.1L765.0 257.4L765.6 257.6L766.2 257.4L766.8 257.0L767.4 257.3L768.0 257.5L768.6 257.1L769.2 257.1L769.8 257.5L770.4 257.2L771.0 257.7L771.6 257.2L772.2 257.1L772.8 257.3L773.4 257.9L774.0 257.3L774.6 257.5L775.2 257.4L775.8 256.9L776.4 257.1L777.0 256.7L777.6 256.9L778.2 256.7L778.8 256.9L779.4 256.9L780.0 257.6L780.6 257.7L781.2 257.9L781.8 258.2L782.4 257.7L783.0 257.8L783.6 258.0L784.2 258.3L784.8 257.7L785.4 258.1L786.0 257.9L786.6 257.9L787.2 258.2L787.8 257.8L788.4 257.7L789.0 258.2L789.6 258.0L790.2 258.0L790.8 258.0L791.4 258.2L792.0 258.0L792.6 258.3L793.2 258.2L793.8 258.5L794.4 258.5L795.0 258.4L795.6 258.2L796.2 258.3L796.8 258.1L797.4 259.0L798.0 258.2L798.6 258.4L799.2 258.7L799.8 258.0L800.4 258.2L801.0 258.3L801.6 258.1L802.2 258.1L802.8 258.3L803.4 258.8L804.0 258.6L804.6 258.5L805.2 258.5L805.8 258.1L806.4 258.7L807.0 258.7L807.6 258.3L808.2 258.6L808.8 258.6L809.4 258.5L810.0 258.4L810.6 258.5L811.2 258.4L811.8 258.8L812.4 258.8L813.0 258.8L813.6 258.7L814.2 258.7L814.8 259.3L815.4 258.3L816.0 259.1L816.6 258.9L817.2 258.9L817.8 258.7L818.4 258.8L819.0 258.6L819.6 258.6L820.2 258.9L820.8 258.5L821.4 259.2L822.0 259.2L822.6 258.1L823.2 258.6L823.8 259.1L824.4 259.1L825.0 259.1L825.6 259.2L826.2 259.3L826.8 259.3L827.4 259.6L828.0 259.1L828.6 259.4L829.2 258.7L829.8 259.1L830.4 258.9L831.0 259.5L831.6 259.8L832.2 259.4L832.8 258.9L833.4 259.2L834.0 259.3L834.6 259.3L835.2 259.6L835.8 259.5L836.4 258.7L837.0 259.7L837.6 259.2L838.2 259.2L838.8 259.7L839.4 259.3L840.0 259.0L840.6 259.1L841.2 259.4L841.8 259.7L842.4 259.8L843.0 259.4L843.6 259.3L844.2 259.9L844.8 259.4L845.4 259.9L846.0 259.6L846.6 259.6L847.2 259.5L847.8 259.6L848.4 259.4L849.0 259.4L849.6 259.5L850.2 259.4L850.8 259.7L851.4 259.6L852.0 259.5L852.6 259.6L853.2 259.6L853.8 260.1L854.4 259.6L855.0 259.5L855.6 259.6L856.2 259.8L856.8 259.6L857.4 259.6L858.0 259.6L858.6 259.7L859.2 259.8L859.8 259.8L860.4 259.3L861.0 259.4L861.6 259.1L862.2 259.9L862.8 260.0L863.4 260.1L864.0 259.8L864.6 260.0L865.2 259.7L865.8 259.7L866.4 259.4L867.0 259.6L867.6 259.6L868.2 260.0L868.8 260.2L869.4 259.7L870.0 259.9L870.6 259.9L871.2 259.6L871.8 259.4L872.4 259.6L873.0 259.5L873.6 259.7L874.2 259.8L874.8 259.8L875.4 259.8L876.0 260.0L876.6 259.6L877.2 260.1L877.8 259.4L878.4 259.9L879.0 260.0L879.6 259.7L880.2 259.5L880.8 260.0L881.4 259.7L882.0 260.1L882.6 260.1L883.2 259.9L883.8 259.9L884.4 260.2L885.0 260.0L885.6 259.7L886.2 260.0L886.8 260.1L887.4 260.0L888.0 260.0L888.6 259.9L889.2 259.9L889.8 259.7L890.4 259.6L891.0 260.2L891.6 259.8L892.2 260.0L892.8 259.6L893.4 260.0L894.0 259.8L894.6 260.7L895.2 259.7L895.8 259.8L896.4 260.2L897.0 260.3L897.6 259.5L898.2 260.1L898.8 260.2L899.4 259.7L900.0 260.2L900.6 259.9L901.2 259.8L901.8 260.0L902.4 259.9L903.0 259.7L903.6 260.6L904.2 260.0L904.8 259.9L905.4 260.3L906.0 260.1L906.6 260.4L907.2 260.0L907.8 260.2L908.4 260.1L909.0 260.1L909.6 260.1L910.2 260.1L910.8 260.5L911.4 260.0L912.0 260.0L912.6 260.0L913.2 260.3L913.8 260.2L914.4 260.4L915.0 259.8L915.6 260.2L916.2 260.1L916.8 260.1L917.4 260.2L918.0 259.7L918.6 260.2L919.2 260.2L919.8 259.8L920.4 260.2L921.0 260.6L921.6 260.1L922.2 260.3L922.8 260.1L923.4 260.0L924.0 260.0L924.6 260.1L925.2 260.5L925.8 260.4L926.4 260.0L927.0 260.5L927.6 260.2L928.2 260.1L928.8 260.3L929.4 260.0L930.0 259.9L930.6 260.6L931.2 259.8L931.8 260.4L932.4 259.9L933.0 260.3L933.6 260.2L934.2 260.2L934.8 259.7L935.4 260.3L936.0 260.3L936.6 260.1L937.2 260.3L937.8 260.5L938.4 260.1L939.0 260.4L939.6 260.0L940.2 260.4L940.8 260.5L941.4 260.9L942.0 260.5L942.6 260.4L943.2 260.7L943.8 260.1L944.4 260.6L945.0 260.2L945.6 260.2L946.2 260.6L946.8 260.4L947.4 260.7L948.0 260.0L948.6 260.4L949.2 260.2L949.8 260.3L950.4 259.9L951.0 260.6L951.6 260.4L952.2 260.1L952.8 260.0L953.4 260.2L954.0 260.7L954.6 260.4L955.2 260.3L955.8 260.5L956.4 260.4L957.0 260.4L957.6 260.6L958.2 260.5L958.8 260.6L959.4 260.1L960.0 260.4L960.6 260.3L961.2 260.4L961.8 260.4L962.4 260.3L963.0 260.3L963.6 260.6L964.2 260.3L964.8 260.1L965.4 260.6L966.0 260.7L966.6 260.4L967.2 260.5L967.8 260.2L968.4 260.4L969.0 260.7L969.6 260.6L970.2 260.5L970.8 260.4L971.4 260.0L972.0 260.5L972.6 260.6L973.2 260.7L973.8 260.9L974.4 260.5L975.0 260.7L975.6 260.2L976.2 260.8L976.8 260.7L977.4 260.8L978.0 260.6L978.6 260.6L979.2 260.8L979.8 260.3L980.4 260.6L981.0 260.7L981.6 260.3L982.2 260.2L982.8 260.6L983.4 260.5L984.0 260.6L984.6 260.6L985.2 260.3L985.8 260.6L986.4 260.8L987.0 260.4L987.6 260.4L988.2 260.2L988.8 260.7L989.4 261.0L990.0 260.2L990.6 260.7L991.2 260.7L991.8 260.4L992.4 260.4L993.0 260.2L993.6 260.3L994.2 260.5L994.8 260.7L995.4 260.5L996.0 260.7L996.6 260.5L997.2 260.2L997.8 260.9L998.4 260.8L999.0 260.3L999.6 260.9L1000.2 260.6L1000.8 260.5L1001.4 261.0L1002.0 259.9L1002.6 260.1L1003.2 260.7L1003.8 260.4L1004.4 260.3L1005.0 260.9L1005.6 260.6L1006.2 260.2" fill="none" stroke="#008080" stroke-width="2.4" stroke-linejoin="round"/>
<path d="M579.6 270.4L580.2 270.5L580.8 270.5L581.4 269.3L582.0 269.6L582.6 269.3L583.2 268.7L583.8 268.9L584.4 268.4L585.0 268.5L585.6 268.9L586.2 268.5L586.8 268.4L587.4 268.3L588.0 268.2L588.6 268.3L589.2 267.7L589.8 267.9L590.4 268.2L591.0 267.9L591.6 268.0L592.2 268.5L592.8 268.6L593.4 268.2L594.0 268.2L594.6 268.7L595.2 268.8L595.8 268.7L596.4 269.1L597.0 269.3L597.6 269.4L598.2 270.2L598.8 270.0L599.4 270.1L600.0 270.4L600.6 271.1L601.2 270.8L601.8 270.6L602.4 271.1L603.0 271.2L603.6 271.3L604.2 271.7L604.8 272.0L605.4 272.1L606.0 272.3L606.6 272.8L607.2 272.4L607.8 273.3L608.4 273.3L609.0 273.6L609.6 273.1L610.2 274.3L610.8 273.7L611.4 274.1L612.0 274.6L612.6 274.5L613.2 274.7L613.8 274.5L614.4 275.1L615.0 275.4L615.6 275.7L616.2 275.7L616.8 276.0L617.4 276.2L618.0 276.1L618.6 276.3L619.2 277.1L619.8 276.6L620.4 277.3L621.0 277.2L621.6 277.8L622.2 277.4L622.8 277.9L623.4 278.0L624.0 278.1L624.6 278.4L625.2 278.3L625.8 278.6L626.4 278.7L627.0 279.1L627.6 279.1L628.2 278.9L628.8 279.3L629.4 279.5L630.0 279.4L630.6 280.1L631.2 279.9L631.8 280.2L632.4 279.9L633.0 280.1L633.6 280.5L634.2 280.0L634.8 280.6L635.4 280.6L636.0 280.5L636.6 280.8L637.2 280.6L637.8 281.0L638.4 280.8L639.0 280.8L639.6 281.6L640.2 281.2L640.8 280.9L641.4 281.7L642.0 281.4L642.6 280.8L643.2 281.7L643.8 282.0L644.4 281.9L645.0 282.3L645.6 281.9L646.2 282.1L646.8 281.8L647.4 282.1L648.0 282.4L648.6 282.2L649.2 282.1L649.8 281.6L650.4 282.0L651.0 281.8L651.6 282.3L652.2 281.9L652.8 282.1L653.4 281.8L654.0 282.5L654.6 281.7L655.2 282.0L655.8 282.6L656.4 281.9L657.0 281.7L657.6 282.0L658.2 282.0L658.8 282.0L659.4 281.2L660.0 281.7L660.6 281.1L661.2 282.1L661.8 281.6L662.4 281.4L663.0 281.7L663.6 281.6L664.2 281.1L664.8 281.8L665.4 281.3L666.0 280.8L666.6 281.6L667.2 281.6L667.8 281.4L668.4 281.2L669.0 280.7L669.6 281.1L670.2 281.2L670.8 280.9L671.4 280.9L672.0 280.2L672.6 280.5L673.2 280.3L673.8 279.6L674.4 279.4L675.0 279.6L675.6 279.7L676.2 279.9L676.8 279.8L677.4 279.9L678.0 280.0L678.6 280.2L679.2 280.5L679.8 280.6L680.4 280.6L681.0 280.9L681.6 280.8L682.2 281.2L682.8 280.9L683.4 281.5L684.0 281.2L684.6 281.3L685.2 281.1L685.8 281.2L686.4 281.4L687.0 281.4L687.6 281.3L688.2 281.2L688.8 281.5L689.4 281.5L690.0 281.7L690.6 281.9L691.2 281.5L691.8 281.1L692.4 281.6L693.0 281.2L693.6 281.3L694.2 281.9L694.8 281.9L695.4 281.6L696.0 281.6L696.6 281.8L697.2 281.4L697.8 281.9L698.4 281.8L699.0 282.3L699.6 281.6L700.2 282.1L700.8 281.7L701.4 282.2L702.0 281.7L702.6 282.2L703.2 281.9L703.8 281.8L704.4 282.0L705.0 282.2L705.6 282.2L706.2 282.5L706.8 282.3L707.4 281.5L708.0 282.1L708.6 281.7L709.2 282.1L709.8 282.4L710.4 281.9L711.0 282.0L711.6 282.3L712.2 282.2L712.8 282.7L713.4 282.4L714.0 282.5L714.6 282.8L715.2 282.3L715.8 282.5L716.4 282.2L717.0 282.6L717.6 282.8L718.2 282.9L718.8 282.6L719.4 282.4L720.0 282.4L720.6 282.3L721.2 282.7L721.8 283.0L722.4 282.1L723.0 282.2L723.6 283.1L724.2 282.4L724.8 282.9L725.4 282.5L726.0 283.1L726.6 283.1L727.2 283.0L727.8 283.2L728.4 283.0L729.0 283.1L729.6 283.5L730.2 283.3L730.8 282.9L731.4 282.9L732.0 283.1L732.6 283.1L733.2 283.2L733.8 283.1L734.4 283.4L735.0 283.3L735.6 283.4L736.2 283.3L736.8 283.5L737.4 283.1L738.0 283.8L738.6 283.5L739.2 283.5L739.8 283.6L740.4 283.8L741.0 283.7L741.6 283.6L742.2 283.5L742.8 283.2L743.4 283.7L744.0 283.6L744.6 283.6L745.2 284.3L745.8 283.2L746.4 283.7L747.0 284.1L747.6 284.0L748.2 284.1L748.8 283.5L749.4 283.6L750.0 284.0L750.6 283.8L751.2 284.4L751.8 284.0L752.4 284.0L753.0 284.1L753.6 283.9L754.2 284.1L754.8 283.9L755.4 284.1L756.0 284.0L756.6 284.2L757.2 283.8L757.8 283.8L758.4 284.3L759.0 284.3L759.6 284.0L760.2 284.2L760.8 284.0L761.4 284.8L762.0 283.9L762.6 284.8L763.2 284.1L763.8 284.5L764.4 284.3L765.0 284.3L765.6 284.7L766.2 284.6L766.8 284.4L767.4 284.2L768.0 285.0L768.6 284.8L769.2 284.5L769.8 284.4L770.4 284.6L771.0 284.6L771.6 284.8L772.2 284.3L772.8 284.5L773.4 284.3L774.0 284.8L774.6 284.8L775.2 284.1L775.8 283.9L776.4 283.6L777.0 282.9L777.6 282.9L778.2 283.9L778.8 284.2L779.4 284.3L780.0 284.9L780.6 284.7L781.2 284.3L781.8 284.8L782.4 284.8L783.0 285.3L783.6 284.8L784.2 284.8L784.8 284.9L785.4 284.9L786.0 284.5L786.6 284.9L787.2 284.8L787.8 285.3L788.4 285.5L789.0 284.7L789.6 284.7L790.2 284.7L790.8 284.8L791.4 284.8L792.0 285.0L792.6 285.3L793.2 284.7L793.8 284.6L794.4 284.6L795.0 285.3L795.6 285.4L796.2 284.7L796.8 284.7L797.4 285.1L798.0 285.4L798.6 285.4L799.2 285.2L799.8 285.3L800.4 285.2L801.0 285.0L801.6 285.6L802.2 285.2L802.8 284.9L803.4 285.1L804.0 284.8L804.6 285.2L805.2 285.5L805.8 284.9L806.4 285.5L807.0 285.8L807.6 285.3L808.2 285.0L808.8 285.0L809.4 285.2L810.0 285.0L810.6 285.0L811.2 285.2L811.8 285.3L812.4 285.5L813.0 285.0L813.6 285.8L814.2 285.6L814.8 285.6L815.4 285.2L816.0 285.8L816.6 285.3L817.2 285.8L817.8 285.6L818.4 285.2L819.0 285.3L819.6 285.9L820.2 285.7L820.8 285.4L821.4 285.5L822.0 285.5L822.6 285.2L823.2 285.4L823.8 285.3L824.4 285.4L825.0 285.6L825.6 285.2L826.2 285.7L826.8 285.5L827.4 285.7L828.0 285.7L828.6 285.8L829.2 285.7L829.8 285.7L830.4 285.5L831.0 285.7L831.6 285.3L832.2 285.5L832.8 285.8L833.4 285.6L834.0 285.7L834.6 285.3L835.2 285.9L835.8 285.5L836.4 285.7L837.0 285.6L837.6 285.8L838.2 285.5L838.8 285.4L839.4 285.2L840.0 285.6L840.6 285.3L841.2 285.8L841.8 286.0L842.4 285.1L843.0 285.3L843.6 285.8L844.2 286.0L844.8 285.8L845.4 285.8L846.0 285.8L846.6 285.9L847.2 286.1L847.8 285.9L848.4 285.4L849.0 285.6L849.6 285.8L850.2 285.5L850.8 285.7L851.4 285.6L852.0 285.6L852.6 285.9L853.2 285.7L853.8 285.5L854.4 285.6L855.0 285.8L855.6 286.3L856.2 285.9L856.8 286.2L857.4 285.9L858.0 285.3L858.6 285.9L859.2 285.6L859.8 285.5L860.4 285.6L861.0 286.3L861.6 285.4L862.2 285.7L862.8 286.1L863.4 286.0L864.0 285.4L864.6 285.8L865.2 285.7L865.8 285.8L866.4 286.1L867.0 285.7L867.6 285.8L868.2 286.3L868.8 285.4L869.4 285.8L870.0 286.0L870.6 285.6L871.2 285.8L871.8 285.6L872.4 286.0L873.0 285.8L873.6 286.1L874.2 286.2L874.8 286.0L875.4 285.9L876.0 286.0L876.6 286.0L877.2 285.7L877.8 286.2L878.4 286.0L879.0 286.2L879.6 285.6L880.2 286.2L880.8 286.5L881.4 286.1L882.0 285.6L882.6 286.0L883.2 286.0L883.8 286.1L884.4 286.0L885.0 286.1L885.6 285.9L886.2 286.1L886.8 285.9L887.4 286.1L888.0 286.3L888.6 285.9L889.2 286.2L889.8 285.8L890.4 286.0L891.0 286.0L891.6 286.4L892.2 285.9L892.8 286.4L893.4 285.7L894.0 286.0L894.6 286.3L895.2 286.3L895.8 285.8L896.4 285.8L897.0 286.3L897.6 285.8L898.2 286.3L898.8 286.0L899.4 286.1L900.0 286.7L900.6 286.5L901.2 286.4L901.8 285.8L902.4 286.2L903.0 286.2L903.6 286.1L904.2 286.5L904.8 285.7L905.4 286.3L906.0 286.2L906.6 286.0L907.2 286.6L907.8 285.9L908.4 286.2L909.0 286.2L909.6 285.6L910.2 285.8L910.8 286.0L911.4 286.4L912.0 286.5L912.6 286.4L913.2 286.3L913.8 285.7L914.4 286.3L915.0 286.1L915.6 286.5L916.2 286.6L916.8 286.8L917.4 286.4L918.0 286.5L918.6 286.0L919.2 286.3L919.8 286.0L920.4 286.5L921.0 286.0L921.6 286.2L922.2 286.1L922.8 286.2L923.4 286.4L924.0 286.2L924.6 286.4L925.2 286.1L925.8 286.7L926.4 286.2L927.0 286.6L927.6 286.9L928.2 285.7L928.8 286.1L929.4 286.3L930.0 286.6L930.6 286.2L931.2 286.4L931.8 286.2L932.4 286.5L933.0 286.0L933.6 286.6L934.2 285.6L934.8 285.9L935.4 286.8L936.0 286.4L936.6 286.1L937.2 286.9L937.8 286.7L938.4 286.7L939.0 286.3L939.6 286.6L940.2 286.5L940.8 286.0L941.4 286.6L942.0 286.4L942.6 286.7L943.2 286.7L943.8 286.3L944.4 286.3L945.0 286.5L945.6 286.6L946.2 286.3L946.8 286.4L947.4 286.6L948.0 286.5L948.6 286.7L949.2 286.5L949.8 286.2L950.4 286.0L951.0 286.7L951.6 286.4L952.2 286.4L952.8 286.4L953.4 286.1L954.0 286.4L954.6 285.8L955.2 286.4L955.8 286.2L956.4 287.0L957.0 286.6L957.6 286.4L958.2 286.5L958.8 286.7L959.4 286.3L960.0 286.4L960.6 286.4L961.2 287.1L961.8 286.5L962.4 286.0L963.0 286.7L963.6 287.2L964.2 286.3L964.8 287.4L965.4 286.5L966.0 286.8L966.6 286.4L967.2 286.5L967.8 286.2L968.4 286.3L969.0 286.0L969.6 286.8L970.2 286.2L970.8 286.6L971.4 286.6L972.0 286.4L972.6 286.6L973.2 286.5L973.8 286.4L974.4 286.6L975.0 286.6L975.6 286.3L976.2 286.2L976.8 286.3L977.4 286.6L978.0 286.9L978.6 286.9L979.2 286.6L979.8 286.8L980.4 286.6L981.0 286.9L981.6 286.6L982.2 286.7L982.8 286.5L983.4 286.6L984.0 287.1L984.6 286.3L985.2 286.6L985.8 286.4L986.4 286.8L987.0 287.1L987.6 286.5L988.2 285.9L988.8 286.7L989.4 286.8L990.0 286.2L990.6 286.5L991.2 286.6L991.8 286.0L992.4 286.8L993.0 286.7L993.6 286.7L994.2 286.3L994.8 286.4L995.4 286.4L996.0 286.7L996.6 286.3L997.2 287.0L997.8 286.7L998.4 286.0L999.0 287.0L999.6 286.6L1000.2 286.5L1000.8 286.6L1001.4 286.1L1002.0 286.7L1002.6 286.0L1003.2 286.3L1003.8 287.0L1004.4 286.9L1005.0 286.5L1005.6 286.4L1006.2 286.9" fill="none" stroke="#0000ff" stroke-width="2.4" stroke-linejoin="round"/>
<path d="M579.6 298.3L580.2 298.0L580.8 297.8L581.4 297.0L582.0 297.2L582.6 296.1L583.2 296.8L583.8 295.7L584.4 295.7L585.0 295.5L585.6 295.6L586.2 295.4L586.8 295.1L587.4 295.0L588.0 294.8L588.6 294.6L589.2 294.0L589.8 293.8L590.4 293.7L591.0 294.2L591.6 294.1L592.2 294.1L592.8 294.2L593.4 294.1L594.0 293.9L594.6 293.8L595.2 293.8L595.8 294.7L596.4 294.8L597.0 294.3L597.6 294.8L598.2 295.1L598.8 295.7L599.4 295.3L600.0 295.7L600.6 296.2L601.2 295.7L601.8 296.2L602.4 296.7L603.0 296.8L603.6 297.8L604.2 297.8L604.8 297.9L605.4 297.9L606.0 298.6L606.6 298.9L607.2 298.9L607.8 299.2L608.4 299.2L609.0 299.8L609.6 300.3L610.2 300.6L610.8 300.7L611.4 301.0L612.0 300.9L612.6 301.1L613.2 301.7L613.8 301.7L614.4 301.6L615.0 302.1L615.6 302.4L616.2 302.6L616.8 302.7L617.4 302.7L618.0 303.1L618.6 303.7L619.2 303.5L619.8 303.5L620.4 303.9L621.0 303.7L621.6 304.3L622.2 304.3L622.8 304.9L623.4 304.8L624.0 305.2L624.6 305.8L625.2 305.3L625.8 305.3L626.4 305.8L627.0 305.8L627.6 306.0L628.2 306.0L628.8 306.4L629.4 306.4L630.0 306.0L630.6 306.6L631.2 306.9L631.8 307.2L632.4 306.9L633.0 306.9L633.6 307.5L634.2 307.2L634.8 307.5L635.4 307.7L636.0 307.9L636.6 307.8L637.2 307.6L637.8 308.2L638.4 308.0L639.0 308.0L639.6 308.8L640.2 308.6L640.8 308.2L641.4 308.4L642.0 308.6L642.6 308.5L643.2 308.3L643.8 309.1L644.4 309.1L645.0 309.0L645.6 308.9L646.2 309.1L646.8 309.3L647.4 308.9L648.0 309.1L648.6 309.0L649.2 309.4L649.8 309.3L650.4 308.8L651.0 309.0L651.6 309.6L652.2 308.9L652.8 309.2L653.4 309.0L654.0 309.5L654.6 309.1L655.2 309.0L655.8 308.8L656.4 309.0L657.0 309.2L657.6 309.2L658.2 308.6L658.8 309.4L659.4 308.9L660.0 308.6L660.6 308.9L661.2 308.7L661.8 308.7L662.4 308.6L663.0 308.8L663.6 308.6L664.2 308.3L664.8 308.8L665.4 308.5L666.0 308.9L666.6 308.7L667.2 308.7L667.8 308.6L668.4 308.8L669.0 308.3L669.6 308.1L670.2 308.4L670.8 307.6L671.4 308.1L672.0 308.2L672.6 308.0L673.2 308.4L673.8 308.2L674.4 308.0L675.0 307.8L675.6 308.1L676.2 307.7L676.8 307.7L677.4 308.1L678.0 308.1L678.6 308.5L679.2 308.0L679.8 307.6L680.4 308.4L681.0 308.6L681.6 308.3L682.2 308.9L682.8 309.0L683.4 308.5L684.0 308.6L684.6 308.5L685.2 309.0L685.8 309.1L686.4 309.2L687.0 308.7L687.6 308.9L688.2 308.8L688.8 308.8L689.4 308.9L690.0 308.9L690.6 309.3L691.2 309.5L691.8 309.6L692.4 309.5L693.0 309.4L693.6 309.6L694.2 309.8L694.8 309.6L695.4 309.7L696.0 309.7L696.6 309.7L697.2 309.8L697.8 309.6L698.4 310.2L699.0 309.5L699.6 310.1L700.2 309.6L700.8 310.4L701.4 310.3L702.0 309.9L702.6 310.0L703.2 309.8L703.8 310.1L704.4 310.3L705.0 310.9L705.6 309.9L706.2 310.6L706.8 310.1L707.4 310.4L708.0 310.6L708.6 310.5L709.2 310.5L709.8 310.4L710.4 310.4L711.0 310.5L711.6 310.8L712.2 310.1L712.8 310.4L713.4 310.2L714.0 310.3L714.6 310.4L715.2 310.9L715.8 311.2L716.4 311.0L717.0 310.4L717.6 310.8L718.2 310.5L718.8 310.9L719.4 311.1L720.0 311.0L720.6 311.1L721.2 310.9L721.8 310.4L722.4 310.4L723.0 310.9L723.6 311.1L724.2 311.3L724.8 311.0L725.4 311.1L726.0 311.2L726.6 311.4L727.2 311.1L727.8 310.9L728.4 311.5L729.0 311.3L729.6 311.3L730.2 310.9L730.8 311.3L731.4 310.9L732.0 310.8L732.6 311.3L733.2 311.3L733.8 311.5L734.4 311.8L735.0 311.4L735.6 311.9L736.2 311.3L736.8 311.7L737.4 311.2L738.0 311.6L738.6 311.5L739.2 311.5L739.8 311.8L740.4 311.2L741.0 311.7L741.6 311.5L742.2 311.7L742.8 311.8L743.4 311.7L744.0 311.7L744.6 311.5L745.2 312.0L745.8 311.7L746.4 312.0L747.0 311.5L747.6 312.3L748.2 311.7L748.8 312.2L749.4 311.8L750.0 312.1L750.6 312.0L751.2 312.2L751.8 312.0L752.4 312.4L753.0 312.3L753.6 312.3L754.2 312.6L754.8 312.0L755.4 312.5L756.0 312.2L756.6 311.8L757.2 312.3L757.8 312.2L758.4 312.7L759.0 312.2L759.6 312.3L760.2 312.4L760.8 311.8L761.4 312.5L762.0 312.1L762.6 312.8L763.2 312.8L763.8 312.4L764.4 312.0L765.0 312.5L765.6 312.5L766.2 312.7L766.8 312.4L767.4 312.2L768.0 312.5L768.6 312.3L769.2 313.0L769.8 312.4L770.4 312.5L771.0 312.6L771.6 312.3L772.2 312.6L772.8 312.7L773.4 312.6L774.0 312.7L774.6 313.1L775.2 312.9L775.8 312.4L776.4 312.7L777.0 313.0L777.6 312.6L778.2 312.8L778.8 312.8L779.4 313.0L780.0 312.8L780.6 312.9L781.2 312.7L781.8 313.0L782.4 312.7L783.0 313.4L783.6 313.0L784.2 312.9L784.8 313.2L785.4 313.0L786.0 313.1L786.6 313.0L787.2 312.9L787.8 312.8L788.4 312.9L789.0 313.4L789.6 313.0L790.2 313.0L790.8 313.0L791.4 313.4L792.0 313.7L792.6 313.0L793.2 313.4L793.8 313.3L794.4 313.2L795.0 313.4L795.6 313.0L796.2 313.5L796.8 313.4L797.4 313.1L798.0 313.8L798.6 313.6L799.2 313.7L799.8 313.0L800.4 313.3L801.0 313.3L801.6 313.6L802.2 313.8L802.8 313.0L803.4 313.5L804.0 313.5L804.6 313.8L805.2 313.5L805.8 313.2L806.4 313.5L807.0 313.3L807.6 313.4L808.2 313.6L808.8 313.5L809.4 313.7L810.0 313.3L810.6 314.3L811.2 314.0L811.8 313.9L812.4 313.4L813.0 313.2L813.6 313.5L814.2 313.7L814.8 314.3L815.4 314.1L816.0 313.7L816.6 314.1L817.2 314.1L817.8 313.8L818.4 314.2L819.0 314.0L819.6 313.7L820.2 313.6L820.8 313.9L821.4 314.2L822.0 313.6L822.6 313.5L823.2 314.1L823.8 313.3L824.4 314.5L825.0 313.9L825.6 314.2L826.2 314.5L826.8 313.7L827.4 313.8L828.0 314.6L828.6 314.0L829.2 314.1L829.8 314.2L830.4 314.4L831.0 314.5L831.6 314.2L832.2 314.1L832.8 314.1L833.4 314.2L834.0 314.5L834.6 314.2L835.2 314.7L835.8 314.0L836.4 314.3L837.0 314.7L837.6 314.6L838.2 314.3L838.8 314.0L839.4 314.1L840.0 314.2L840.6 314.3L841.2 314.2L841.8 313.9L842.4 314.1L843.0 314.4L843.6 314.5L844.2 314.0L844.8 314.2L845.4 313.9L846.0 314.2L846.6 315.2L847.2 314.4L847.8 314.3L848.4 314.2L849.0 314.0L849.6 313.9L850.2 314.4L850.8 314.3L851.4 314.7L852.0 314.0L852.6 314.5L853.2 314.7L853.8 313.9L854.4 314.6L855.0 314.0L855.6 314.5L856.2 314.8L856.8 314.4L857.4 314.5L858.0 314.2L858.6 314.5L859.2 314.7L859.8 314.4L860.4 314.4L861.0 314.5L861.6 314.6L862.2 314.0L862.8 314.4L863.4 314.2L864.0 314.5L864.6 314.7L865.2 314.5L865.8 314.7L866.4 314.1L867.0 314.3L867.6 314.1L868.2 314.4L868.8 314.4L869.4 314.3L870.0 314.1L870.6 314.4L871.2 314.3L871.8 314.6L872.4 314.3L873.0 314.7L873.6 314.5L874.2 313.9L874.8 314.4L875.4 314.0L876.0 314.6L876.6 314.8L877.2 314.4L877.8 314.5L878.4 314.0L879.0 313.8L879.6 314.3L880.2 314.3L880.8 314.0L881.4 314.4L882.0 314.5L882.6 314.6L883.2 314.8L883.8 314.6L884.4 314.3L885.0 314.4L885.6 314.6L886.2 314.1L886.8 314.7L887.4 314.6L888.0 314.3L888.6 314.2L889.2 315.4L889.8 314.6L890.4 314.6L891.0 314.9L891.6 314.6L892.2 314.5L892.8 314.6L893.4 314.2L894.0 314.6L894.6 314.0L895.2 314.5L895.8 314.5L896.4 314.0L897.0 314.9L897.6 314.1L898.2 314.7L898.8 314.3L899.4 314.5L900.0 314.2L900.6 315.0L901.2 314.7L901.8 314.9L902.4 314.6L903.0 314.6L903.6 314.4L904.2 314.3L904.8 314.6L905.4 314.4L906.0 314.4L906.6 314.0L907.2 314.3L907.8 314.5L908.4 314.3L909.0 314.5L909.6 314.4L910.2 314.1L910.8 314.2L911.4 314.2L912.0 314.3L912.6 314.3L913.2 314.7L913.8 314.1L914.4 313.9L915.0 314.6L915.6 314.3L916.2 314.4L916.8 315.0L917.4 314.8L918.0 314.5L918.6 314.6L919.2 314.4L919.8 314.6L920.4 314.2L921.0 314.2L921.6 314.3L922.2 314.8L922.8 314.8L923.4 314.2L924.0 314.7L924.6 314.3L925.2 314.7L925.8 314.3L926.4 314.6L927.0 314.4L927.6 314.3L928.2 314.4L928.8 314.4L929.4 314.2L930.0 314.0L930.6 314.8L931.2 314.3L931.8 313.9L932.4 313.8L933.0 313.7L933.6 314.2L934.2 314.7L934.8 313.9L935.4 314.3L936.0 313.9L936.6 314.6L937.2 314.5L937.8 314.4L938.4 314.7L939.0 314.8L939.6 314.6L940.2 314.2L940.8 314.0L941.4 314.1L942.0 313.9L942.6 314.8L943.2 314.3L943.8 314.4L944.4 314.4L945.0 314.9L945.6 314.2L946.2 314.7L946.8 314.4L947.4 314.3L948.0 313.9L948.6 314.6L949.2 314.2L949.8 314.2L950.4 314.4L951.0 314.4L951.6 314.6L952.2 314.2L952.8 314.4L953.4 314.4L954.0 314.3L954.6 314.5L955.2 314.3L955.8 314.6L956.4 314.1L957.0 314.0L957.6 314.3L958.2 314.6L958.8 314.2L959.4 314.2L960.0 314.2L960.6 314.4L961.2 314.3L961.8 314.4L962.4 313.9L963.0 314.7L963.6 314.5L964.2 314.1L964.8 314.7L965.4 314.4L966.0 314.7L966.6 314.0L967.2 314.7L967.8 314.3L968.4 313.8L969.0 314.5L969.6 314.2L970.2 314.0L970.8 314.2L971.4 313.8L972.0 314.4L972.6 314.2L973.2 314.2L973.8 314.6L974.4 314.3L975.0 314.1L975.6 314.0L976.2 314.2L976.8 314.5L977.4 314.1L978.0 314.0L978.6 314.5L979.2 314.3L979.8 314.2L980.4 314.8L981.0 313.9L981.6 314.3L982.2 313.8L982.8 314.2L983.4 314.4L984.0 314.5L984.6 313.9L985.2 314.4L985.8 314.4L986.4 314.2L987.0 314.8L987.6 314.2L988.2 314.0L988.8 314.3L989.4 313.7L990.0 314.6L990.6 314.5L991.2 314.1L991.8 314.4L992.4 314.3L993.0 314.7L993.6 314.0L994.2 313.8L994.8 313.7L995.4 314.1L996.0 313.8L996.6 314.1L997.2 314.3L997.8 314.0L998.4 313.9L999.0 314.5L999.6 314.1L1000.2 314.2L1000.8 314.4L1001.4 313.8L1002.0 313.9L1002.6 314.8L1003.2 314.1L1003.8 313.9L1004.4 314.1L1005.0 314.0L1005.6 313.8L1006.2 314.0" fill="none" stroke="#ff0000" stroke-width="2.4" stroke-linejoin="round"/>
<path d="M579.6 320.2L580.2 320.0L580.8 320.0L581.4 319.2L582.0 319.1L582.6 319.6L583.2 319.1L583.8 319.4L584.4 319.0L585.0 318.5L585.6 318.9L586.2 318.4L586.8 318.7L587.4 318.9L588.0 319.2L588.6 318.6L589.2 318.8L589.8 318.8L590.4 318.9L591.0 318.1L591.6 318.8L592.2 319.0L592.8 319.2L593.4 319.0L594.0 319.5L594.6 319.7L595.2 319.5L595.8 319.6L596.4 319.7L597.0 320.0L597.6 320.4L598.2 320.7L598.8 320.4L599.4 320.4L600.0 320.7L600.6 321.3L601.2 321.3L601.8 321.5L602.4 321.8L603.0 321.9L603.6 322.0L604.2 322.0L604.8 322.3L605.4 322.7L606.0 322.9L606.6 322.9L607.2 323.1L607.8 323.8L608.4 323.5L609.0 323.9L609.6 323.9L610.2 324.0L610.8 324.0L611.4 324.4L612.0 324.5L612.6 325.0L613.2 324.7L613.8 325.0L614.4 325.4L615.0 325.4L615.6 325.7L616.2 326.0L616.8 325.5L617.4 326.0L618.0 326.0L618.6 326.7L619.2 326.5L619.8 326.8L620.4 327.3L621.0 326.9L621.6 327.2L622.2 327.4L622.8 327.4L623.4 328.0L624.0 328.0L624.6 328.2L625.2 328.1L625.8 328.1L626.4 328.3L627.0 328.4L627.6 328.2L628.2 328.9L628.8 329.1L629.4 329.1L630.0 329.1L630.6 329.3L631.2 329.5L631.8 329.6L632.4 330.1L633.0 329.6L633.6 330.0L634.2 330.2L634.8 330.2L635.4 330.2L636.0 330.2L636.6 330.4L637.2 330.9L637.8 331.2L638.4 330.8L639.0 331.2L639.6 331.3L640.2 331.5L640.8 331.4L641.4 331.5L642.0 331.7L642.6 331.3L643.2 331.6L643.8 331.2L644.4 331.2L645.0 331.5L645.6 331.3L646.2 331.8L646.8 331.9L647.4 331.6L648.0 331.6L648.6 331.6L649.2 331.5L649.8 331.6L650.4 331.6L651.0 331.3L651.6 331.2L652.2 331.2L652.8 331.5L653.4 331.2L654.0 331.6L654.6 331.1L655.2 331.4L655.8 330.7L656.4 330.8L657.0 331.0L657.6 330.9L658.2 330.7L658.8 331.2L659.4 330.6L660.0 330.6L660.6 330.4L661.2 330.8L661.8 330.6L662.4 330.4L663.0 329.8L663.6 330.2L664.2 329.9L664.8 330.0L665.4 330.0L666.0 329.4L666.6 329.6L667.2 329.6L667.8 329.3L668.4 329.0L669.0 328.7L669.6 328.7L670.2 328.4L670.8 328.9L671.4 328.5L672.0 328.0L672.6 328.2L673.2 327.8L673.8 327.2L674.4 328.2L675.0 328.0L675.6 327.3L676.2 327.4L676.8 327.5L677.4 327.3L678.0 327.1L678.6 327.1L679.2 327.1L679.8 327.0L680.4 327.1L681.0 327.0L681.6 326.8L682.2 327.0L682.8 326.6L683.4 327.4L684.0 326.6L684.6 327.1L685.2 327.2L685.8 327.3L686.4 327.3L687.0 327.7L687.6 327.1L688.2 327.5L688.8 327.6L689.4 327.6L690.0 327.7L690.6 328.2L691.2 327.9L691.8 328.0L692.4 328.2L693.0 328.3L693.6 328.5L694.2 328.6L694.8 328.8L695.4 328.9L696.0 329.1L696.6 329.4L697.2 329.0L697.8 329.7L698.4 329.3L699.0 329.7L699.6 329.6L700.2 329.6L700.8 329.3L701.4 330.3L702.0 329.8L702.6 329.9L703.2 330.4L703.8 330.3L704.4 330.8L705.0 330.9L705.6 330.8L706.2 330.7L706.8 331.0L707.4 330.5L708.0 331.0L708.6 331.1L709.2 331.0L709.8 331.2L710.4 330.8L711.0 331.4L711.6 331.6L712.2 330.9L712.8 331.3L713.4 331.6L714.0 331.4L714.6 331.0L715.2 331.0L715.8 331.4L716.4 331.7L717.0 330.9L717.6 331.2L718.2 331.0L718.8 331.1L719.4 331.2L720.0 331.1L720.6 330.9L721.2 331.6L721.8 331.0L722.4 331.0L723.0 331.3L723.6 331.0L724.2 330.9L724.8 331.1L725.4 330.6L726.0 331.0L726.6 331.1L727.2 330.9L727.8 330.7L728.4 330.7L729.0 330.3L729.6 330.6L730.2 330.7L730.8 330.8L731.4 330.6L732.0 330.5L732.6 330.3L733.2 330.5L733.8 330.5L734.4 330.8L735.0 330.4L735.6 330.3L736.2 330.4L736.8 330.3L737.4 330.3L738.0 329.8L738.6 329.9L739.2 330.0L739.8 330.4L740.4 330.3L741.0 330.3L741.6 330.6L742.2 330.0L742.8 330.6L743.4 330.4L744.0 330.2L744.6 330.7L745.2 330.0L745.8 330.1L746.4 330.4L747.0 330.6L747.6 330.5L748.2 330.0L748.8 330.5L749.4 330.7L750.0 331.4L750.6 331.1L751.2 330.9L751.8 330.7L752.4 331.1L753.0 330.8L753.6 331.2L754.2 331.3L754.8 331.2L755.4 331.5L756.0 331.4L756.6 331.4L757.2 332.1L757.8 331.9L758.4 331.8L759.0 331.8L759.6 332.1L760.2 332.3L760.8 332.5L761.4 332.7L762.0 332.6L762.6 332.3L763.2 333.1L763.8 333.0L764.4 333.0L765.0 333.3L765.6 332.7L766.2 333.0L766.8 333.1L767.4 333.6L768.0 333.1L768.6 333.4L769.2 333.9L769.8 333.8L770.4 333.6L771.0 334.3L771.6 333.5L772.2 334.1L772.8 334.0L773.4 334.2L774.0 334.1L774.6 334.0L775.2 334.3L775.8 334.0L776.4 334.5L777.0 334.3L777.6 334.7L778.2 334.4L778.8 334.3L779.4 334.6L780.0 334.9L780.6 334.1L781.2 334.7L781.8 334.9L782.4 334.4L783.0 334.6L783.6 335.0L784.2 334.6L784.8 334.7L785.4 335.3L786.0 334.7L786.6 334.8L787.2 334.5L787.8 334.8L788.4 334.8L789.0 335.6L789.6 335.5L790.2 334.9L790.8 335.7L791.4 335.5L792.0 335.3L792.6 335.5L793.2 335.5L793.8 335.2L794.4 335.0L795.0 335.2L795.6 335.5L796.2 335.4L796.8 335.4L797.4 335.8L798.0 335.4L798.6 335.9L799.2 335.6L799.8 335.8L800.4 335.5L801.0 335.8L801.6 335.6L802.2 335.4L802.8 335.9L803.4 335.9L804.0 336.1L804.6 336.0L805.2 335.7L805.8 335.9L806.4 335.4L807.0 335.8L807.6 336.4L808.2 336.5L808.8 336.4L809.4 336.3L810.0 336.4L810.6 336.4L811.2 335.8L811.8 336.1L812.4 336.6L813.0 336.6L813.6 336.4L814.2 336.3L814.8 336.3L815.4 336.3L816.0 336.3L816.6 336.0L817.2 336.6L817.8 336.4L818.4 336.5L819.0 337.0L819.6 336.8L820.2 336.5L820.8 336.8L821.4 336.3L822.0 337.0L822.6 336.8L823.2 336.7L823.8 336.9L824.4 337.2L825.0 336.7L825.6 336.6L826.2 337.4L826.8 336.9L827.4 337.3L828.0 336.8L828.6 337.1L829.2 336.8L829.8 337.2L830.4 337.0L831.0 336.9L831.6 337.5L832.2 337.2L832.8 336.6L833.4 337.1L834.0 336.9L834.6 336.9L835.2 337.0L835.8 337.1L836.4 337.2L837.0 337.0L837.6 336.8L838.2 337.1L838.8 337.5L839.4 337.0L840.0 337.5L840.6 337.5L841.2 337.3L841.8 337.5L842.4 337.2L843.0 337.3L843.6 337.2L844.2 337.6L844.8 337.8L845.4 337.3L846.0 337.8L846.6 337.0L847.2 337.3L847.8 337.3L848.4 338.0L849.0 337.4L849.6 337.8L850.2 337.1L850.8 337.6L851.4 337.8L852.0 337.6L852.6 337.0L853.2 337.7L853.8 337.9L854.4 338.0L855.0 337.8L855.6 337.3L856.2 337.7L856.8 338.0L857.4 337.5L858.0 337.9L858.6 337.7L859.2 337.8L859.8 338.0L860.4 337.6L861.0 338.5L861.6 337.9L862.2 337.9L862.8 337.7L863.4 337.9L864.0 337.8L864.6 337.5L865.2 337.5L865.8 338.0L866.4 337.9L867.0 337.3L867.6 337.4L868.2 337.9L868.8 337.9L869.4 338.1L870.0 337.7L870.6 338.1L871.2 337.9L871.8 337.9L872.4 338.0L873.0 338.3L873.6 338.2L874.2 338.3L874.8 337.9L875.4 338.0L876.0 337.8L876.6 338.0L877.2 338.0L877.8 338.0L878.4 338.3L879.0 338.2L879.6 338.3L880.2 338.2L880.8 338.4L881.4 338.2L882.0 338.4L882.6 338.3L883.2 338.4L883.8 338.2L884.4 337.9L885.0 337.9L885.6 338.7L886.2 338.4L886.8 338.4L887.4 338.2L888.0 338.2L888.6 339.0L889.2 338.0L889.8 338.3L890.4 338.3L891.0 338.1L891.6 338.0L892.2 338.2L892.8 338.3L893.4 338.3L894.0 338.6L894.6 338.1L895.2 338.5L895.8 338.8L896.4 338.6L897.0 338.1L897.6 337.7L898.2 338.7L898.8 338.6L899.4 338.3L900.0 338.8L900.6 338.4L901.2 338.5L901.8 338.2L902.4 338.6L903.0 338.4L903.6 338.4L904.2 338.8L904.8 338.6L905.4 338.2L906.0 338.7L906.6 338.8L907.2 338.4L907.8 338.5L908.4 338.6L909.0 338.6L909.6 338.7L910.2 338.8L910.8 338.5L911.4 339.2L912.0 338.5L912.6 338.5L913.2 339.2L913.8 339.3L914.4 338.7L915.0 338.7L915.6 338.4L916.2 339.0L916.8 338.8L917.4 338.5L918.0 338.8L918.6 339.1L919.2 338.9L919.8 339.3L920.4 339.1L921.0 338.9L921.6 338.8L922.2 338.9L922.8 339.1L923.4 339.0L924.0 339.1L924.6 338.9L925.2 339.0L925.8 339.1L926.4 338.8L927.0 338.5L927.6 339.3L928.2 339.0L928.8 338.8L929.4 338.9L930.0 338.8L930.6 338.5L931.2 338.9L931.8 338.6L932.4 339.0L933.0 338.9L933.6 339.2L934.2 338.9L934.8 339.0L935.4 338.9L936.0 338.9L936.6 338.6L937.2 339.2L937.8 339.0L938.4 338.8L939.0 339.1L939.6 338.9L940.2 338.8L940.8 339.1L941.4 339.3L942.0 339.0L942.6 338.7L943.2 338.9L943.8 339.5L944.4 338.9L945.0 339.4L945.6 339.0L946.2 339.3L946.8 339.1L947.4 338.7L948.0 339.0L948.6 339.6L949.2 339.1L949.8 339.3L950.4 339.0L951.0 339.1L951.6 339.2L952.2 339.3L952.8 339.7L953.4 339.1L954.0 339.1L954.6 339.0L955.2 338.8L955.8 338.8L956.4 339.3L957.0 338.7L957.6 339.5L958.2 339.4L958.8 339.1L959.4 338.9L960.0 339.2L960.6 339.2L961.2 339.5L961.8 339.0L962.4 339.1L963.0 339.2L963.6 339.2L964.2 339.1L964.8 338.8L965.4 338.8L966.0 339.1L966.6 339.2L967.2 339.5L967.8 339.8L968.4 339.7L969.0 339.4L969.6 339.7L970.2 339.2L970.8 339.2L971.4 339.9L972.0 339.0L972.6 339.2L973.2 339.2L973.8 339.7L974.4 339.2L975.0 339.5L975.6 339.2L976.2 339.0L976.8 339.4L977.4 339.4L978.0 339.0L978.6 339.1L979.2 339.1L979.8 339.6L980.4 339.5L981.0 339.4L981.6 339.5L982.2 339.2L982.8 339.5L983.4 339.2L984.0 339.0L984.6 339.2L985.2 339.4L985.8 339.4L986.4 339.6L987.0 338.9L987.6 339.3L988.2 339.5L988.8 339.1L989.4 339.4L990.0 339.3L990.6 339.1L991.2 339.7L991.8 339.0L992.4 339.6L993.0 339.3L993.6 339.2L994.2 339.2L994.8 339.2L995.4 339.2L996.0 339.5L996.6 338.9L997.2 339.7L997.8 339.6L998.4 339.7L999.0 339.2L999.6 338.8L1000.2 339.2L1000.8 339.4L1001.4 339.5L1002.0 339.3L1002.6 339.4L1003.2 339.4L1003.8 339.0L1004.4 339.9L1005.0 339.1L1005.6 339.5L1006.2 339.7" fill="none" stroke="#000" stroke-width="2.4" stroke-linejoin="round"/>
<rect x="578.6" y="9.9" width="430.7" height="340.9" fill="none" stroke="#000" stroke-width="2"/>
<line x1="600.5" y1="350.8" x2="600.5" y2="355.3" stroke="#000" stroke-width="1.8"/>
<line x1="627.8" y1="350.8" x2="627.8" y2="358.3" stroke="#000" stroke-width="1.8"/>
<line x1="655.0" y1="350.8" x2="655.0" y2="355.3" stroke="#000" stroke-width="1.8"/>
<line x1="682.3" y1="350.8" x2="682.3" y2="358.3" stroke="#000" stroke-width="1.8"/>
<line x1="709.5" y1="350.8" x2="709.5" y2="355.3" stroke="#000" stroke-width="1.8"/>
<line x1="736.8" y1="350.8" x2="736.8" y2="358.3" stroke="#000" stroke-width="1.8"/>
<line x1="764.0" y1="350.8" x2="764.0" y2="355.3" stroke="#000" stroke-width="1.8"/>
<line x1="791.3" y1="350.8" x2="791.3" y2="358.3" stroke="#000" stroke-width="1.8"/>
<line x1="818.5" y1="350.8" x2="818.5" y2="355.3" stroke="#000" stroke-width="1.8"/>
<line x1="845.8" y1="350.8" x2="845.8" y2="358.3" stroke="#000" stroke-width="1.8"/>
<line x1="873.0" y1="350.8" x2="873.0" y2="355.3" stroke="#000" stroke-width="1.8"/>
<line x1="900.3" y1="350.8" x2="900.3" y2="358.3" stroke="#000" stroke-width="1.8"/>
<line x1="927.5" y1="350.8" x2="927.5" y2="355.3" stroke="#000" stroke-width="1.8"/>
<line x1="954.8" y1="350.8" x2="954.8" y2="358.3" stroke="#000" stroke-width="1.8"/>
<line x1="982.0" y1="350.8" x2="982.0" y2="355.3" stroke="#000" stroke-width="1.8"/>
<line x1="1009.3" y1="350.8" x2="1009.3" y2="358.3" stroke="#000" stroke-width="1.8"/>
<text x="627.8" y="376.8" font-size="18.5" text-anchor="middle">20</text>
<text x="682.3" y="376.8" font-size="18.5" text-anchor="middle">30</text>
<text x="736.8" y="376.8" font-size="18.5" text-anchor="middle">40</text>
<text x="791.3" y="376.8" font-size="18.5" text-anchor="middle">50</text>
<text x="845.8" y="376.8" font-size="18.5" text-anchor="middle">60</text>
<text x="900.3" y="376.8" font-size="18.5" text-anchor="middle">70</text>
<text x="954.8" y="376.8" font-size="18.5" text-anchor="middle">80</text>
<text x="1009.3" y="376.8" font-size="18.5" text-anchor="middle">90</text>
<text x="581" y="31.8" font-size="21.8">(b)</text>
<text x="775.4" y="26.7" font-size="14.56" font-weight="bold" textLength="114.6" lengthAdjust="spacingAndGlyphs">Cubic phase-CeO</text>
<text x="890.3" y="32.0" font-size="10.20" font-weight="bold">2</text>
<text x="895.6" y="27.0" font-size="13.59" font-weight="bold" transform="skewX(-12)" style="transform-box:fill-box;transform-origin:center">,</text>
<text x="904.5" y="26.7" font-size="14.56" font-weight="bold" textLength="96.1" lengthAdjust="spacingAndGlyphs">ICDD 81-0792</text>
<text class="sr" transform="translate(663.8,67.4) rotate(-90)" font-size="14.2" textLength="33" lengthAdjust="spacing">(111)</text>
<text class="sr" transform="translate(718.5,68.4) rotate(-90)" font-size="14.2" textLength="33" lengthAdjust="spacing">(200)</text>
<text class="sr" transform="translate(768.5,70.3) rotate(-90)" font-size="14.2" textLength="33" lengthAdjust="spacing">(220)</text>
<text class="sr" transform="translate(817.7,74.2) rotate(-90)" font-size="14.2" textLength="33" lengthAdjust="spacing">(311)</text>
<text x="1007.5" y="65.4" font-size="14.3" text-anchor="end">PMMA/CeO<tspan font-size="10" dy="4.5">2</tspan><tspan dy="-4.5">, 1wt.%, 800 °C</tspan></text>
<text x="1007.5" y="92.9" font-size="14.3" text-anchor="end">PMMA/CeO<tspan font-size="10" dy="4.5">2</tspan><tspan dy="-4.5">, 0.5wt.%, 800 °C</tspan></text>
<text x="1007.5" y="117.2" font-size="14.3" text-anchor="end">PMMA/CeO<tspan font-size="10" dy="4.5">2</tspan><tspan dy="-4.5">, 1wt.%, 600 °C</tspan></text>
<text x="1007.5" y="142.2" font-size="14.3" text-anchor="end">PMMA/CeO<tspan font-size="10" dy="4.5">2</tspan><tspan dy="-4.5">, 0.5wt.%, 600 °C</tspan></text>
<text x="1007.5" y="169.5" font-size="14.3" text-anchor="end">PMMA/CeO<tspan font-size="10" dy="4.5">2</tspan><tspan dy="-4.5">, 1wt.%, 400 °C</tspan></text>
<text x="1007.5" y="197.1" font-size="14.3" text-anchor="end">PMMA/CeO<tspan font-size="10" dy="4.5">2</tspan><tspan dy="-4.5">, 0.5wt.%, 400 °C</tspan></text>
<text x="1007.5" y="224.6" font-size="14.3" text-anchor="end">PMMA/CeO<tspan font-size="10" dy="4.5">2</tspan><tspan dy="-4.5">, 1wt.%, 235 °C</tspan></text>
<text x="1007.5" y="249.4" font-size="14.3" text-anchor="end">PMMA/CeO<tspan font-size="10" dy="4.5">2</tspan><tspan dy="-4.5">, 0.5wt.%, 235 °C</tspan></text>
<text x="1007.5" y="277" font-size="14.3" text-anchor="end">PMMA/CeO<tspan font-size="10" dy="4.5">2</tspan><tspan dy="-4.5">, 1wt.%, 120 °C</tspan></text>
<text x="1007.5" y="302.8" font-size="14.3" text-anchor="end">PMMA/CeO<tspan font-size="10" dy="4.5">2</tspan><tspan dy="-4.5">, 0.5wt.%, 120 °C</tspan></text>
<text x="1004.5" y="332.1" font-size="14.2" text-anchor="end">PMMA</text>
<text transform="translate(548.8,254.2) rotate(-90)" font-size="20" font-weight="bold" textLength="135" lengthAdjust="spacingAndGlyphs">Intensity (a.u.)</text>
<text x="737.3" y="408.9" font-size="18" font-weight="bold" textLength="113.5" lengthAdjust="spacingAndGlyphs">2θ (degrees)</text>
</svg></body></html>
